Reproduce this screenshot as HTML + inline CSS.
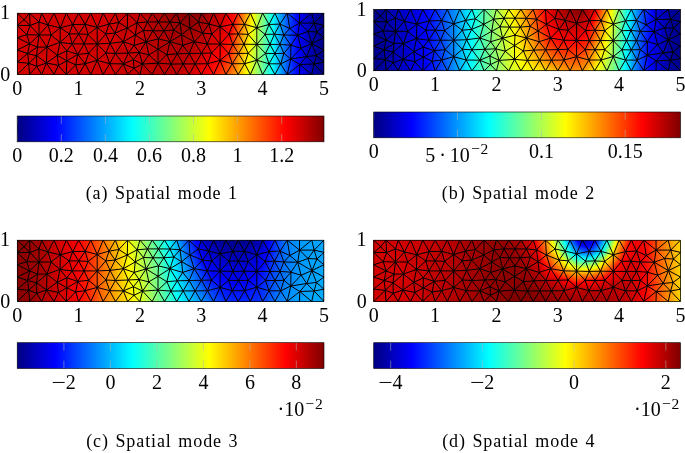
<!DOCTYPE html>
<html><head><meta charset="utf-8"><title>Spatial modes</title>
<style>html,body{margin:0;padding:0;background:#fff}svg{display:block}text{font-family:"Liberation Serif",serif;fill:#000}</style>
</head><body>
<svg width="685" height="453" viewBox="0 0 685 453">
<defs><linearGradient id="jet" x1="0" x2="1" y1="0" y2="0"><stop offset="0" stop-color="#000080"/><stop offset="0.125" stop-color="#0000ff"/><stop offset="0.375" stop-color="#00ffff"/><stop offset="0.625" stop-color="#ffff00"/><stop offset="0.875" stop-color="#ff0000"/><stop offset="1.0" stop-color="#800000"/></linearGradient></defs>
<g><clipPath id="c91"><rect x="17.2" y="13.14" width="306.8" height="61.36"/></clipPath><g clip-path="url(#c91)">
<rect x="17.2" y="13.1" width="306.8" height="61.4" fill="#000084"/>
<path d="M323.2 74.5L323.1 73.5L323.1 62.4L323 61.3L323 50.7L323.2 49.5L323.2 38.1L323 36.9L323 26.4L323.1 25.2L323.1 14.1L323.2 13.1L17.2 13.1L17.2 74.5Z" fill="#00008c"/>
<path d="M320.8 74.5L320.5 70.8L320.5 62.9L320.2 58.8L320.2 52.8L320.8 48.3L320.8 39.3L320.1 34.6L320.1 29L320.5 24.6L320.5 16.7L320.8 13.1L17.2 13.1L17.2 74.5Z" fill="#000094"/>
<path d="M318.5 74.5L318 68.1L318 63.3L317.4 56.3L317.4 54.9L318.4 47L318.4 40.4L317.2 32.3L317.2 31.7L317.9 24L317.9 19.3L318.5 13.1L17.2 13.1L17.2 74.5Z" fill="#00009c"/>
<path d="M316.1 74.5L315.4 65.4L315.4 63.8L315.1 60.4L315.3 55.7L315.2 52.2L316.1 45.8L316.1 41.6L315.2 35.9L315.4 32L315.1 26.1L315.4 23.4L315.4 21.9L316.1 13.1L17.2 13.1L17.2 74.5Z" fill="#0000a4"/>
<path d="M313.8 74.5L313.3 67.8L313.4 64L313.3 63.2L313.6 55.8L313.3 47.4L313.7 44.6L313.7 42.7L313.3 40.3L313.6 31.9L313.3 24.3L313.4 23.1L313.3 19.2L313.8 13.1L17.2 13.1L17.2 74.5Z" fill="#0000ac"/>
<path d="M311.5 74.5L311.5 74.3L311.9 64.1L311.7 61.6L312 56L311.5 44.5L311.6 43.8L311.6 43.4L311.5 42.5L311.9 31.8L311.7 26.5L312 23.1L311.5 13.3L311.5 13.1L17.2 13.1L17.2 74.5Z" fill="#0000b4"/>
<path d="M310.1 74.5L310.1 73.2L310.5 64.1L310.1 60L310.3 56.2L310 48.4L310.1 44.4L310.2 42.6L310 37.6L310.2 31.7L310.1 28.8L310.5 23.1L310.1 14.5L310.1 13.1L17.2 13.1L17.2 74.5Z" fill="#0000bc"/>
<path d="M308.7 74.5L308.7 72L309 64.2L308.5 58.4L308.6 56.3L308.5 52.2L308.7 45L308.8 41.8L308.4 32.8L308.4 31.6L308.4 31L309 23.1L308.7 15.6L308.7 13.1L17.2 13.1L17.2 74.5Z" fill="#0000c3"/>
<path d="M307.3 74.5L307.3 70.8L307.5 64.2L306.9 56.8L306.9 56.5L306.9 56L307.3 45.6L307.4 40.9L307 31.9L307 30.5L307.6 23.1L307.3 16.8L307.3 13.1L17.2 13.1L17.2 74.5Z" fill="#0000cb"/>
<path d="M305.9 74.5L305.9 69.6L306.1 64.3L305.5 57.8L305.7 56.7L305.5 54.8L305.8 46.2L306 40.1L305.7 32.4L305.6 29.1L306.1 23.1L305.9 18L305.9 13.1L17.2 13.1L17.2 74.5Z" fill="#0000d3"/>
<path d="M304.5 74.5L304.5 68.4L304.6 64.3L304.2 59.4L304.5 56.9L304.2 52.8L304.4 46.8L304.6 39.3L304.3 32.8L304.3 27.8L304.6 23.1L304.5 19.1L304.5 13.1L17.2 13.1L17.2 74.5Z" fill="#0000db"/>
<path d="M303.1 74.5L303 67.2L303.1 64.4L302.9 60.9L303.4 57L302.8 50.8L302.9 47.4L303.2 38.4L303 33.3L302.9 26.4L303.2 23.1L303 20.3L303.1 13.1L17.2 13.1L17.2 74.5Z" fill="#0000e3"/>
<path d="M301.6 74.5L301.6 66L301.7 64.4L301.5 62.5L302.2 57.2L301.5 48.8L301.5 48L301.8 37.6L301.6 33.8L301.5 25L301.7 23.1L301.6 21.4L301.6 13.1L17.2 13.1L17.2 74.5Z" fill="#0000eb"/>
<path d="M300.2 74.5L300.2 64.9L300.2 64.5L300.2 64L301.1 57.4L300.3 49L300.3 48L300.2 44.7L300.4 36.8L300.3 34.3L300.2 23.6L300.2 23.1L300.2 22.6L300.2 13.1L17.2 13.1L17.2 74.5Z" fill="#0000f3"/>
<path d="M299 74.5L299.1 65L299 64.1L299.9 57.6L299.2 50.1L299.2 47.6L298.9 39.7L299 35.9L298.9 34.7L298.9 27.9L299 23.4L299.1 22.6L299 13.1L17.2 13.1L17.2 74.5Z" fill="#0000fb"/>
<path d="M298.1 74.5L298.1 65.8L298 63.4L298.7 57.8L298.2 51.2L298.1 47.3L297.6 35.3L297.7 35.2L297.6 35.1L298 24L298.1 21.8L298 13.1L17.2 13.1L17.2 74.5Z" fill="#0004ff"/>
<path d="M297.1 74.5L297.2 66.6L296.9 62.8L297.6 58L297.1 52.4L297.1 47L296.6 36.8L296.8 35.2L296.7 34.3L297 24.6L297.1 21.1L297.1 13.1L17.2 13.1L17.2 74.5Z" fill="#000cff"/>
<path d="M296.1 74.5L296.2 67.3L295.9 62.1L296.4 58.1L296 53.5L296 46.7L295.6 38.2L295.9 35.1L295.7 33.5L296 25.1L296.1 20.3L296.1 13.1L17.2 13.1L17.2 74.5Z" fill="#0014ff"/>
<path d="M295.2 74.5L295.2 68.1L294.8 61.5L295.3 58.3L294.9 54.7L294.9 46.4L294.6 39.7L295 35.1L294.7 32.6L294.9 25.7L295.2 19.5L295.1 13.1L17.2 13.1L17.2 74.5Z" fill="#001cff"/>
<path d="M294.2 74.5L294.2 68.9L293.8 60.9L294.1 58.5L293.9 55.8L293.8 46L293.6 41.1L294.1 35.1L293.7 31.8L293.9 26.2L294.2 18.7L294.2 13.1L17.2 13.1L17.2 74.5Z" fill="#0024ff"/>
<path d="M293.2 74.5L293.3 69.7L292.7 60.2L292.9 58.7L292.8 56.9L292.8 45.7L292.6 42.6L293.2 35.1L292.7 31L292.9 26.8L293.2 18L293.2 13.1L17.2 13.1L17.2 74.5Z" fill="#002cff"/>
<path d="M292.3 74.5L292.3 70.4L291.7 59.6L291.8 58.9L291.7 58.1L291.7 45.4L291.6 44.1L292.3 35.1L291.8 30.2L291.9 27.4L292.3 17.2L292.2 13.1L17.2 13.1L17.2 74.5Z" fill="#0034ff"/>
<path d="M291.3 74.5L291.3 71.2L290.7 59.6L290.7 59.1L290.7 58.9L290.7 45.4L290.7 45.2L290.7 44.9L291.4 35.1L290.8 29.4L290.8 27.9L291.3 16.4L291.3 13.1L17.2 13.1L17.2 74.5Z" fill="#003cff"/>
<path d="M290.4 74.5L290.4 72L289.9 63.1L289.9 59.5L289.9 58.3L289.9 46.3L289.9 45.1L289.9 43.7L290.6 35.1L289.8 28.6L289.8 28.5L290.3 15.6L290.3 13.1L17.2 13.1L17.2 74.5Z" fill="#0044ff"/>
<path d="M289.4 74.5L289.4 72.7L289.1 66.5L289.1 59.8L289.1 57.6L289.1 47.2L289.1 45.1L289.1 42.6L289.7 35.1L289 29.4L289 28.2L289 23.9L289.3 14.9L289.3 13.1L17.2 13.1L17.2 74.5Z" fill="#004cff"/>
<path d="M288.4 74.5L288.4 73.5L288.2 70L288.4 60.2L288.3 56.9L288.3 48.2L288.4 45L288.3 41.4L288.8 35L288.2 30.2L288.3 27.9L288.2 19.1L288.4 14.1L288.4 13.1L17.2 13.1L17.2 74.5Z" fill="#0054ff"/>
<path d="M287.5 74.5L287.5 74.3L287.4 73.5L287.6 60.5L287.5 56.3L287.5 49.1L287.6 44.9L287.5 40.3L287.9 35L287.4 31.1L287.5 27.5L287.4 14.2L287.4 13.3L287.4 13.1L17.2 13.1L17.2 74.5Z" fill="#005cff"/>
<path d="M286.7 74.5L286.6 73.6L286.8 60.9L286.7 55.6L286.7 50L286.8 44.9L286.7 39.1L287 35L286.6 31.9L286.8 27.2L286.6 14L286.6 13.1L17.2 13.1L17.2 74.5Z" fill="#0064ff"/>
<path d="M286 74.5L285.9 72.4L286 61.3L285.9 54.9L285.9 50.9L286.1 44.8L285.9 38L286.1 35L285.9 32.8L286 26.8L285.9 15.1L286 13.1L17.2 13.1L17.2 74.5Z" fill="#006cff"/>
<path d="M285.3 74.5L285.1 71.1L285.2 61.6L285.1 54.3L285.1 51.9L285.3 44.8L285.1 36.8L285.2 35L285.1 33.6L285.3 26.5L285.1 16.3L285.3 13.1L17.2 13.1L17.2 74.5Z" fill="#0074ff"/>
<path d="M284.5 74.5L284.4 69.9L284.5 62L284.3 53.6L284.3 52.8L284.5 44.7L284.3 35.7L284.3 35L284.3 34.5L284.5 26.1L284.4 17.4L284.6 13.1L17.2 13.1L17.2 74.5Z" fill="#007cff"/>
<path d="M283.8 74.5L283.6 68.6L283.7 62.4L283.5 54.4L283.5 53.3L283.5 52.5L283.8 44.7L283.5 35.7L283.5 35L283.5 34.2L283.8 25.8L283.7 18.5L283.9 13.1L17.2 13.1L17.2 74.5Z" fill="#0083ff"/>
<path d="M283.1 74.5L282.9 67.4L282.9 62.7L282.8 56.8L282.9 53.3L282.8 50.9L283 44.6L282.8 37.5L282.9 34.9L282.8 32.1L283 25.4L282.9 19.6L283.2 13.1L17.2 13.1L17.2 74.5Z" fill="#008bff"/>
<path d="M282.4 74.5L282.1 66.1L282.1 63.1L282.1 59.2L282.2 53.3L282.1 49.2L282.2 44.6L282.1 39.2L282.2 34.9L282.1 30.1L282.2 25.1L282.2 20.7L282.5 13.1L17.2 13.1L17.2 74.5Z" fill="#0093ff"/>
<path d="M281.7 74.5L281.3 64.9L281.4 63.4L281.3 61.6L281.5 53.4L281.4 47.6L281.5 44.5L281.4 41L281.5 34.8L281.4 28.1L281.5 24.7L281.5 21.9L281.8 13.1L17.2 13.1L17.2 74.5Z" fill="#009bff"/>
<path d="M281 74.5L280.6 63.9L280.6 63.8L280.6 63.6L280.8 53.4L280.7 45.9L280.7 44.5L280.7 42.8L280.9 34.8L280.7 26L280.7 24.4L280.7 23L281.1 13.1L17.2 13.1L17.2 74.5Z" fill="#00a3ff"/>
<path d="M280.3 74.5L279.9 65.2L279.9 63.8L279.9 62.5L280.1 53.4L280 44.5L280 44.3L280.2 34.7L280 24.1L280 24L280.5 13.1L17.2 13.1L17.2 74.5Z" fill="#00abff"/>
<path d="M279.5 74.5L279.3 66.4L279.2 63.8L279.3 61.3L279.5 53.4L279.3 45.7L279.3 44.4L279.3 43.2L279.5 34.6L279.3 25.3L279.3 24.1L279.4 22.7L279.8 13.1L17.2 13.1L17.2 74.5Z" fill="#00b3ff"/>
<path d="M278.8 74.5L278.6 67.7L278.5 63.8L278.6 60.1L278.8 53.4L278.6 46.9L278.6 44.4L278.7 42L278.9 34.6L278.7 26.5L278.7 24.1L278.7 21.3L279.1 13.1L17.2 13.1L17.2 74.5Z" fill="#00bbff"/>
<path d="M278.1 74.5L277.9 68.9L277.9 63.8L278 59L278.1 53.5L278 48.1L278 44.4L278 40.8L278.2 34.5L278 27.6L278.1 24.1L278.1 20L278.4 13.1L17.2 13.1L17.2 74.5Z" fill="#00c3ff"/>
<path d="M277.4 74.5L277.2 70.2L277.2 63.8L277.3 57.8L277.4 53.5L277.3 49.2L277.3 44.4L277.4 39.7L277.5 34.5L277.4 28.8L277.4 24.2L277.5 18.6L277.7 13.1L17.2 13.1L17.2 74.5Z" fill="#00cbff"/>
<path d="M276.7 74.5L276.6 71.4L276.5 63.8L276.7 56.7L276.7 53.5L276.7 50.4L276.6 44.4L276.7 38.5L276.8 34.4L276.8 30L276.8 24.2L276.8 17.3L277 13.1L17.2 13.1L17.2 74.5Z" fill="#00d3ff"/>
<path d="M276 74.5L275.9 72.6L275.8 63.8L276 55.5L276.1 53.5L276 51.6L276 44.4L276.1 37.3L276.2 34.4L276.1 31.2L276.1 24.2L276.2 15.9L276.3 13.1L17.2 13.1L17.2 74.5Z" fill="#00dbff"/>
<path d="M275.3 74.5L275.2 73.9L275.1 63.8L275.4 54.4L275.4 53.6L275.4 52.8L275.3 44.4L275.5 36.1L275.5 34.3L275.5 32.3L275.5 24.2L275.6 14.6L275.6 13.1L17.2 13.1L17.2 74.5Z" fill="#00e3ff"/>
<path d="M274.5 74.5L274.6 73.8L274.4 63.8L274.7 54L274.7 53.6L274.7 53.2L274.7 44.4L274.8 35L274.8 34.3L274.8 33.5L274.9 24.3L274.9 13.2L275 13.1L17.2 13.1L17.2 74.5Z" fill="#00ebff"/>
<path d="M273.8 74.5L273.9 72.6L273.8 63.8L274 55.2L274 53.6L274 51.9L274 44.4L274.2 34.9L274.2 34.3L274.2 33.8L274.2 24.3L274.3 14.3L274.3 13.1L17.2 13.1L17.2 74.5Z" fill="#00f3ff"/>
<path d="M273 74.5L273.2 71.3L273.1 63.8L273.2 56.4L273.3 53.5L273.4 50.7L273.3 44.4L273.5 36.4L273.5 34.3L273.5 32.7L273.6 24.3L273.7 15.5L273.7 13.1L17.2 13.1L17.2 74.5Z" fill="#00fbff"/>
<path d="M272.3 74.5L272.5 70.1L272.4 63.8L272.5 57.6L272.6 53.5L272.7 49.4L272.7 44.4L272.8 38L272.8 34.3L272.9 31.6L273 24.3L273 16.8L273.1 13.1L17.2 13.1L17.2 74.5Z" fill="#04fffb"/>
<path d="M271.5 74.5L271.8 68.8L271.7 63.8L271.8 58.9L271.9 53.5L272 48.2L272 44.4L272.1 39.6L272.2 34.3L272.3 30.4L272.3 24.4L272.4 18L272.5 13.1L17.2 13.1L17.2 74.5Z" fill="#0cfff3"/>
<path d="M270.8 74.5L271.1 67.5L271 63.8L271.1 60.1L271.2 53.5L271.4 47L271.4 44.4L271.4 41.2L271.5 34.3L271.6 29.3L271.7 24.4L271.7 19.2L271.9 13.1L17.2 13.1L17.2 74.5Z" fill="#14ffeb"/>
<path d="M270 74.5L270.4 66.3L270.3 63.8L270.4 61.3L270.5 53.5L270.7 45.7L270.7 44.4L270.7 42.8L270.9 34.3L271 28.2L271 24.4L271.1 20.5L271.2 13.1L17.2 13.1L17.2 74.5Z" fill="#1cffe3"/>
<path d="M269.3 74.5L269.7 65L269.6 63.8L269.7 62.5L269.8 53.5L270 44.5L270.2 34.3L270.4 27L270.4 24.4L270.4 21.7L270.6 13.1L17.2 13.1L17.2 74.5Z" fill="#24ffdb"/>
<path d="M268.6 74.5L269 63.8L269 63.8L269.1 53.5L269.3 45.8L269.3 44.4L269.4 43.2L269.5 34.3L269.8 25.9L269.8 24.5L269.8 22.9L270 13.1L17.2 13.1L17.2 74.5Z" fill="#2cffd3"/>
<path d="M267.8 74.5L268.2 65.1L268.2 63.5L268.3 61.8L268.4 53.4L268.6 47.3L268.6 44.4L268.8 41.9L268.9 34.4L269.1 24.8L269.1 24.2L269.4 13.1L17.2 13.1L17.2 74.5Z" fill="#34ffcb"/>
<path d="M267.1 74.5L267.4 66.5L267.5 63.3L267.6 59.7L267.7 53.4L267.8 48.8L267.9 44.4L268.1 40.6L268.2 34.4L268.4 25.8L268.5 24.6L268.5 23.7L268.8 13.1L17.2 13.1L17.2 74.5Z" fill="#3cffc3"/>
<path d="M266.3 74.5L266.6 67.8L266.7 63.1L267 57.7L267 53.4L267.1 50.3L267.2 44.4L267.5 39.3L267.6 34.4L267.7 27.7L267.8 24.8L267.9 22.6L268.2 13.1L17.2 13.1L17.2 74.5Z" fill="#44ffbb"/>
<path d="M265.6 74.5L265.8 69.2L266 62.9L266.3 55.7L266.3 53.4L266.4 51.7L266.5 44.4L266.8 38L266.9 34.4L267 29.5L267.1 25L267.3 21.6L267.5 13.1L17.2 13.1L17.2 74.5Z" fill="#4cffb3"/>
<path d="M264.8 74.5L265 70.5L265.2 62.7L265.6 53.7L265.6 53.4L265.6 53.2L265.8 44.4L266.2 36.7L266.2 34.4L266.3 31.3L266.4 25.2L266.7 20.5L266.9 13.1L17.2 13.1L17.2 74.5Z" fill="#54ffab"/>
<path d="M264.1 74.5L264.2 71.9L264.5 62.4L264.8 53.9L264.9 52.8L265 44.4L265.6 35.4L265.6 34.4L265.6 33.1L265.7 25.4L266.2 19.5L266.3 13.1L17.2 13.1L17.2 74.5Z" fill="#5cffa3"/>
<path d="M263.3 74.5L263.4 73.2L263.7 62.2L264.1 54.5L264.2 52L264.3 44.4L264.9 34.7L264.9 34.3L265.1 25.6L265.6 18.4L265.7 13.1L17.2 13.1L17.2 74.5Z" fill="#64ff9b"/>
<path d="M262.6 74.5L262.6 74.4L263 62L263.3 55.2L263.5 51.3L263.6 44.4L264.1 35.6L264.3 33.8L264.4 25.7L265 17.3L265.1 13.1L17.2 13.1L17.2 74.5Z" fill="#6cff93"/>
<path d="M261.7 74.5L261.9 72.6L262.2 61.8L262.5 55.8L262.8 50.6L262.9 44.4L263.4 36.5L263.6 33.2L263.7 25.9L264.4 16.3L264.5 13.1L17.2 13.1L17.2 74.5Z" fill="#74ff8b"/>
<path d="M260.9 74.5L261.2 70.9L261.4 61.6L261.7 56.4L262.1 49.9L262.2 44.4L262.6 37.4L262.9 32.7L263 26.1L263.8 15.2L263.9 13.1L17.2 13.1L17.2 74.5Z" fill="#7cff83"/>
<path d="M260.1 74.5L260.5 69.2L260.7 61.3L260.9 57L261.4 49.1L261.5 44.4L261.8 38.4L262.3 32.2L262.4 26.3L263.2 14.2L263.2 13.1L17.2 13.1L17.2 74.5Z" fill="#83ff7c"/>
<path d="M259.2 74.5L259.8 67.4L259.9 61.1L260.1 57.6L260.7 48.4L260.8 44.4L261.1 39.3L261.6 31.6L261.7 26.5L262.6 13.2L262.6 13.1L17.2 13.1L17.2 74.5Z" fill="#8bff74"/>
<path d="M258.4 74.5L259.1 65.7L259.2 60.9L259.3 58.2L260 47.7L260 44.4L260.3 40.2L260.9 31.1L261 26.7L261.8 15.2L262 13.1L17.2 13.1L17.2 74.5Z" fill="#93ff6c"/>
<path d="M257.6 74.5L258.3 64L258.4 60.7L258.5 58.9L259.3 46.9L259.3 44.4L259.5 41.1L260.3 30.6L260.3 26.8L261 17.3L261.3 13.1L17.2 13.1L17.2 74.5Z" fill="#9bff64"/>
<path d="M256.7 74.5L257.6 62.2L257.7 60.5L257.7 59.5L258.6 46.2L258.6 44.4L258.8 42L259.6 30L259.6 27L260.2 19.3L260.7 13.1L17.2 13.1L17.2 74.5Z" fill="#a3ff5c"/>
<path d="M255.9 74.5L256.9 60.5L256.9 60.2L256.9 60.1L257.9 45.5L257.9 44.4L258 43L258.9 29.5L259 27.2L259.4 21.4L260.1 13.1L17.2 13.1L17.2 74.5Z" fill="#abff54"/>
<path d="M255.1 74.5L256 62L256.1 60.4L256.2 59.7L256.8 50.6L257.2 44.8L257.2 44.4L257.2 43.9L258.3 29L258.3 27.4L258.6 23.4L259.4 13.1L17.2 13.1L17.2 74.5Z" fill="#b3ff4c"/>
<path d="M254.2 74.5L255 64.3L255.3 60.6L255.5 59.1L256.4 44.8L256.5 44.4L256.5 44L256.8 39.7L257.6 28.4L257.6 27.6L257.8 25.4L258.8 13.1L17.2 13.1L17.2 74.5Z" fill="#bbff44"/>
<path d="M253.4 74.5L254 66.5L254.5 60.9L254.7 58.5L255.6 45.6L255.8 44.4L255.9 43.3L256.8 29.5L256.9 27.9L256.9 27.8L256.9 27.5L258.1 13.1L17.2 13.1L17.2 74.5Z" fill="#c3ff3c"/>
<path d="M252.6 74.5L253 68.7L253.7 61.1L254 57.9L254.7 46.5L255 44.3L255.2 42.5L256.2 28.3L256.3 27.7L256.4 26.8L257.5 13.1L17.2 13.1L17.2 74.5Z" fill="#cbff34"/>
<path d="M251.7 74.5L252 70.9L252.8 61.4L253.2 57.3L253.9 47.4L254.3 44.3L254.6 41.8L255.5 28.8L255.7 27.5L255.8 25.6L256.9 13.1L17.2 13.1L17.2 74.5Z" fill="#d3ff2c"/>
<path d="M250.9 74.5L251 73.1L252 61.6L252.5 56.7L253.1 48.2L253.6 44.3L253.9 41L254.7 29.4L255 27.3L255.3 24.3L256.2 13.1L17.2 13.1L17.2 74.5Z" fill="#dbff24"/>
<path d="M250.1 74.5L250.1 74L251.2 61.8L251.7 56.1L252.2 49.1L252.8 44.3L253.3 40.3L254 30L254.4 27.1L254.8 23.1L255.6 13.1L17.2 13.1L17.2 74.5Z" fill="#e3ff1c"/>
<path d="M249.3 74.5L249.4 72.7L250.4 62.1L251 55.5L251.4 50L252.1 44.3L252.6 39.5L253.2 30.6L253.8 26.9L254.2 21.9L254.9 13.1L17.2 13.1L17.2 74.5Z" fill="#ebff14"/>
<path d="M248.5 74.5L248.7 71.4L249.6 62.3L250.3 54.9L250.5 50.8L251.4 44.3L252 38.8L252.5 31.1L253.1 26.8L253.7 20.7L254.3 13.1L17.2 13.1L17.2 74.5Z" fill="#f3ff0c"/>
<path d="M247.7 74.5L248.1 70.1L248.7 62.5L249.5 54.4L249.7 51.7L250.7 44.3L251.3 38L251.7 31.7L252.5 26.6L253.1 19.4L253.7 13.1L17.2 13.1L17.2 74.5Z" fill="#fbff04"/>
<path d="M246.9 74.5L247.4 68.8L247.9 62.8L248.8 53.8L248.8 52.6L249.9 44.3L250.7 37.3L251 32.3L251.9 26.4L252.6 18.2L253 13.1L17.2 13.1L17.2 74.5Z" fill="#fffb00"/>
<path d="M246.2 74.5L246.7 67.5L247.1 63L248 53.9L248 53.3L248.1 53L249.2 44.3L250 36.5L250.3 32.8L251.2 26.2L252.1 17L252.4 13.1L17.2 13.1L17.2 74.5Z" fill="#fff300"/>
<path d="M245.4 74.5L246 66.2L246.3 63.3L246.8 57.3L247.3 53.3L247.5 51.8L248.5 44.3L249.4 35.8L249.5 33.4L250.6 26L251.5 15.8L251.7 13.1L17.2 13.1L17.2 74.5Z" fill="#ffeb00"/>
<path d="M244.6 74.5L245.3 64.9L245.5 63.5L245.7 60.7L246.6 53.3L246.9 50.6L247.8 44.2L248.7 35.1L248.8 34L250 25.9L251 14.6L251.1 13.1L17.2 13.1L17.2 74.5Z" fill="#ffe300"/>
<path d="M243.8 74.5L244.6 63.9L244.7 63.6L245.9 53.3L246.4 49.4L247 44.2L248 34.8L248.1 34.2L249.4 25.7L250.5 13.3L250.5 13.1L17.2 13.1L17.2 74.5Z" fill="#ffdb00"/>
<path d="M243 74.5L243.7 65.3L243.9 63.7L244.1 62.6L245.1 53.3L245.8 48.1L246.3 44.2L247 37L247.4 34.4L247.6 32.9L248.7 25.5L249.7 14.4L249.9 13.1L17.2 13.1L17.2 74.5Z" fill="#ffd300"/>
<path d="M242.2 74.5L242.8 66.8L243.2 63.7L243.4 61.6L244.4 53.3L245.2 46.9L245.6 44.2L246.1 39.3L246.8 34.4L247.1 31.7L248.1 25.3L248.9 15.9L249.3 13.1L17.2 13.1L17.2 74.5Z" fill="#ffcb00"/>
<path d="M241.5 74.5L241.9 68.2L242.5 63.7L242.8 60.6L243.7 53.4L244.7 45.7L244.9 44.2L245.1 41.5L246.1 34.3L246.7 30.4L247.5 25.2L248.2 17.3L248.8 13.1L17.2 13.1L17.2 74.5Z" fill="#ffc300"/>
<path d="M240.7 74.5L241 69.7L241.7 63.7L242.2 59.6L243 53.4L244.1 44.4L244.1 44.2L244.2 43.7L245.5 34.3L246.2 29.1L246.8 25L247.4 18.8L248.2 13.1L17.2 13.1L17.2 74.5Z" fill="#ffbb00"/>
<path d="M239.9 74.5L240.1 71.2L241 63.7L241.6 58.6L242.2 53.4L243.3 45.4L243.5 44.2L243.6 43.5L244.8 34.3L245.8 27.8L246.2 24.8L246.6 20.3L247.7 13.1L17.2 13.1L17.2 74.5Z" fill="#ffb300"/>
<path d="M239.1 74.5L239.2 72.6L240.3 63.7L241 57.6L241.5 53.4L242.3 47L242.9 44.2L243.1 42.5L244.2 34.2L245.3 26.5L245.6 24.6L245.8 21.7L247.1 13.1L17.2 13.1L17.2 74.5Z" fill="#ffab00"/>
<path d="M238.3 74.5L238.4 74.1L239.6 63.7L240.4 56.6L240.8 53.4L241.4 48.5L242.2 44.2L242.5 41.6L243.6 34.2L244.8 25.3L244.9 24.4L245.1 23.2L246.6 13.1L17.2 13.1L17.2 74.5Z" fill="#ffa300"/>
<path d="M237.3 74.5L237.7 73.7L238.8 63.7L239.8 55.6L240.1 53.4L240.5 50.1L241.6 44.2L242 40.7L242.9 34.2L244.3 24.6L244.3 24.3L244.4 24.1L246 13.1L17.2 13.1L17.2 74.5Z" fill="#ff9b00"/>
<path d="M236.1 74.5L237.1 72.6L238.1 63.7L239.2 54.6L239.4 53.4L239.6 51.7L240.9 44.2L241.5 39.7L242.3 34.1L243.4 25.9L243.7 24.3L243.9 23.3L245.4 13.1L17.2 13.1L17.2 74.5Z" fill="#ff9300"/>
<path d="M235 74.5L236.5 71.5L237.4 63.7L238.6 53.6L238.7 53.2L240.3 44.2L241 38.8L241.6 34.1L242.6 27.2L243.1 24.3L243.5 22.6L244.9 13.1L17.2 13.1L17.2 74.5Z" fill="#ff8b00"/>
<path d="M233.8 74.5L235.9 70.4L236.7 63.7L237.7 54.7L237.9 53.4L238.1 52.8L239.7 44.3L240.5 37.9L241 34.1L241.8 28.5L242.5 24.3L243 21.8L244.3 13.1L17.2 13.1L17.2 74.5Z" fill="#ff8300"/>
<path d="M232.7 74.5L235.3 69.3L235.9 63.7L236.8 56.2L237.3 53.4L237.6 52L239 44.3L239.9 36.9L240.3 34L240.9 29.8L241.8 24.3L242.6 21L243.8 13.1L17.2 13.1L17.2 74.5Z" fill="#ff7c00"/>
<path d="M231.5 74.5L234.7 68.2L235.2 63.7L235.9 57.7L236.6 53.4L237.1 51.2L238.4 44.3L239.4 36L239.7 34L240.1 31.1L241.2 24.3L242.2 20.2L243.2 13.1L17.2 13.1L17.2 74.5Z" fill="#ff7400"/>
<path d="M230.4 74.5L234.1 67.1L234.5 63.7L235 59.2L235.9 53.4L236.6 50.5L237.8 44.3L238.9 35.1L239.1 34L239.3 32.4L240.6 24.3L241.7 19.5L242.7 13.1L17.2 13.1L17.2 74.5Z" fill="#ff6c00"/>
<path d="M229.2 74.5L233.5 66L233.8 63.7L234.1 60.7L235.2 53.4L236.2 49.7L237.1 44.3L238.4 34.1L238.5 33.7L240 24.3L241.3 18.7L242.1 13.1L17.2 13.1L17.2 74.5Z" fill="#ff6400"/>
<path d="M228.1 74.5L232.9 64.9L233 63.7L233.2 62.1L234.5 53.4L235.7 48.9L236.5 44.3L237.6 35.2L237.8 34L237.9 33.3L239.4 24.3L240.8 17.9L241.5 13.1L17.2 13.1L17.2 74.5Z" fill="#ff5c00"/>
<path d="M226.9 74.5L232.3 63.8L232.3 63.6L233.9 53.4L235.2 48.1L235.9 44.3L236.8 36.8L237.1 34L237.4 32.4L238.7 24.3L240.4 17.2L241 13.1L17.2 13.1L17.2 74.5Z" fill="#ff5400"/>
<path d="M225.8 74.5L225.8 74.4L231 63.4L231.8 62.4L233.2 53.4L234.7 47.3L235.2 44.3L236 38.3L236.4 34L236.9 31.6L238.1 24.3L240 16.4L240.4 13.1L17.2 13.1L17.2 74.5Z" fill="#ff4c00"/>
<path d="M224.1 74.5L225.1 72.7L229.7 63L231.3 61L232.5 53.3L234.2 46.6L234.6 44.3L235.2 39.9L235.8 34L236.5 30.7L237.5 24.3L239.5 15.6L239.9 13.1L17.2 13.1L17.2 74.5Z" fill="#ff4400"/>
<path d="M222.5 74.5L224.4 71L228.3 62.6L230.9 59.7L231.8 53.3L233.7 45.8L234 44.4L234.3 41.5L235.1 34L236 29.9L236.9 24.3L239.1 14.8L239.3 13.1L17.2 13.1L17.2 74.5Z" fill="#ff3c00"/>
<path d="M220.8 74.5L223.7 69.3L227 62.3L230.4 58.3L231.1 53.3L233.2 45L233.3 44.4L233.5 43.1L234.4 34.1L235.5 29L236.3 24.3L238.6 14.1L238.8 13.1L17.2 13.1L17.2 74.5Z" fill="#ff3400"/>
<path d="M219.2 74.5L223 67.6L225.6 61.9L229.9 56.9L230.5 53.3L232.6 44.9L232.6 44.4L232.7 44.1L233.8 34.1L235 28.2L235.6 24.3L238.2 13.3L238.2 13.1L17.2 13.1L17.2 74.5Z" fill="#ff2c00"/>
<path d="M217.6 74.5L222.3 65.8L224.3 61.5L229.4 55.6L229.8 53.3L231.1 48L231 44.3L232.2 42.7L233.1 34.1L234.5 27.3L235 24.3L237.1 15.2L237.2 13.1L17.2 13.1L17.2 74.5Z" fill="#ff2400"/>
<path d="M215.9 74.5L221.6 64.1L223 61.2L229 54.2L229.1 53.3L229.6 51.2L229.5 44.3L231.7 41.3L232.4 34.1L234 26.5L234.4 24.3L235.9 17.8L236 13.1L17.2 13.1L17.2 74.5Z" fill="#ff1c00"/>
<path d="M214.3 74.5L220.9 62.4L221.6 60.8L226.8 54.8L228.2 52.7L228 44.3L231.2 40L231.8 34.2L233.6 25.6L233.8 24.3L234.7 20.3L234.8 13.1L17.2 13.1L17.2 74.5Z" fill="#ff1400"/>
<path d="M212 74.5L212.8 73.1L218.5 63.7L220.2 60.7L220.3 60.5L221.1 59.6L226.6 51.1L226.5 44.2L230.6 38.6L231.1 34.2L233.1 24.8L233.2 24.3L233.5 22.9L233.6 13.1L17.2 13.1L17.2 74.5Z" fill="#ff0c00"/>
<path d="M209.3 74.5L211.4 70.7L217.3 61.1L218.5 59L220.1 57.1L225.1 49.5L225 44.2L230.1 37.2L230.4 34.2L232.1 26.1L232 24.5L232.3 23.5L232.5 13.1L17.2 13.1L17.2 74.5Z" fill="#ff0400"/>
<path d="M206.5 74.5L210.1 68.3L213.9 62L216.6 57.4L220.1 53.2L223.6 47.8L223.5 44.1L229.6 35.8L229.7 34.2L230.7 30L230.1 24.8L231.2 21.7L231.3 13.1L17.2 13.1L17.2 74.5Z" fill="#fb0000"/>
<path d="M203.8 74.5L208.7 65.9L210.5 62.9L214.6 55.7L220.1 49.2L222 46.2L222 44.1L229.1 34.4L229.1 34.2L229.2 33.9L228.3 25.2L230 19.8L230.1 13.1L17.2 13.1L17.2 74.5Z" fill="#f30000"/>
<path d="M201 74.5L201.1 74.3L207.2 63.7L207.3 63.5L208 62.4L212.7 54.1L220.1 45.3L220.5 44.6L220.5 44.1L222.3 41.6L227.1 32.7L226.4 25.6L228.9 18L229 13.1L17.2 13.1L17.2 74.5Z" fill="#eb0000"/>
<path d="M197.9 74.5L199.5 71.5L203.9 63.8L205.8 60.8L210.4 53L211 52L217.6 44L218.6 42.3L220.1 40.2L225.1 31L224.5 25.9L227.7 16.2L227.8 13.1L17.2 13.1L17.2 74.5Z" fill="#e30000"/>
<path d="M194.7 74.5L197.9 68.6L200.6 63.8L204.3 58.1L207.2 53.1L209.7 49.3L214 44L216.6 39.8L220.1 34.6L223 29.3L222.7 26.3L226.6 14.4L226.6 13.1L17.2 13.1L17.2 74.5Z" fill="#db0000"/>
<path d="M191.6 74.5L196.3 65.8L197.4 63.9L202.7 55.4L204 53.2L208.4 46.5L210.5 43.9L214.6 37.3L220.1 29.1L220.9 27.5L220.8 26.7L223.3 19.2L225 13.1L17.2 13.1L17.2 74.5Z" fill="#d30000"/>
<path d="M187.7 74.5L188.5 73.5L193.3 63.9L194.5 62.7L200.6 53.3L201.1 52.6L207 43.8L207.1 43.7L207.8 42.5L212.5 34.8L214.9 31.2L218.4 26.4L219.2 24.9L222.6 13.1L115.5 13.1L115.6 13.7L115.7 23L116.3 29.6L116.3 32.6L116.7 34.9L116.5 42.6L117 51L117 53.4L117 55.6L116.5 63.8L116.6 72.8L116.4 74.5Z" fill="#cb0000"/>
<path d="M180.8 74.5L185.6 68.1L187.7 63.9L192.5 59.2L196.2 53.3L199.2 49.6L203.4 43.3L205.8 40.7L209.9 33.8L211.2 31.9L215.7 25.7L217.6 21.7L220.1 13.1L131.4 13.1L133.4 19L134.4 24.3L136 29.9L136.9 34.1L137.2 36.3L138 44.3L139.8 51.5L140 52.7L140.3 56.4L140.2 62.9L140 65.3L139.2 73.8L139.1 74.5Z" fill="#c30000"/>
<path d="M169.8 74.5L174.3 70L179.9 63.9L182.3 62.3L184.7 61.2L190.4 55.6L191.9 53.4L197.3 46.6L199.9 42.7L204.5 37.8L207 33.5L210.2 28.8L212.9 25.1L216.1 18.5L217.7 13.1L142.2 13.1L143.7 17.5L144.6 22.1L145.8 25.5L146.7 30.6L148.2 38.5L148.8 41.3L149.6 44.1L150.9 53.7L152.1 57.9L152.7 63.4L153.8 71.3L156.6 74.5Z" fill="#bc0000"/>
<path d="M149.5 13.1L150.6 16.2L151.8 21.9L153.7 29.7L154.1 30.8L154.7 33.4L156.1 39.5L158.1 46.4L159.3 48.5L162.7 52.2L165.4 56.1L167.7 56.6L176.2 55.5L177.7 54.5L179.5 53.7L187.4 51.2L191.1 49L195.4 43.6L196.4 42.1L203.2 34.8L204.2 33.3L209.2 25.6L210.1 24.4L214.6 15.3L215.2 13.1Z" fill="#b40000"/>
<path d="M155.8 13.1L158 21.3L158.2 21.9L158.2 22.2L161.7 30.8L162.3 33.2L170 41.7L170 41.8L170 41.8L170.1 41.8L182.7 45.5L182.8 45.4L183.2 45.2L191.7 40.3L193.6 40L200.7 32.4L201.9 31.6L207.1 23.7L207.9 22.9L212.7 13.1Z" fill="#ac0000"/>
<path d="M161.5 13.1L162.3 16.2L165 22L166.9 26.4L170.1 30.3L172.7 33.5L177.9 37L182 38.2L184.8 36.5L192.2 35.4L196.5 30.7L200.6 27.9L203.8 23.1L206.3 20.5L209.9 13.1Z" fill="#a40000"/>
<path d="M166.6 13.1L170.7 21L171.9 22.2L175.8 27.7L181.1 31.1L185.5 31.6L190.7 30.7L192.4 29L199.3 24.2L200.5 22.4L204.7 18.1L207.1 13.1Z" fill="#9c0000"/>
<path d="M171.2 13.1L173.4 17.5L178.7 22.7L179.3 23.6L180.2 24.1L183 24.4L189.7 25.8L197.1 20.7L199.2 19.6L203 15.7L204.3 13.1Z" fill="#940000"/>
<path d="M175.7 13.1L176.1 13.9L177.4 15.2L183.5 19.1L189.4 20.3L193.6 17.4L201.1 13.6L201.4 13.3L201.5 13.1Z" fill="#8c0000"/>
<path d="M185.6 13.1L187.8 14.5L189.1 14.8L190 14.1L192 13.1Z" fill="#840000"/>
<path d="M17.2 74.5L29.5 74.5M17.2 74.5L17.2 62.2M17.2 74.5L28.8 63.3M29.5 74.5L41.7 74.5M29.5 74.5L28.8 63.3M29.5 74.5L36.7 66.3M41.7 74.5L54 74.5M41.7 74.5L46.5 63M41.7 74.5L36.7 66.3M54 74.5L66.3 74.5M54 74.5L46.5 63M54 74.5L58.4 65.4M66.3 74.5L78.6 74.5M66.3 74.5L58.4 65.4M66.3 74.5L66.8 60.9M66.3 74.5L75.7 64.9M78.6 74.5L90.8 74.5M78.6 74.5L75.7 64.9M78.6 74.5L85.2 63.7M90.8 74.5L103.1 74.5M90.8 74.5L85.2 63.7M90.8 74.5L97.2 60.4M103.1 74.5L115.4 74.5M103.1 74.5L97.2 60.4M103.1 74.5L109.7 63.7M115.4 74.5L127.6 74.5M115.4 74.5L109.7 63.7M115.4 74.5L123.3 63.9M127.6 74.5L139.9 74.5M127.6 74.5L123.3 63.9M127.6 74.5L134 68.3M139.9 74.5L152.2 74.5M139.9 74.5L134 68.3M139.9 74.5L142.6 64.1M152.2 74.5L164.5 74.5M152.2 74.5L142.6 64.1M152.2 74.5L158 63.1M164.5 74.5L176.7 74.5M164.5 74.5L158 63.1M164.5 74.5L171 64.1M176.7 74.5L189 74.5M176.7 74.5L171 64.1M176.7 74.5L183.2 63.9M189 74.5L201.3 74.5M189 74.5L183.2 63.9M189 74.5L195.1 63.9M201.3 74.5L213.6 74.5M201.3 74.5L195.1 63.9M201.3 74.5L207.5 63.7M213.6 74.5L225.8 74.5M213.6 74.5L207.5 63.7M213.6 74.5L220.1 60.4M225.8 74.5L238.1 74.5M225.8 74.5L220.1 60.4M225.8 74.5L232.3 63.7M238.1 74.5L250.4 74.5M238.1 74.5L232.3 63.7M238.1 74.5L244.7 63.7M250.4 74.5L262.6 74.5M250.4 74.5L244.7 63.7M250.4 74.5L256.8 60.2M262.6 74.5L274.9 74.5M262.6 74.5L256.8 60.2M262.6 74.5L269 63.8M274.9 74.5L287.2 74.5M274.9 74.5L269 63.8M274.9 74.5L280.7 63.8M287.2 74.5L299.5 74.5M287.2 74.5L290.8 59M287.2 74.5L280.7 63.8M287.2 74.5L299.8 64.5M299.5 74.5L311.7 74.5M299.5 74.5L299.8 64.5M311.7 74.5L324 74.5M311.7 74.5L299.8 64.5M311.7 74.5L314.1 64M324 74.5L324 62.2M324 74.5L314.1 64M17.2 13.1L29.5 13.1M17.2 13.1L17.2 25.4M17.2 13.1L24.1 19.8M29.5 13.1L41.7 13.1M29.5 13.1L24.1 19.8M29.5 13.1L30.1 25.5M29.5 13.1L39 22M41.7 13.1L54 13.1M41.7 13.1L39 22M41.7 13.1L47.9 25M54 13.1L66.3 13.1M54 13.1L47.9 25M54 13.1L60.3 27.8M66.3 13.1L78.6 13.1M66.3 13.1L60.3 27.8M66.3 13.1L72.7 24.6M78.6 13.1L90.8 13.1M78.6 13.1L72.7 24.6M78.6 13.1L85.1 24.3M90.8 13.1L103.1 13.1M90.8 13.1L85.1 24.3M90.8 13.1L97.2 27.5M103.1 13.1L115.4 13.1M103.1 13.1L97.2 27.5M103.1 13.1L109.1 24.1M115.4 13.1L127.6 13.1M115.4 13.1L109.1 24.1M115.4 13.1L118.8 22.5M127.6 13.1L139.9 13.1M127.6 13.1L118.8 22.5M127.6 13.1L127.3 28M127.6 13.1L137.2 22.8M139.9 13.1L152.2 13.1M139.9 13.1L137.2 22.8M139.9 13.1L147.5 21.9M152.2 13.1L164.5 13.1M152.2 13.1L147.5 21.9M152.2 13.1L158.5 21.9M164.5 13.1L176.7 13.1M164.5 13.1L158.5 21.9M164.5 13.1L169.9 22M176.7 13.1L189 13.1M176.7 13.1L169.9 22M176.7 13.1L180 22.8M189 13.1L201.3 13.1M189 13.1L180 22.8M189 13.1L189.9 28M189 13.1L198.5 22M201.3 13.1L213.6 13.1M201.3 13.1L198.5 22M201.3 13.1L208.8 24.1M213.6 13.1L225.8 13.1M213.6 13.1L208.8 24.1M213.6 13.1L220.1 26.8M225.8 13.1L238.1 13.1M225.8 13.1L220.1 26.8M225.8 13.1L232.8 24.3M238.1 13.1L250.4 13.1M238.1 13.1L232.8 24.3M238.1 13.1L244.5 24.3M250.4 13.1L262.6 13.1M250.4 13.1L244.5 24.3M250.4 13.1L256.8 27.8M262.6 13.1L274.9 13.1M262.6 13.1L256.8 27.8M262.6 13.1L269 24.5M274.9 13.1L287.2 13.1M274.9 13.1L269 24.5M274.9 13.1L280 24.1M287.2 13.1L299.5 13.1M287.2 13.1L280 24.1M287.2 13.1L299.6 23.1M287.2 13.1L289.8 28.5M299.5 13.1L311.7 13.1M299.5 13.1L299.6 23.1M311.7 13.1L324 13.1M311.7 13.1L299.6 23.1M311.7 13.1L314.2 23.1M324 13.1L324 25.4M324 13.1L314.2 23.1M17.2 62.2L17.2 50M17.2 62.2L27.6 53.5M17.2 62.2L28.8 63.3M17.2 50L17.2 37.7M17.2 50L29.6 43.9M17.2 50L27.6 53.5M17.2 37.7L17.2 25.4M17.2 37.7L26.8 34.7M17.2 37.7L29.6 43.9M17.2 25.4L24.1 19.8M17.2 25.4L30.1 25.5M17.2 25.4L26.8 34.7M324 62.2L324 50M324 62.2L316.5 55.5M324 62.2L314.1 64M324 50L324 37.7M324 50L311.9 43.6M324 50L316.5 55.5M324 37.7L324 25.4M324 37.7L316.9 32M324 37.7L311.9 43.6M324 25.4L314.2 23.1M324 25.4L316.9 32M24.1 19.8L30.1 25.5M30.1 25.5L39 22M30.1 25.5L26.8 34.7M30.1 25.5L39 35M39 22L47.9 25M39 22L39 35M47.9 25L60.3 27.8M47.9 25L39 35M47.9 25L51.1 35M60.3 27.8L72.7 24.6M60.3 27.8L51.1 35M60.3 27.8L69.3 33.9M60.3 27.8L60 42.4M72.7 24.6L69.3 33.9M72.7 24.6L78.7 33.9M72.7 24.6L85.1 24.3M26.8 34.7L39 35M26.8 34.7L29.6 43.9M39 35L51.1 35M39 35L29.6 43.9M39 35L37.5 47.1M39 35L47 47.1M51.1 35L47 47.1M51.1 35L60 42.4M69.3 33.9L78.7 33.9M69.3 33.9L60 42.4M69.3 33.9L72.2 43.9M78.7 33.9L72.2 43.9M78.7 33.9L85.1 24.3M78.7 33.9L88.1 34.4M78.7 33.9L84.1 43.9M29.6 43.9L37.5 47.1M29.6 43.9L27.6 53.5M37.5 47.1L47 47.1M37.5 47.1L27.6 53.5M37.5 47.1L36.6 55.8M47 47.1L60 42.4M47 47.1L36.6 55.8M47 47.1L57.3 55.3M47 47.1L46.5 63M60 42.4L72.2 43.9M60 42.4L66.8 50.8M60 42.4L57.3 55.3M72.2 43.9L66.8 50.8M72.2 43.9L77.7 54.4M72.2 43.9L84.1 43.9M27.6 53.5L36.6 55.8M27.6 53.5L28.8 63.3M66.8 50.8L57.3 55.3M66.8 50.8L77.7 54.4M66.8 50.8L66.8 60.9M36.6 55.8L28.8 63.3M36.6 55.8L46.5 63M36.6 55.8L36.7 66.3M57.3 55.3L46.5 63M57.3 55.3L58.4 65.4M57.3 55.3L66.8 60.9M77.7 54.4L66.8 60.9M77.7 54.4L75.7 64.9M77.7 54.4L84.1 43.9M77.7 54.4L88.6 53.3M77.7 54.4L85.2 63.7M28.8 63.3L36.7 66.3M46.5 63L58.4 65.4M46.5 63L36.7 66.3M58.4 65.4L66.8 60.9M66.8 60.9L75.7 64.9M75.7 64.9L85.2 63.7M85.1 24.3L97.2 27.5M85.1 24.3L88.1 34.4M97.2 27.5L109.1 24.1M97.2 27.5L88.1 34.4M97.2 27.5L105.7 33.9M97.2 27.5L97.2 43.9M109.1 24.1L118.8 22.5M109.1 24.1L105.7 33.9M109.1 24.1L115.1 33.1M118.8 22.5L127.3 28M118.8 22.5L115.1 33.1M127.3 28L137.2 22.8M127.3 28L115.1 33.1M127.3 28L135.2 35M127.3 28L123.3 41.7M137.2 22.8L135.2 35M137.2 22.8L147.5 21.9M137.2 22.8L143.5 30.5M88.1 34.4L84.1 43.9M88.1 34.4L97.2 43.9M105.7 33.9L115.1 33.1M105.7 33.9L97.2 43.9M105.7 33.9L110.1 43.4M115.1 33.1L110.1 43.4M115.1 33.1L123.3 41.7M135.2 35L123.3 41.7M135.2 35L134.2 45.4M135.2 35L143.5 30.5M135.2 35L146.1 41.9M84.1 43.9L97.2 43.9M84.1 43.9L88.6 53.3M97.2 43.9L110.1 43.4M97.2 43.9L88.6 53.3M97.2 43.9L105.9 53M97.2 43.9L97.2 60.4M110.1 43.4L123.3 41.7M110.1 43.4L105.9 53M110.1 43.4L115.4 53.5M123.3 41.7L134.2 45.4M123.3 41.7L115.4 53.5M123.3 41.7L128.3 53M134.2 45.4L128.3 53M134.2 45.4L139.2 52.5M134.2 45.4L146.1 41.9M88.6 53.3L85.2 63.7M88.6 53.3L97.2 60.4M105.9 53L115.4 53.5M105.9 53L97.2 60.4M105.9 53L109.7 63.7M115.4 53.5L128.3 53M115.4 53.5L109.7 63.7M115.4 53.5L123.3 63.9M128.3 53L139.2 52.5M128.3 53L123.3 63.9M128.3 53L133.4 59.7M139.2 52.5L133.4 59.7M139.2 52.5L146.1 41.9M139.2 52.5L148.8 54.9M139.2 52.5L142.6 64.1M85.2 63.7L97.2 60.4M97.2 60.4L109.7 63.7M109.7 63.7L123.3 63.9M123.3 63.9L134 68.3M123.3 63.9L133.4 59.7M134 68.3L133.4 59.7M134 68.3L142.6 64.1M133.4 59.7L142.6 64.1M147.5 21.9L158.5 21.9M147.5 21.9L143.5 30.5M147.5 21.9L153 30.8M158.5 21.9L169.9 22M158.5 21.9L153 30.8M158.5 21.9L163.9 30.8M169.9 22L180 22.8M169.9 22L163.9 30.8M169.9 22L173.8 30M180 22.8L189.9 28M180 22.8L173.8 30M180 22.8L181.6 34.7M189.9 28L198.5 22M189.9 28L181.6 34.7M189.9 28L194.2 41.7M189.9 28L202.5 33.1M198.5 22L208.8 24.1M198.5 22L202.5 33.1M143.5 30.5L153 30.8M143.5 30.5L146.1 41.9M153 30.8L163.9 30.8M153 30.8L146.1 41.9M153 30.8L158.5 38.9M163.9 30.8L173.8 30M163.9 30.8L158.5 38.9M163.9 30.8L170 41.7M173.8 30L181.6 34.7M173.8 30L170 41.7M181.6 34.7L170 41.7M181.6 34.7L182.7 45.4M181.6 34.7L194.2 41.7M146.1 41.9L158.5 38.9M146.1 41.9L158 49.3M146.1 41.9L148.8 54.9M158.5 38.9L170 41.7M158.5 38.9L158 49.3M170 41.7L182.7 45.4M170 41.7L158 49.3M170 41.7L166.9 54.7M170 41.7L177.3 53.8M182.7 45.4L194.2 41.7M182.7 45.4L177.3 53.8M182.7 45.4L189.2 53.5M194.2 41.7L189.2 53.5M194.2 41.7L202.5 33.1M194.2 41.7L207.2 43.9M194.2 41.7L201.5 53.3M158 49.3L148.8 54.9M158 49.3L166.9 54.7M158 49.3L158 63.1M148.8 54.9L142.6 64.1M148.8 54.9L158 63.1M166.9 54.7L177.3 53.8M166.9 54.7L158 63.1M166.9 54.7L171 64.1M177.3 53.8L189.2 53.5M177.3 53.8L171 64.1M177.3 53.8L183.2 63.9M189.2 53.5L183.2 63.9M189.2 53.5L195.1 63.9M189.2 53.5L201.5 53.3M142.6 64.1L158 63.1M158 63.1L171 64.1M171 64.1L183.2 63.9M183.2 63.9L195.1 63.9M195.1 63.9L201.5 53.3M195.1 63.9L207.5 63.7M208.8 24.1L220.1 26.8M208.8 24.1L202.5 33.1M208.8 24.1L211.8 33.9M220.1 26.8L232.8 24.3M220.1 26.8L211.8 33.9M220.1 26.8L229 34.2M220.1 26.8L220.1 44.1M232.8 24.3L244.5 24.3M232.8 24.3L229 34.2M232.8 24.3L238.3 33.9M244.5 24.3L256.8 27.8M244.5 24.3L238.3 33.9M244.5 24.3L248.2 34.4M256.8 27.8L248.2 34.4M256.8 27.8L256.8 44.4M256.8 27.8L269 24.5M256.8 27.8L265.1 34.4M202.5 33.1L211.8 33.9M202.5 33.1L207.2 43.9M211.8 33.9L207.2 43.9M211.8 33.9L220.1 44.1M229 34.2L238.3 33.9M229 34.2L220.1 44.1M229 34.2L232.8 44.4M238.3 33.9L248.2 34.4M238.3 33.9L232.8 44.4M238.3 33.9L244 44.2M248.2 34.4L244 44.2M248.2 34.4L256.8 44.4M207.2 43.9L220.1 44.1M207.2 43.9L201.5 53.3M207.2 43.9L211.5 53M220.1 44.1L232.8 44.4M220.1 44.1L211.5 53M220.1 44.1L228.6 53.3M220.1 44.1L220.1 60.4M232.8 44.4L244 44.2M232.8 44.4L228.6 53.3M232.8 44.4L238.5 53.5M244 44.2L256.8 44.4M244 44.2L238.5 53.5M244 44.2L248.2 53.3M256.8 44.4L248.2 53.3M256.8 44.4L256.8 60.2M256.8 44.4L265.1 34.4M256.8 44.4L270 44.4M256.8 44.4L265.5 53.4M201.5 53.3L211.5 53M201.5 53.3L207.5 63.7M211.5 53L207.5 63.7M211.5 53L220.1 60.4M228.6 53.3L238.5 53.5M228.6 53.3L220.1 60.4M228.6 53.3L232.3 63.7M238.5 53.5L248.2 53.3M238.5 53.5L232.3 63.7M238.5 53.5L244.7 63.7M248.2 53.3L244.7 63.7M248.2 53.3L256.8 60.2M207.5 63.7L220.1 60.4M220.1 60.4L232.3 63.7M232.3 63.7L244.7 63.7M244.7 63.7L256.8 60.2M256.8 60.2L265.5 53.4M256.8 60.2L269 63.8M269 24.5L280 24.1M269 24.5L265.1 34.4M269 24.5L274.4 34.2M280 24.1L289.8 28.5M280 24.1L274.4 34.2M280 24.1L283.8 35M299.6 23.1L314.2 23.1M299.6 23.1L289.8 28.5M299.6 23.1L297.7 35.2M299.6 23.1L308 31.5M314.2 23.1L308 31.5M314.2 23.1L316.9 32M289.8 28.5L283.8 35M289.8 28.5L297.7 35.2M265.1 34.4L274.4 34.2M265.1 34.4L270 44.4M274.4 34.2L283.8 35M274.4 34.2L270 44.4M274.4 34.2L280 44.4M283.8 35L297.7 35.2M283.8 35L280 44.4M283.8 35L290.9 45.2M297.7 35.2L308 31.5M297.7 35.2L290.9 45.2M297.7 35.2L311.9 43.6M297.7 35.2L301.1 48.2M308 31.5L316.9 32M308 31.5L311.9 43.6M316.9 32L311.9 43.6M270 44.4L280 44.4M270 44.4L265.5 53.4M270 44.4L274.9 53.6M280 44.4L290.9 45.2M280 44.4L274.9 53.6M280 44.4L283.9 53.3M290.9 45.2L301.1 48.2M290.9 45.2L283.9 53.3M290.9 45.2L290.8 59M311.9 43.6L301.1 48.2M311.9 43.6L306.7 56.5M311.9 43.6L316.5 55.5M301.1 48.2L290.8 59M301.1 48.2L306.7 56.5M265.5 53.4L274.9 53.6M265.5 53.4L269 63.8M274.9 53.6L283.9 53.3M274.9 53.6L269 63.8M274.9 53.6L280.7 63.8M283.9 53.3L290.8 59M283.9 53.3L280.7 63.8M290.8 59L306.7 56.5M290.8 59L280.7 63.8M290.8 59L299.8 64.5M306.7 56.5L316.5 55.5M306.7 56.5L299.8 64.5M306.7 56.5L314.1 64M316.5 55.5L314.1 64M269 63.8L280.7 63.8M299.8 64.5L314.1 64" fill="none" stroke="#000" stroke-width="1.0" stroke-linecap="round"/></g>
<rect x="17.2" y="13.14" width="306.8" height="61.36" fill="none" stroke="#000" stroke-width="0.5"/></g>
<g><clipPath id="c444"><rect x="373.7" y="9.44" width="306.8" height="61.36"/></clipPath><g clip-path="url(#c444)">
<rect x="373.7" y="9.4" width="306.8" height="61.4" fill="#000084"/>
<path d="M373.7 9.4L373.7 70.8L680.5 70.8L680.5 9.4Z" fill="#00008c"/>
<path d="M377.1 9.4L377.1 12.7L377.1 18.9L377.1 21.7L377.1 25L377.1 32.9L377.1 35.7L377.1 44.6L377.1 47.4L377.1 55.7L377.1 58.9L377.1 67.5L377.1 70.8L677.1 70.8L676.6 66.7L676.6 59.2L675.9 54.5L675.9 49.7L677.1 44.5L677.1 35.6L675.8 30.3L675.8 26.1L676.7 20.8L676.7 13.3L677.4 9.4Z" fill="#000094"/>
<path d="M380.6 9.4L380.6 21.8L380.6 28.4L380.6 31.8L380.6 37.5L380.6 42.9L380.6 48.6L380.6 52.7L380.6 59.2L380.6 64.1L380.6 70.8L673.7 70.8L672.7 62.5L672.7 59.9L672 55.4L672.2 51.9L672.1 49.5L673.7 42.7L673.7 37.4L672.2 31.2L672.3 28.3L672.1 24.1L672.9 19.9L672.9 17.2L674.2 9.4Z" fill="#00009c"/>
<path d="M384.1 9.4L384.2 11.7L384.2 19.5L384.1 21.8L384.2 28.7L384.2 31L384.2 33.7L384.1 39.2L384.1 41.1L384.2 49.7L384.2 50L384.2 59.5L384.2 60.7L384.1 70.8L670.3 70.8L669.5 65L669.8 60.3L669.7 59.3L670.1 52.1L669.6 43.2L670.2 40.9L670.2 39.1L669.7 37L670.2 28.2L669.9 20.6L670 19.4L669.9 16L670.9 9.4Z" fill="#0000a4"/>
<path d="M387.7 9.4L387.7 11L387.7 21.4L387.7 23L387.6 31.1L387.7 38.7L387.7 40.8L387.7 47.5L387.7 50.7L387.7 57.4L387.7 60.5L387.7 68.9L387.7 70.8L667.5 70.8L667.5 70.2L668 60.4L667.7 57.3L667.9 52.3L667.5 42.2L667.6 40.3L667.6 39.5L667.5 37.2L668.1 28L667.9 23.3L668.4 19.4L668 9.6L668 9.4Z" fill="#0000ac"/>
<path d="M391.2 9.4L391.1 14.3L391.1 20L391.1 26.7L391.1 31.2L391.1 35.4L391.2 42.2L391.1 45.2L391.2 54L391.2 61.9L391.2 64.9L391.2 70.8L665.8 70.8L665.8 68.8L666.2 60.5L665.7 55.3L665.8 52.6L665.6 46.9L665.9 41L666.1 38.5L665.7 31.7L666 27.9L665.9 26L666.7 19.4L666.4 11L666.4 9.4Z" fill="#0000b4"/>
<path d="M394.7 9.4L394.6 17.6L394.6 18.7L394.6 30.4L394.6 31.3L394.6 32.1L394.6 38.2L394.7 43.4L394.7 50.7L394.7 53.3L394.7 62.1L394.6 65L394.7 70.8L664.1 70.8L664.1 67.4L664.4 60.5L663.7 53.3L663.7 52.8L663.7 51.7L664.2 41.7L664.5 37.6L664 28L664 27.4L665 19.4L664.8 12.3L664.9 9.4Z" fill="#0000bc"/>
<path d="M398.1 9.4L398.1 9.7L398.3 19.3L398.3 28.2L398.3 31.3L398.3 35.5L398.3 43.4L398.3 47.7L398.3 55.9L398.3 60.9L398.1 70.6L398.1 70.8L662.4 70.8L662.4 65.9L662.7 60.6L662 54.2L662.1 53L662 51.1L662.5 42.4L662.9 36.6L662.5 28.5L662.6 25.9L663.4 19.4L663.2 13.6L663.3 9.4Z" fill="#0000c3"/>
<path d="M402 9.4L401.9 16.5L402 20.5L402 24.1L402.1 31.3L401.9 41.1L401.9 43.4L402 44.6L401.9 58.5L401.9 59.7L401.9 62.1L402 70.8L660.7 70.8L660.7 64.5L660.9 60.6L660.4 56L660.7 53.2L660.5 48.8L660.8 43.1L661.3 35.7L661 29.1L661.1 24.4L661.7 19.4L661.5 14.9L661.8 9.4Z" fill="#0000cb"/>
<path d="M405.8 9.4L405.7 18.8L405.7 21.6L405.7 25.4L405.8 31.3L405.8 36.7L405.7 42.6L405.7 45.2L405.7 57.4L405.7 59.9L405.8 63.5L405.8 70.8L659 70.8L659 63.1L659.1 60.7L658.8 57.9L659.2 53.5L658.9 46.5L659.1 43.8L659.7 34.7L659.5 29.6L659.6 22.9L660.1 19.4L659.9 16.3L660.3 9.4Z" fill="#0000d3"/>
<path d="M409.7 9.4L409.6 11.2L409.5 22.5L409.6 29.8L409.6 32.9L409.5 41.2L409.6 48.3L409.6 54.6L409.5 60.6L409.7 69.5L409.7 70.8L657.3 70.8L657.3 61.7L657.3 60.8L657.2 59.7L657.8 53.7L657.4 44.6L657.4 44.4L657.4 43.9L658.1 33.8L657.9 30.2L658.1 21.4L658.4 19.4L658.3 17.6L658.7 9.4Z" fill="#0000db"/>
<path d="M413.1 9.4L413.4 16L413.2 23.3L413.3 26.9L413.3 36L413.3 39.9L413.5 51.3L413.5 51.8L413.4 61.4L413.4 64.7L413.2 70.8L655.6 70.8L655.8 61.2L655.7 60.5L656.3 53.9L656 46.1L656.1 44L656.1 38.8L656.5 32.8L656.4 30.7L656.7 19.9L656.7 19.4L656.7 18.9L657.2 9.4Z" fill="#0000e3"/>
<path d="M416.5 9.4L417 23.7L417 24.1L417 24.2L416.9 38.3L416.9 38.8L417 39.3L416.7 50.2L416.7 53.3L416.8 60.6L416.8 63.9L416.5 70.8L654.4 70.8L654.5 62.2L654.4 59.6L654.9 54.1L654.6 47.6L654.7 43.6L654.8 33.7L654.9 31.9L654.9 31.2L655 26.5L655.4 19.8L655.5 18.9L655.7 9.4Z" fill="#0000eb"/>
<path d="M419.9 9.4L420.1 16.1L419.7 23.4L419.9 26.2L419.9 35.6L419.7 39.1L420.1 43.1L420 48.7L420 55.2L420 58.9L420 67.6L419.9 70.8L653.1 70.8L653.2 63.2L653 58.8L653.4 54.4L653.2 49.1L653.4 43.3L653.5 32.6L653.7 31.5L653.6 30.9L654.1 20.5L654.4 18L654.7 9.4Z" fill="#0000f3"/>
<path d="M651.9 70.8L651.9 64.2L651.7 58L652 54.6L651.8 50.6L652.1 42.9L652.1 34.5L652.7 31.4L652.4 30L652.9 21.2L653.4 17.2L653.6 9.4L423.1 9.4L423.1 10L422.4 22.6L422.9 28.3L422.9 32.9L422.5 39.4L423.2 47L423.2 47.2L423.2 57.1L423.2 57.2L423.2 59.7L423.1 70.5L423.1 70.8Z" fill="#0000fb"/>
<path d="M650.6 70.8L650.7 65.2L650.3 57.2L650.5 54.8L650.4 52.1L650.7 42.5L650.8 36.5L651.6 31.4L651.3 29L651.6 21.9L652.4 16.4L652.6 9.4L425.2 9.4L425.6 14.4L425.2 21.9L425.8 30.1L425.8 30.2L425.9 30.4L425.3 39.8L425.7 44.1L425.4 47.8L425.4 55.9L425.5 58.2L425.4 68.1L425.3 70.8Z" fill="#0004ff"/>
<path d="M649.4 70.8L649.4 66.2L648.9 56.3L649.1 55.1L649 53.5L649.4 42.1L649.4 38.5L650.6 31.4L650.1 28.1L650.4 22.6L651.3 15.6L651.5 9.4L427.3 9.4L428 18.8L427.9 21.2L428.1 23.9L427.9 30.2L428.2 38.3L428.1 40.1L428.2 40.9L427.6 48.5L427.6 54.6L427.8 59.2L427.7 65.8L427.4 70.8Z" fill="#000cff"/>
<path d="M648.1 70.8L648.1 67.3L647.6 55.5L647.6 55.3L647.6 55L648.1 41.7L648.1 40.4L649.6 31.4L649 27.1L649.2 23.2L650.3 14.7L650.5 9.4L429.4 9.4L430.2 19L430.1 20.8L430.2 22.4L429.9 30.2L430.2 37.9L430.1 40.2L430.2 43.1L429.8 49.3L429.8 53.3L430.1 60.2L430.1 63.4L429.6 70.8Z" fill="#0014ff"/>
<path d="M646.9 70.8L646.9 68.3L646.4 59L646.6 55.7L646.6 54.8L646.9 42L647 41.4L647 40.9L648.6 31.4L647.8 26.1L647.9 23.9L649.3 13.9L649.4 9.4L431.5 9.4L432 15.5L431.9 20.8L432.1 25.4L431.9 30.2L432.1 35L431.9 40.2L432.2 46.9L432 50L432 52L432.3 60.6L432.3 61.2L432.3 61.5L431.8 70.8Z" fill="#001cff"/>
<path d="M645.6 70.8L645.6 69.3L645.3 63.7L645.7 56.1L645.7 54L646 43.1L646.2 41.4L646.2 39.7L647.6 31.4L646.7 25.2L646.7 24.6L648.2 13.1L648.3 9.4L433.6 9.4L433.8 11.9L433.6 20.8L434 28.3L433.9 30.2L434 32.1L433.6 40.2L434.2 50.7L434.2 50.9L434 61L434.1 67.7L434 70.8Z" fill="#0024ff"/>
<path d="M644.3 70.8L644.3 70.3L644.3 68.4L644.8 56.5L644.8 53.3L645.1 44.1L645.3 41.3L645.4 38.6L646.6 31.4L645.7 25.5L645.8 24.6L645.8 22.4L647.2 12.3L647.3 9.4L435.5 9.4L435.5 10.3L435.3 20.7L435.8 29.4L435.7 30.3L435.8 31.3L435.4 40.2L435.8 48.1L435.7 50.6L435.8 52.7L435.7 60.7L435.9 69.5L435.8 70.8Z" fill="#002cff"/>
<path d="M643.3 70.8L643.3 70.2L644 56.9L643.9 52.5L644.1 45.2L644.5 41.3L644.5 37.4L645.6 31.4L644.8 26.4L645 24.3L645.2 18.6L646.2 11.4L646.2 9.4L437.1 9.4L437.2 13.1L437 20.7L437.4 27L437.3 30.4L437.4 34.3L437.2 40.2L437.4 45.4L437.3 50.4L437.4 54.7L437.3 60.5L437.5 66.9L437.4 70.8Z" fill="#0034ff"/>
<path d="M642.6 70.8L642.5 68.9L643.1 57.3L643.1 51.8L643.2 46.3L643.7 41.2L643.7 36.2L644.5 31.3L644 27.3L644.3 23.9L644.6 14.8L645.2 10.6L645.2 9.4L438.7 9.4L438.9 16L438.8 20.7L439 24.5L438.9 30.4L439 37.4L438.9 40.2L439.1 42.7L438.9 50.2L439 56.7L439 60.3L439.1 64.3L438.9 70.8Z" fill="#003cff"/>
<path d="M641.8 70.8L641.7 67.5L642.2 57.7L642.2 51.1L642.3 47.4L642.9 41.2L642.9 35L643.5 31.3L643.1 28.3L643.5 23.6L643.9 11L644.1 9.8L644.1 9.4L440.3 9.4L440.5 18.8L440.5 20.6L440.6 22.1L440.5 30.5L440.7 40L440.7 40.2L440.7 40.4L440.5 50.1L440.7 58.7L440.6 60.1L440.7 61.7L440.4 70.8Z" fill="#0044ff"/>
<path d="M641 70.8L640.9 66.2L641.3 58.1L641.3 50.3L641.3 48.5L642 41.1L642.1 33.9L642.5 31.3L642.2 29.2L642.8 23.2L643.2 10.1L643.3 9.4L441.8 9.4L442.1 19.5L442.1 20.7L442.1 22.5L442 30.6L442.2 36.4L442.1 40.2L442.2 43.5L442 49.9L442.2 58.5L442.2 59.9L442.2 60.9L442 70.8Z" fill="#004cff"/>
<path d="M640.3 70.8L640.1 64.9L640.4 58.5L640.4 49.6L640.4 49.5L641.2 41.1L641.3 32.7L641.5 31.3L641.3 30.2L642 22.9L642.4 11.4L642.7 9.4L443.4 9.4L443.6 16.6L443.5 21.1L443.6 27.6L443.6 30.7L443.7 32.9L443.5 40.2L443.7 46.6L443.6 49.7L443.7 53.9L443.6 59.5L443.7 63.8L443.5 70.8Z" fill="#0054ff"/>
<path d="M639.5 70.8L639.3 63.6L639.6 59L639.5 52.3L639.7 49.6L639.7 48.1L640.4 41L640.5 31.5L640.5 31.3L640.5 31.1L641.3 22.6L641.6 12.6L642 9.4L445 9.4L445.1 13.7L445 21.5L445.1 30.3L445.1 31.3L445 40.2L445.1 49.5L445.1 49.6L445.1 59.1L445.2 66.6L445 70.8Z" fill="#005cff"/>
<path d="M638.8 70.8L638.5 62.3L638.7 59.4L638.7 55.2L639.1 49.6L639 46.5L639.6 40.9L639.6 33L639.8 31.2L639.8 29.8L640.5 22.2L640.8 13.8L641.4 9.4L446.6 9.4L446.6 10.8L446.4 21.9L446.5 29.2L446.5 32.8L446.4 40.2L446.6 47.9L446.6 50.8L446.5 58.7L446.6 69.4L446.6 70.8Z" fill="#0064ff"/>
<path d="M638 70.8L637.7 61L637.8 59.8L637.8 58.1L638.4 49.6L638.3 44.9L638.7 40.9L638.8 35.1L639.2 31.2L639.2 28.1L639.8 21.9L640 15L640.8 9.4L448 9.4L448 11L447.8 22.3L447.9 28.2L447.9 34.2L447.9 40.2L448 46.4L448 52L447.9 58.3L448 69.2L448 70.8Z" fill="#006cff"/>
<path d="M637.3 70.8L637 60.5L637 60.1L637 59.7L637.7 49.7L637.7 43.4L637.9 40.8L637.9 37.2L638.5 31.1L638.6 26.3L639 21.5L639.2 16.2L640.1 9.4L449.3 9.4L449.4 14.2L449.3 22.6L449.4 27.1L449.4 35.7L449.3 40.2L449.4 44.9L449.4 53.1L449.3 57.9L449.4 66.2L449.3 70.8Z" fill="#0074ff"/>
<path d="M636.5 70.8L636.2 61.8L636.4 60.1L636.4 58.7L637 49.7L637 41.8L637.1 40.8L637.1 39.3L637.9 31.1L638 24.6L638.3 21.2L638.4 17.4L639.5 9.4L450.7 9.4L450.8 17.3L450.7 23L450.8 26L450.8 37.1L450.7 40.2L450.8 43.4L450.8 54.3L450.7 57.5L450.8 63.1L450.5 70.8Z" fill="#007cff"/>
<path d="M635.7 70.8L635.5 63.2L635.8 60.1L635.8 57.6L636.4 49.7L636.3 41.1L636.3 40.7L636.3 40.4L637.3 31L637.4 22.8L637.6 20.8L637.6 18.7L638.8 9.4L452 9.4L452.2 20.4L452.2 23.4L452.2 25L452.2 38.6L452.2 40.2L452.2 41.8L452.2 55.4L452.2 57.1L452.2 60L451.8 70.8Z" fill="#0083ff"/>
<path d="M635 70.8L634.8 64.5L635.1 60.1L635.2 56.6L635.7 49.7L635.6 42.3L635.8 40.7L635.8 39.5L636.7 31L636.8 21.1L636.8 20.5L636.8 19.9L638.2 9.4L453.3 9.4L453.6 23.5L453.6 23.8L453.6 23.9L453.6 40.1L453.6 40.2L453.6 40.3L453.6 56.6L453.6 56.7L453.6 57L453.1 70.8Z" fill="#008bff"/>
<path d="M634.2 70.8L634.1 65.8L634.5 60.1L634.6 55.5L635 49.8L635 43.5L635.2 40.7L635.3 38.5L636 30.9L636.1 21.1L636.2 20.4L636.2 19.7L637.5 9.4L454.7 9.4L454.9 20.9L454.8 23.5L454.8 24.6L454.8 38.9L454.8 40.1L454.8 41.3L454.8 55.8L454.8 57L454.8 59.2L454.3 70.8Z" fill="#0093ff"/>
<path d="M633.5 70.8L633.4 67.2L633.9 60.1L634 54.5L634.4 49.8L634.3 44.7L634.6 40.7L634.7 37.5L635.4 30.9L635.5 22.2L635.6 20.4L635.7 18.6L636.9 9.4L456 9.4L456.2 17.8L456.1 23.1L456.1 25.6L456.1 37.4L456 40.1L456 42.6L456 54.8L455.9 57.3L455.9 62L455.6 70.8Z" fill="#009bff"/>
<path d="M632.7 70.8L632.6 68.5L633.3 60.1L633.4 53.4L633.7 49.8L633.7 45.8L634 40.7L634.2 36.5L634.8 30.9L634.8 23.4L635 20.4L635.2 17.6L636.3 9.4L457.3 9.4L457.4 14.7L457.3 22.8L457.3 26.5L457.3 36L457.2 40L457.2 43.8L457.2 53.7L457 57.6L457.1 64.8L456.9 70.8Z" fill="#00a3ff"/>
<path d="M631.9 70.8L631.9 69.9L632.7 60.1L632.8 52.4L633 49.8L633 47L633.4 40.7L633.7 35.6L634.2 30.8L634.2 24.5L634.4 20.4L634.7 16.5L635.6 9.4L458.7 9.4L458.7 11.6L458.5 22.4L458.5 27.4L458.5 34.6L458.3 40L458.4 45L458.4 52.7L458.2 57.9L458.3 67.6L458.1 70.8Z" fill="#00abff"/>
<path d="M631.2 70.8L631.3 70.5L632.1 60.1L632.2 51.3L632.3 49.8L632.3 48.2L632.8 40.7L633.1 34.6L633.5 30.8L633.6 25.7L633.9 20.5L634.2 15.4L635 9.4L460 9.4L460 10.1L459.7 22.1L459.7 28.3L459.7 33.2L459.5 40L459.5 46.3L459.5 51.7L459.3 58.2L459.4 70.4L459.4 70.8Z" fill="#00b3ff"/>
<path d="M630.6 70.8L630.7 69.5L631.4 60.1L631.6 50.3L631.7 49.9L631.7 49.4L632.3 40.7L632.6 33.6L632.9 30.7L632.9 26.9L633.3 20.5L633.7 14.4L634.3 9.4L461.2 9.4L461.1 12.2L460.9 21.7L461 29.3L461 31.7L460.7 39.9L460.7 47.5L460.7 50.7L460.5 58.5L460.6 69.2L460.6 70.8Z" fill="#00bbff"/>
<path d="M629.9 70.8L630.2 68.6L630.8 60.1L631 50.5L631 49.9L631.1 49.3L631.7 40.7L632.1 32.7L632.3 30.7L632.3 28L632.7 20.5L633.2 13.3L633.7 9.4L462.3 9.4L462.3 14.3L462.2 21.4L462.2 30.2L462.2 30.3L461.9 39.9L461.9 48.7L461.9 49.7L461.6 58.8L461.7 67.4L461.7 70.8Z" fill="#00c3ff"/>
<path d="M629.3 70.8L629.6 67.6L630.2 60.1L630.4 51.6L630.4 49.9L630.6 48.3L631.1 40.7L631.5 31.7L631.6 30.6L631.7 29.2L632.2 20.5L632.7 12.2L633.1 9.4L463.5 9.4L463.5 16.5L463.4 21L463.4 26.8L463.4 30.1L463.3 32.5L463.1 39.8L463.1 47.7L463.1 49.3L463 51L462.8 59.1L462.8 65.5L462.8 70.8Z" fill="#00cbff"/>
<path d="M628.6 70.8L629.1 66.6L629.6 60.1L629.7 52.7L629.8 49.8L630.1 47.4L630.5 40.7L631 30.7L631 30.6L631 30.4L631.6 20.6L632.2 11.1L632.4 9.4L464.7 9.4L464.6 18.6L464.6 20.7L464.6 23.3L464.5 30L464.4 34.9L464.2 39.8L464.3 45L464.2 49.4L464.1 54L463.9 59.4L463.9 63.7L464 70.8Z" fill="#00d3ff"/>
<path d="M628 70.8L628.5 65.6L629 60.1L629.1 53.8L629.2 49.8L629.6 46.4L629.9 40.7L630.4 31.8L630.4 30.6L630.5 29.8L631 20.6L631.7 10.1L631.8 9.4L465.9 9.4L465.8 20L465.8 20.3L465.8 20.7L465.7 29.9L465.5 37.3L465.4 39.7L465.4 42.4L465.4 49.4L465.1 57L465.1 59.7L465.1 61.8L465.1 70.8Z" fill="#00dbff"/>
<path d="M627.3 70.8L628 64.7L628.4 60.1L628.5 54.9L628.6 49.8L629 45.5L629.4 40.7L629.7 33.3L629.8 30.6L630 28.8L630.4 20.6L631.1 10L631.2 9.4L467.1 9.4L467 17.9L467 20.1L466.9 22.4L466.8 29.8L466.6 39.7L466.6 39.7L466.5 49.5L466.2 59.9L466.2 60.1L466.2 70.8Z" fill="#00e3ff"/>
<path d="M626.7 70.8L627.5 63.7L627.7 60.1L627.8 56L628 49.8L628.5 44.5L628.8 40.7L629.1 34.8L629.2 30.6L629.5 27.9L629.9 20.6L630.5 11.2L630.6 9.4L468.3 9.4L468.2 15.8L468.1 20L468.1 24.1L468 29.7L467.8 37.2L467.8 39.5L467.7 41.9L467.7 49.5L467.4 57.8L467.4 60L467.3 62.2L467.4 70.8Z" fill="#00ebff"/>
<path d="M626 70.8L626.9 62.7L627.1 60.1L627.2 57.1L627.4 49.8L628 43.5L628.2 40.7L628.4 36.3L628.6 30.6L628.9 27L629.3 20.6L629.8 12.5L630 9.4L469.5 9.4L469.5 13.7L469.3 19.8L469.2 25.8L469.2 29.6L469 34.7L469 39.4L468.9 44L468.8 49.6L468.6 55.6L468.6 60L468.5 64.4L468.5 70.8Z" fill="#00f3ff"/>
<path d="M625.4 70.8L626.4 61.7L626.5 60.1L626.5 58.2L626.8 49.8L627.5 42.6L627.6 40.7L627.8 37.8L628 30.6L628.4 26.1L628.7 20.7L629.2 13.7L629.5 9.4L470.7 9.4L470.7 11.6L470.5 19.6L470.3 27.6L470.3 29.6L470.3 32.1L470.1 39.2L470 46.2L470 49.7L469.9 53.4L469.9 60.1L469.6 66.5L469.6 70.8Z" fill="#00fbff"/>
<path d="M624.7 70.8L625.8 60.7L625.9 60.1L625.9 59.3L626.2 49.8L627 41.6L627 40.7L627.1 39.3L627.4 30.6L627.9 25.1L628.1 20.7L628.5 14.9L628.9 9.4L471.9 9.4L471.6 19.4L471.5 29.3L471.5 29.6L471.3 39.1L471.1 48.3L471.1 49.7L471.1 51.2L471.1 60.1L470.8 68.7L470.8 70.8Z" fill="#04fffb"/>
<path d="M624.1 70.8L625.2 60.5L625.3 60L625.3 59.6L625.6 49.8L626.5 40.8L626.5 40.7L626.8 30.6L627.4 24.2L627.6 20.7L627.9 16.2L628.3 9.4L473 9.4L473 12.4L472.8 19.2L472.7 26.3L472.6 29L472.6 30.6L472.5 38.9L472.3 49.1L472.3 49.7L472.3 50.3L472.3 60.1L471.9 70.7L471.9 70.8Z" fill="#0cfff3"/>
<path d="M623.4 70.8L624.4 61.8L624.6 59.8L624.7 57.9L624.9 49.7L625.7 42.4L625.8 40.7L625.9 39.5L626.2 30.6L626.9 23.3L627 20.7L627.2 17.4L627.8 9.4L474.1 9.4L474.1 15.4L474 19L473.9 22.8L473.8 28.5L473.8 31.8L473.7 38.8L473.5 47.3L473.5 49.7L473.5 51.9L473.5 60.1L473.2 69L473.2 70.8Z" fill="#14ffeb"/>
<path d="M622.8 70.8L623.6 63.2L623.9 59.6L624.2 56.1L624.3 49.7L624.9 43.9L625.2 40.7L625.3 38.4L625.6 30.7L626.3 22.4L626.4 20.8L626.6 18.7L627.2 9.4L475.2 9.4L475.1 18.4L475.1 18.9L475.1 19.3L474.9 28L475 33L474.9 38.6L474.7 45.5L474.8 49.6L474.7 53.5L474.7 60.1L474.5 67.3L474.5 70.8Z" fill="#1cffe3"/>
<path d="M622.1 70.8L622.8 64.6L623.2 59.4L623.6 54.4L623.7 49.7L624.2 45.4L624.5 40.7L624.8 37.2L625 30.7L625.8 21.4L625.9 20.8L625.9 19.9L626.6 9.4L476.3 9.4L476.2 17.8L476.3 19.4L476.1 27.5L476.1 34.2L476 38.5L475.9 43.7L476 49.6L476 55.1L476 60.1L475.8 65.6L475.9 70.8Z" fill="#24ffdb"/>
<path d="M621.5 70.8L622 65.9L622.5 59.2L623 52.7L623.1 49.7L623.4 47L623.9 40.7L624.2 36.1L624.4 30.7L625.2 21.4L625.3 20.8L625.3 20.5L626.1 9.4L477.4 9.4L477.4 16.7L477.4 20.2L477.2 27L477.3 35.4L477.2 38.3L477.2 41.9L477.2 49.5L477.2 56.8L477.2 60.1L477.1 63.9L477.2 70.8Z" fill="#2cffd3"/>
<path d="M620.8 70.8L621.2 67.3L621.8 59L622.5 51L622.5 49.7L622.6 48.5L623.2 40.7L623.7 35L623.8 30.7L624.5 23.4L624.7 21L624.8 19.6L625.5 9.4L478.5 9.4L478.5 15.5L478.5 20.9L478.4 26.6L478.4 36.6L478.4 38.2L478.4 40.1L478.5 49.5L478.4 58.4L478.4 60.2L478.3 62.1L478.5 70.8Z" fill="#34ffcb"/>
<path d="M620.1 70.8L620.4 68.7L621.1 58.8L621.9 49.8L621.9 49.6L622.6 40.7L623.1 33.8L623.2 30.7L623.7 25.4L624.1 21.2L624.3 18.7L624.9 9.4L479.6 9.4L479.6 14.3L479.6 21.6L479.5 26.1L479.6 37.8L479.6 38L479.6 38.3L479.7 49.5L479.6 60L479.6 60.2L479.6 60.4L479.8 70.8Z" fill="#3cffc3"/>
<path d="M619.5 70.8L619.6 70L620.4 58.6L621.1 50.4L621.3 48.9L622 40.7L622.5 32.7L622.6 30.7L622.9 27.4L623.5 21.3L623.8 17.8L624.3 9.4L480.7 9.4L480.7 13.1L480.8 22.4L480.7 25.6L480.7 34.7L480.8 37.4L480.8 38.3L480.8 40.3L480.9 49.4L480.9 57.8L480.9 59.7L481 60.7L481 63.1L481.1 70.8Z" fill="#44ffbb"/>
<path d="M618.7 70.8L618.9 70.1L619.7 58.4L620.3 51L620.7 48.3L621.3 40.7L622 31.5L622 30.7L622.1 29.3L622.9 21.5L623.3 16.9L623.8 9.4L481.8 9.4L481.8 12L481.9 23.1L481.9 25.1L481.9 30.8L482 36.7L482.1 38.8L482.1 43.2L482.2 49.4L482.1 55.1L482.3 59.2L482.4 61.3L482.4 66.5L482.5 70.8Z" fill="#4cffb3"/>
<path d="M617.8 70.8L618.3 68.7L619 58.2L619.6 51.6L620.1 47.7L620.7 40.7L621.4 31L621.4 30.6L622.3 21.6L622.8 16L623.2 9.4L482.9 9.4L482.9 10.8L483 23.8L483 24.6L483 26.9L483.3 36L483.4 39.2L483.4 46.1L483.4 49.3L483.4 52.3L483.6 58.6L483.8 61.8L483.8 69.8L483.8 70.8Z" fill="#54ffab"/>
<path d="M616.9 70.8L617.7 67.2L618.3 58L618.8 52.2L619.5 47.1L620 40.7L620.7 31.8L620.9 30.2L621.7 21.8L622.3 15L622.6 9.4L484 9.4L484 9.6L484 14.4L484.2 24.1L484.2 24.7L484.5 35.3L484.6 39.6L484.6 48.9L484.6 49.3L484.6 49.6L484.9 58.1L485.2 62.4L485.1 69.8L485.2 70.8Z" fill="#5cffa3"/>
<path d="M616 70.8L617.1 65.7L617.6 57.8L618 52.8L618.9 46.5L619.4 40.7L620 32.7L620.4 29.7L621.1 22L621.8 14.1L622.1 9.4L485.2 9.4L485.2 10.5L485.4 23.4L485.5 25.8L485.7 34.7L485.9 40L485.9 47.8L486 49.2L486 50.9L486.3 57.5L486.6 63L486.5 68.5L486.8 70.8Z" fill="#64ff9b"/>
<path d="M615.1 70.8L616.5 64.2L616.9 57.6L617.3 53.4L618.3 45.9L618.7 40.7L619.3 33.5L619.8 29.3L620.5 22.1L621.2 13.2L621.5 9.4L486.4 9.4L486.4 11.8L486.6 22.8L486.7 26.9L486.9 34L487.2 40.5L487.1 46.2L487.4 49.1L487.4 52.8L487.6 57L487.9 63.6L487.9 67.1L488.3 70.8Z" fill="#6cff93"/>
<path d="M614.2 70.8L615.9 62.7L616.2 57.4L616.5 54L617.7 45.2L618.1 40.7L618.6 34.4L619.3 28.9L619.9 22.3L620.7 12.3L620.9 9.4L487.6 9.4L487.7 13L487.8 22.2L488 28L488.1 33.3L488.4 40.9L488.4 44.6L488.8 49.1L488.9 54.7L488.9 56.4L489.3 64.1L489.3 65.7L489.9 70.8Z" fill="#74ff8b"/>
<path d="M613.2 70.8L615.2 61.3L615.5 57.2L615.8 54.6L617.1 44.6L617.4 40.7L617.8 35.2L618.8 28.5L619.4 22.5L620.2 11.4L620.4 9.4L488.8 9.4L488.9 14.3L489 21.5L489.3 29.2L489.4 32.6L489.7 41.3L489.7 43L490.2 49L490.3 55.5L490.3 56.2L490.8 64.5L490.8 64.9L491.4 70.8Z" fill="#7cff83"/>
<path d="M612.3 70.8L614.6 59.8L614.8 57L615 55.2L616.5 44L616.8 40.7L617.1 36.1L618.2 28L618.8 22.6L619.7 10.5L619.8 9.4L490 9.4L490.2 15.6L490.2 20.9L490.6 30.3L490.6 31.9L490.9 39.9L491 41.6L491 42.1L491.6 49L491.7 53.8L492 57L492.3 63.7L492.5 66.7L492.9 70.8Z" fill="#83ff7c"/>
<path d="M611.4 70.8L614 58.3L614.2 56.7L614.2 55.8L615.9 43.4L616.2 40.7L616.4 36.9L617.7 27.6L618.2 22.8L619.2 9.6L619.2 9.4L491.2 9.4L491.4 16.8L491.5 20.3L491.8 30.6L491.8 31.2L491.9 31.4L492.5 41.1L492.6 44.4L493 48.9L493.1 52L493.6 57.8L493.8 62.9L494.2 68.5L494.5 70.8Z" fill="#8bff74"/>
<path d="M610.5 70.8L613.4 56.8L613.5 56.5L613.5 56.4L615.3 42.8L615.5 40.7L615.7 37.8L617.2 27.2L617.6 22.9L618.5 11L618.7 9.4L492.4 9.4L492.6 18.1L492.7 19.6L492.8 24.3L493.2 30.5L493.4 32.4L494 40.7L494.3 46.7L494.4 48.8L494.5 50.3L495.2 58.5L495.4 62.2L496 70.3L496 70.8Z" fill="#93ff6c"/>
<path d="M609.6 70.8L612 59.5L612.6 56.7L612.8 56.1L613.3 52.6L614.7 42.2L614.9 40.7L615 38.6L616.6 26.8L617 23.1L617.8 12.8L618.2 9.4L493.6 9.4L493.9 18.4L493.9 19.1L494 19.5L494.6 29.7L495 33.4L495.5 40.3L495.9 48.5L495.9 48.8L496 49.7L496.8 59.3L496.9 61.4L497.3 67.2L497.7 70.8Z" fill="#9bff64"/>
<path d="M608.7 70.8L610.3 63.3L611.7 57L612.2 55.6L613.3 47.7L614.2 41.5L614.2 40.7L614.3 39.5L616.1 26.3L616.4 23.3L617.1 14.6L617.7 9.4L494.8 9.4L495 14.5L495.3 19L495.5 21.4L496 29L496.6 34.4L497 39.8L497.3 46.3L497.6 49.3L498.2 57.4L498.4 60.1L498.5 60.7L498.6 62.3L499.4 70.8Z" fill="#a3ff5c"/>
<path d="M607.8 70.8L608.6 67.1L610.7 57.2L611.5 55.1L613.3 42.7L613.6 40.9L613.6 40.7L613.6 40.3L615.6 25.9L615.8 23.4L616.4 16.5L617.2 9.4L496.1 9.4L496.1 10.6L496.7 18.8L497.1 23.3L497.4 28.2L498.2 35.4L498.5 39.4L498.7 44.2L499.3 49.7L500 59L500.1 60.3L500.2 61.7L501.1 70.8Z" fill="#abff54"/>
<path d="M606.9 70.8L606.9 70.8L609.8 57.5L610.9 54.6L612.8 41.2L612.9 40.7L613 40.3L613.3 38.1L615 25.5L615.2 23.6L615.6 18.3L616.7 9.4L497.4 9.4L497.5 10.7L498.1 18.7L498.7 25.2L498.8 27.5L499.8 36.5L500 39L500.1 42L501 50.1L501.5 56.9L501.9 60.2L502.2 63.7L502.9 70.8Z" fill="#b3ff4c"/>
<path d="M605.8 70.8L606.3 69.6L608.9 57.8L610.2 54L612 42L612.2 40.7L612.5 39.8L613.3 33.7L614.5 25L614.6 23.8L614.9 20.1L616.2 9.4L498.7 9.4L499.1 12.5L499.5 18.6L500.2 26.5L500.2 26.8L500.4 28.6L501.4 37.5L501.4 38.5L501.5 39.8L502.6 50.5L503 54.7L503.6 60.1L504.1 65.8L504.6 70.8Z" fill="#bbff44"/>
<path d="M604.7 70.8L605.6 68.5L608 58.1L609.6 53.5L611.1 42.9L611.6 40.6L612 39.2L613.3 29.3L613.9 24.6L614 23.9L614.2 21.9L615.7 9.4L500 9.4L500.6 14.3L501 18.4L501.4 23.9L501.7 26.9L502.9 37.7L502.9 38.1L503 38.5L503.4 42.2L504.3 51L504.4 52.5L505.4 60L506 67.9L506.3 70.8Z" fill="#c3ff3c"/>
<path d="M603.6 70.8L605 67.3L607 58.3L609 53L610.3 43.8L610.9 40.6L611.5 38.6L613.3 24.9L613.4 24.2L613.4 24.1L613.4 23.8L615.2 9.4L501.3 9.4L502.2 16L502.4 18.3L502.6 21.2L503.2 26.9L504.2 35.7L504.4 37.8L504.7 39.6L505.9 50.8L506.1 52L507.1 59.9L507.9 70L508 70.8Z" fill="#cbff34"/>
<path d="M602.5 70.8L604.4 66.1L606.1 58.6L608.3 52.5L609.5 44.6L610.2 40.6L611 38L612.8 24.5L612.9 24L613 23.4L614.7 9.4L502.7 9.4L503.7 17.8L503.8 18.2L503.8 18.6L504.7 27L505.4 33.6L505.8 37.4L506.4 40.6L507.4 49.9L508.1 53.7L508.8 59.7L509.6 69L510.2 70.8Z" fill="#d3ff2c"/>
<path d="M601.5 70.8L603.8 65L605.2 58.9L607.7 52L608.6 45.5L609.6 40.6L610.5 37.4L612.1 25L612.4 23.8L612.6 22.5L614.2 9.4L504 9.4L504.9 16.5L505.1 18.2L505.5 20.6L506.2 27L506.7 31.6L507.3 37.1L508.2 41.7L508.9 49L510.1 55.5L510.6 59.6L511.1 66L512.6 70.8Z" fill="#dbff24"/>
<path d="M600.4 70.8L603.2 63.8L604.3 59.1L607 51.5L607.8 46.4L608.9 40.6L610 36.9L611.5 25.5L611.9 23.7L612.2 21.6L613.7 9.4L505.3 9.4L506 14.5L506.4 18.2L507.3 23.6L507.7 27.1L508 29.5L508.8 36.7L509.9 42.8L510.5 48.1L512.1 57.2L512.3 59.5L512.6 63L515 70.8Z" fill="#e3ff1c"/>
<path d="M599.3 70.8L602.6 62.7L603.3 59.4L606.4 51L606.9 47.2L608.2 40.6L609.5 36.3L610.8 26L611.3 23.5L611.8 20.7L613.2 9.4L506.7 9.4L507.1 12.5L507.7 18.2L509.2 26.6L509.2 27.1L509.3 27.5L510.2 36.4L511.6 43.9L512 47.2L514 59L514.1 59.4L514.1 60L517.5 70.8Z" fill="#ebff14"/>
<path d="M598.2 70.8L602 61.5L602.4 59.7L605.8 50.5L606.1 48.1L607.6 40.6L609 35.7L610.2 26.5L610.8 23.4L611.4 19.8L612.7 9.4L508 9.4L508.1 10.5L509.1 18.2L510.3 25.7L510.5 27.1L511 29.3L511.7 36L513.3 44.9L513.5 46.3L514.5 52L515.5 58.4L516 59.5L518.6 66.7L519.9 70.8Z" fill="#f3ff0c"/>
<path d="M597.1 70.8L601.4 60.3L601.5 59.9L605.1 49.9L605.3 48.9L606.9 40.6L608.5 35.1L609.6 27L610.3 23.3L611 19L612.2 9.4L509.3 9.4L509.5 10.5L510.4 18.2L511.4 24L511.8 27.1L512.7 31.9L513.1 35.7L514.6 43.4L514.8 45.4L515 46L516.8 57.2L518 59.7L521.6 69.7L523.7 70.8Z" fill="#fbff04"/>
<path d="M596.1 70.8L599 63.7L600.7 60L600.9 59.4L604.4 49.6L604.5 49.3L606.2 40.6L608 34.5L608.9 27.5L609.8 23.1L610.7 18.1L611.7 9.4L510.4 9.4L511 12.7L511.7 18.2L512.4 22.3L513 27.1L514.5 34.6L514.6 35.3L514.9 36.8L516 44.7L516.7 47L518.1 56L519.9 59.8L522.9 67.8L528.5 70.8Z" fill="#fffb00"/>
<path d="M595 70.8L595.8 68.9L599.9 60L600.3 58.5L603.6 49.6L604.1 48.3L605.5 40.6L607.5 34L608.3 28L609.3 23L610.3 17.2L611.2 9.4L511.6 9.4L512.6 14.9L513 18.2L513.4 20.6L514.3 27.1L515.7 34.1L515.9 35.4L517.1 44L518.4 48L519.4 54.7L521.9 59.9L524.1 65.9L533.2 70.7L533.3 70.8L533.3 70.8Z" fill="#fff300"/>
<path d="M593.9 70.8L594.3 70.3L599.1 60L599.8 57.7L602.7 49.6L603.6 47.2L604.9 40.6L607 33.4L607.6 28.5L608.7 22.8L609.9 16.3L610.7 9.4L512.8 9.4L514.2 17.1L514.3 18.2L514.5 18.9L515.5 27.1L516.6 32.7L517.2 35.7L518.2 43.3L520 49L520.7 53.5L523.9 60.1L525.3 63.9L531.2 67.1L534 69.6L536.7 70.8Z" fill="#ffeb00"/>
<path d="M592.9 70.8L593.9 69.6L598.4 60L599.3 56.8L601.9 49.6L603.1 46.2L604.2 40.5L606.5 32.8L607 29L608.2 22.7L609.5 15.4L610.2 9.4L514 9.4L515.5 17.4L515.6 18.2L515.8 19.6L516.8 27.1L517.6 31.3L518.4 36.1L519.3 42.6L521.7 50L522 52.3L525.9 60.2L526.5 62L529.2 63.4L534.7 68.4L540 70.8Z" fill="#ffe300"/>
<path d="M591.9 70.8L593.5 68.8L597.6 60L598.8 55.9L601 49.6L602.6 45.2L603.5 40.5L606 32.2L606.3 29.5L607.7 22.5L609.1 14.5L609.7 9.4L515.2 9.4L516.4 16.1L516.7 18.2L517.4 22.2L518 27.1L518.6 29.8L519.7 36.4L520.4 41.9L523.4 51L523.4 51.2L527.7 60.2L527.8 60.4L535.5 67.1L543.3 70.8Z" fill="#ffdb00"/>
<path d="M590.8 70.8L593.1 68L596.8 60L598.2 55.1L600.2 49.7L602.2 44.1L602.9 40.5L605.4 31.6L605.7 30L607.2 22.4L608.7 13.6L609.2 9.4L516.4 9.4L517.3 14.7L517.8 18.2L519 24.8L519.3 27.1L519.5 28.4L520.9 36.7L521.6 41.2L523.9 48.7L524.8 50.9L528.5 58.8L529.9 60.3L536.2 65.9L545.1 70.1L545.7 70.5L546.3 70.8Z" fill="#ffd300"/>
<path d="M589.8 70.8L592.7 67.3L596.1 60L597.7 54.2L599.4 49.7L601.7 43.1L602.2 40.5L604.9 31.1L605 30.5L606.7 22.2L608.3 12.8L608.7 9.4L517.5 9.4L518.3 13.4L518.9 18.2L520.5 27L520.5 27.1L520.6 27.4L522.2 37L522.7 40.5L524.5 46.3L526.2 50.8L529.3 57.4L532 60.3L537 64.7L544 68L546.2 69.6L548.7 70.8Z" fill="#ffcb00"/>
<path d="M588.8 70.8L592.3 66.5L595.3 60L597.2 53.3L598.5 49.7L601.2 42.1L601.5 40.5L603.7 32.9L604.4 30.7L604.5 30.3L606.1 22.1L607.9 11.9L608.2 9.4L518.7 9.4L519.2 12L520 18.2L521.4 25.7L521.6 27L522.3 30.5L523.5 37.3L523.8 39.8L525.1 43.9L527.6 50.6L530.1 56.1L534 60.3L537.7 63.5L542.9 66L546.7 68.7L551 70.8Z" fill="#ffc300"/>
<path d="M587.7 70.8L591.9 65.7L594.5 60L596.7 52.5L597.7 49.7L600.7 41.1L600.9 40.5L601.6 37.8L603.8 30.7L604.2 29.3L605.6 21.9L607.5 11L607.7 9.4L519.9 9.4L520.1 10.6L521.1 18.3L522.2 24.4L522.6 26.9L524 33.5L524.7 37.6L524.9 39.1L525.7 41.5L529 50.5L531 54.7L536.1 60.2L538.4 62.3L541.7 63.9L547.2 67.9L553.4 70.8Z" fill="#ffbb00"/>
<path d="M586.7 70.8L591.5 65L593.8 60L596.1 51.6L596.8 49.7L599.5 42.1L600.2 40.5L600.3 40.2L603.1 30.7L603.8 28.4L605.1 21.8L607.2 10.1L607.2 9.4L521.1 9.4L521.1 9.7L522.2 18.3L523.1 23.1L523.7 26.8L525.7 36.6L526 37.9L526 38.4L526.3 39.1L530.4 50.4L531.8 53.3L538.1 60.2L539.2 61.1L540.6 61.8L547.7 67L555.8 70.8Z" fill="#ffb300"/>
<path d="M585.6 70.8L591 64.2L593 60L595.6 50.7L596 49.7L597.4 45.7L599.6 40.5L599.9 39.4L602.5 30.6L603.4 27.4L604.6 21.6L606.7 9.8L606.7 9.4L522.2 9.4L522.5 12L523.3 18.3L524 21.8L524.7 26.8L526.9 36.9L527.1 37.7L527.3 38.2L528.6 41.4L531.8 50.2L532.6 52L538.9 58.8L539.9 60L540.1 60.2L548.2 66.1L557.7 70.6L557.9 70.6L558.2 70.8Z" fill="#ffab00"/>
<path d="M584.6 70.8L590.6 63.5L592.2 60L595.1 49.9L595.1 49.8L595.3 49.3L599 40.5L599.5 38.7L601.9 30.6L603.1 26.4L604.1 21.5L605.8 11.4L606.3 9.4L523.3 9.4L523.9 14.3L524.4 18.3L524.9 20.6L525.8 26.7L527.5 34.9L528 37.1L528.6 38.6L532.3 47.6L533.2 50.1L533.5 50.6L535.2 52.5L540.4 59L541.8 60.2L548.7 65.2L556.8 69L558.5 69.6L561.5 70.8Z" fill="#ffa300"/>
<path d="M583.6 70.8L590.2 62.7L591.5 60L593.8 51.8L594.4 49.7L594.7 49.2L598.4 40.5L599.1 37.9L601.2 30.6L602.7 25.4L603.6 21.3L605 12.9L605.8 9.4L524.4 9.4L525.3 16.7L525.6 18.3L525.7 19.3L526.8 26.6L528.2 32.9L529 36.6L530 39L534.2 49.4L534.6 50L541 58L543.6 60.2L549.2 64.3L555.9 67.5L559.1 68.5L564.7 70.8Z" fill="#ff9b00"/>
<path d="M582.5 70.8L589.8 61.9L590.7 60L592.4 54.1L593.7 49.7L594.3 48.7L597.8 40.5L598.6 37.2L600.6 30.5L602.4 24.5L603 21.2L604.2 14.5L605.3 9.4L525.5 9.4L526.6 18L526.7 18.4L526.8 19.2L527.9 26.5L528.8 30.9L530 36L531.3 39.4L535 48.3L535.9 50L541.6 57L545.3 60.2L549.8 63.5L555 65.9L559.7 67.5L568 70.8Z" fill="#ff9300"/>
<path d="M526.6 9.4L527.6 16.8L527.7 18.4L528.3 22.4L529 26.4L529.5 28.9L530.9 35.4L532.6 39.8L535.7 47.1L537.2 50L542.1 56L547 60.2L550.3 62.6L554.1 64.4L560.3 66.4L569.7 70.2L570.3 70.3L581.9 69.7L584.5 67.1L589.4 61.2L589.9 60L590.9 56.4L593 49.7L594 48.1L597.2 40.5L598.2 36.4L600 30.5L602 23.5L602.5 21L603.4 16L604.8 9.4Z" fill="#ff8b00"/>
<path d="M527.7 9.4L528.5 15.6L528.8 18.5L529.9 25.5L530 26.3L530.1 26.8L531.9 34.8L534 40.2L536.4 46L538.6 49.9L542.7 55L548.7 60.2L550.8 61.7L553.2 62.8L560.9 65.4L568.8 68.5L571 68.8L581.3 68.3L587.3 62.5L589 60.4L589.2 60L589.5 58.8L592.3 49.7L593.6 47.5L596.5 40.6L597.8 35.7L599.4 30.5L601.7 22.5L602 20.9L602.6 17.6L604.4 9.4Z" fill="#ff8300"/>
<path d="M528.8 9.4L529.4 14.4L529.8 18.6L530.9 25.6L531.2 26.9L532.9 34.2L535.3 40.5L537.1 44.9L539.9 49.9L543.2 54.1L550.4 60.2L551.3 60.8L552.3 61.3L561.5 64.3L567.8 66.8L571.6 67.3L580.7 66.9L588 59.8L588.6 59.5L591.6 49.7L593.3 46.9L595.9 40.6L597.4 34.9L598.7 30.4L601.3 21.6L601.5 20.7L601.8 19.1L603.9 9.4Z" fill="#ff7c00"/>
<path d="M529.9 9.4L530.4 13.2L530.9 18.7L531.8 24.6L532.5 27.6L533.8 33.6L536.7 40.9L537.9 43.8L541.2 49.9L543.8 53.1L551.2 59.3L551.8 59.8L552.7 60.2L562.1 63.2L566.9 65.2L572.3 65.9L580.1 65.5L586.4 59.4L588.2 58.4L590.9 49.7L592.9 46.4L595.3 40.6L597 34.2L598.1 30.4L600.9 20.7L601 20.6L603.4 9.4Z" fill="#ff7400"/>
<path d="M531 9.4L531.3 11.9L531.9 18.8L532.7 23.5L533.8 28.4L534.8 33L538 41.3L538.6 42.7L542.6 49.8L544.4 52.1L549.5 56.5L552.5 58.7L556.4 60.1L562.7 62.2L565.9 63.5L573 64.4L579.6 64.1L584.9 58.9L587.8 57.3L590.2 49.7L592.5 45.8L594.7 40.6L596.6 33.4L597.5 30.4L599.8 22.5L600.4 20.6L600.6 20L602.9 9.4Z" fill="#ff6c00"/>
<path d="M532.1 9.4L532.2 10.7L533 18.9L533.6 22.5L535 29.2L535.7 32.5L539.2 41.3L539.3 41.6L539.6 42.1L543.9 49.8L544.9 51.1L547.9 53.6L553.2 57.5L560 60.1L563.3 61.1L565 61.8L573.7 62.9L579 62.7L583.3 58.5L587.5 56.2L589.5 49.6L592.2 45.2L594.1 40.6L596.1 32.7L596.8 30.3L598.6 24.3L599.8 20.6L600.3 19.4L602.4 9.4Z" fill="#ff6400"/>
<path d="M533.2 9.4L533.2 9.5L534 18.9L534.4 21.5L536.3 29.9L536.7 31.9L538.7 37.1L540.4 41.3L544.1 47.7L545.2 49.8L545.5 50.1L546.3 50.8L553.9 56.4L563.7 60L563.9 60.1L564 60.1L574.3 61.5L578.4 61.3L581.7 58.1L587.1 55.1L588.7 49.6L591.8 44.6L593.5 40.6L595.7 31.9L596.2 30.3L597.4 26.1L599.3 20.6L599.9 18.8L602 9.4Z" fill="#ff5c00"/>
<path d="M534.2 9.4L534.6 13.4L535.1 19L535.3 20.5L537.5 30.7L537.7 31.3L538.3 32.8L541.4 41L546 49L547.1 49.7L554.6 55.2L563 58.3L564.5 58.6L567.6 59L575 60L577.9 59.9L580.1 57.7L586.7 54L588 49.6L591.4 44L592.9 40.6L595.3 31.2L595.6 30.3L596.3 27.9L598.7 20.6L599.6 18.2L601.5 9.4Z" fill="#ff5400"/>
<path d="M535.3 9.4L536 17.6L536.1 19.1L536.2 19.5L537.1 23.7L538.6 30.6L538.9 31.5L542.5 40.6L546.6 47.7L549.3 49.7L555.3 54.1L562 56.6L565 57.1L571.6 58L575.7 58.5L577.3 58.5L578.6 57.2L586.3 52.9L587.3 49.6L591.1 43.5L592.3 40.6L594.9 30.5L595 30.2L595.1 29.7L598.2 20.6L599.2 17.6L601 9.4Z" fill="#ff4c00"/>
<path d="M536.4 9.4L537.1 18.5L537.2 19.5L539.5 29.9L540.4 32.3L543.5 40.3L547.1 46.5L551.6 49.7L556 52.9L561 54.8L565.6 55.7L575.5 57L576.4 57.1L576.7 57.1L577 56.8L585.9 51.8L586.6 49.6L590.7 42.9L591.7 40.6L593.9 31.9L594.3 30.3L594.5 29.8L597.6 20.6L598.9 17L600.5 9.4Z" fill="#ff4400"/>
<path d="M537.4 9.4L538.1 17.4L538.4 20.1L540.3 29.2L541.9 33.2L544.6 40L547.6 45.3L553.8 49.6L556.7 51.8L560 53L566.1 54.2L575 55.3L576.6 55.4L580 53.8L585.6 50.8L585.9 49.6L590.3 42.3L591 40.6L592.7 34.2L593.6 30.3L594.2 29.2L597.1 20.6L598.5 16.3L600.1 9.4Z" fill="#ff3c00"/>
<path d="M538.5 9.4L539.1 16.3L539.5 20.7L541.2 28.5L543.4 34L545.6 39.6L548.1 44L556 49.6L557.4 50.6L559 51.2L566.7 52.7L572.9 53.5L576.6 53.6L584.8 49.9L585.2 49.7L585.2 49.6L590 41.7L590.4 40.7L591.5 36.5L592.9 30.3L593.8 28.6L596.5 20.6L598.2 15.7L599.6 9.4Z" fill="#ff3400"/>
<path d="M539.6 9.4L540.1 15.3L540.7 21.3L542.1 27.8L544.9 34.8L546.7 39.3L548.7 42.8L557.9 49.3L558.1 49.4L558.6 49.6L567.2 51.2L570.7 51.7L576.6 51.8L584.1 48.4L587.4 44.9L589.6 41.1L589.8 40.7L590.3 38.8L592.2 30.3L593.5 28L596 20.6L597.9 15.1L599.1 9.4Z" fill="#ff2c00"/>
<path d="M540.7 9.4L541.1 14.2L541.8 21.9L542.9 27.1L546.4 35.7L547.7 39L549.2 41.5L556 46.4L559 47.9L565.8 49.3L567.8 49.7L568.6 49.8L576.6 50.1L582.9 47.2L588.9 40.7L589.2 40.5L591.5 30.3L593.1 27.3L595.4 20.6L597.5 14.5L598.6 9.4Z" fill="#ff2400"/>
<path d="M541.7 9.4L542 13.2L543 22.5L543.8 26.4L547.9 36.5L548.7 38.6L549.7 40.3L554.1 43.4L560 46.3L567.3 47.9L569.1 48.1L576.6 48.3L581.7 45.9L586.6 40.6L588.8 39.3L590.8 30.4L592.8 26.7L594.8 20.6L597.2 13.9L598.1 9.4Z" fill="#ff1c00"/>
<path d="M542.8 9.4L543 12.1L544.2 23.1L544.7 25.7L549.4 37.3L549.8 38.3L550.2 39.1L552.2 40.5L560.9 44.7L566.4 45.9L570.8 46.3L576.6 46.5L580.6 44.7L584.4 40.6L588.4 38.2L590.2 30.4L592.4 26.1L594.3 20.6L596.8 13.3L597.7 9.4Z" fill="#ff1400"/>
<path d="M543.9 9.4L544 11.1L545.3 23.7L545.6 24.9L550 35.9L550.9 37.8L551.7 38.2L561.9 43.2L565.5 43.9L572.5 44.6L576.6 44.7L579.4 43.4L582.1 40.5L588 37.1L589.5 30.4L592.1 25.5L593.7 20.6L596.5 12.7L597.2 9.4Z" fill="#ff0c00"/>
<path d="M544.9 9.4L545 10L546.3 22.4L546.5 24.2L546.6 24.4L552.3 36.4L558 39.2L562.8 41.6L564.5 42L574.1 42.9L576.6 42.9L578.2 42.2L579.8 40.4L587.5 35.9L588.8 30.4L591.7 24.9L593.2 20.6L596.1 12.1L596.7 9.4Z" fill="#ff0400"/>
<path d="M546.2 9.4L546.2 10.1L547.8 23.3L549.1 25.4L553.6 35L563.6 39.9L563.8 40L565.8 40.2L575.8 41.1L576.6 41.2L577.1 40.9L577.6 40.4L587.1 34.8L588.1 30.5L591.4 24.3L592.6 20.6L595.8 11.5L596.2 9.4Z" fill="#fb0000"/>
<path d="M547.6 9.4L547.8 11.6L549 22.4L551.6 26.4L555 33.6L562.4 37.3L564.6 38.1L575.6 39.2L576.6 39.3L578 38.7L586.7 33.7L587.4 30.5L591 23.6L592.1 20.6L595.4 10.9L595.7 9.4Z" fill="#f30000"/>
<path d="M549 9.4L549.4 13.1L550.3 21.5L554.1 27.4L556.4 32.2L561.3 34.6L565.5 36.3L573.9 37.1L576.6 37.3L580.8 35.7L586.3 32.5L586.7 30.5L590.7 23L591.5 20.6L595.1 10.3L595.3 9.4Z" fill="#eb0000"/>
<path d="M550.4 9.4L550.9 14.5L551.6 20.7L556.6 28.5L557.7 30.8L560.1 32L566.4 34.4L572.1 34.9L576.6 35.4L583.5 32.8L585.8 31.4L586 30.5L590.3 22.4L590.9 20.6L594.7 9.7L594.8 9.4Z" fill="#e30000"/>
<path d="M551.8 9.4L552.5 16L552.9 19.8L558.9 29.1L559.1 29.3L559.4 29.5L567.2 32.5L570.4 32.8L576.6 33.4L585.1 30.2L586 29.4L590 21.8L590.4 20.6L593.4 12L594 9.4Z" fill="#db0000"/>
<path d="M553.3 9.4L554 17.5L554.2 18.9L556.4 22.3L560.4 27.4L566.7 30.1L568.1 30.6L568.6 30.7L576.6 31.5L583.5 28.9L587.7 24.8L589.6 21.2L589.8 20.6L591.3 16.5L592.9 9.4Z" fill="#d30000"/>
<path d="M554.7 9.4L555.4 16.9L556.3 18.6L561.7 25.5L567.6 28L569.9 28.9L576.6 29.5L581.9 27.5L589.1 20.7L589.3 20.5L591.9 9.4Z" fill="#cb0000"/>
<path d="M556.1 9.4L556.5 13.5L559.6 19.2L563 23.6L566.7 25.2L571.9 27.1L576.6 27.6L580.3 26.2L585.3 21.4L588.5 19.3L590.8 9.4Z" fill="#c30000"/>
<path d="M557.5 9.4L557.6 10.1L562.9 19.9L564.3 21.7L565.9 22.4L573.9 25.4L576.6 25.6L578.6 24.8L581.5 22.2L587.7 18.1L589.7 9.4Z" fill="#bc0000"/>
<path d="M559.5 9.4L565.5 19.8L570.8 21.7L576 23.6L576.6 23.7L577 23.5L577.7 22.9L587 16.8L588.7 9.4Z" fill="#b40000"/>
<path d="M561.7 9.4L566.4 17.7L575.6 21L577.3 21.4L586.2 15.6L587.6 9.4Z" fill="#ac0000"/>
<path d="M563.8 9.4L567.4 15.6L574.2 18.1L578.3 19L585.4 14.4L586.6 9.4Z" fill="#a40000"/>
<path d="M565.9 9.4L568.3 13.5L572.8 15.1L579.3 16.7L584.6 13.2L585.5 9.4Z" fill="#9c0000"/>
<path d="M568.1 9.4L569.2 11.4L571.4 12.2L580.3 14.3L583.9 11.9L584.5 9.4Z" fill="#940000"/>
<path d="M570.9 9.4L581.3 11.9L583.1 10.7L583.4 9.4Z" fill="#8c0000"/>
<path d="M582.1 9.4L582.3 9.5L582.3 9.5L582.3 9.4Z" fill="#840000"/>
<path d="M373.7 70.8L386 70.8M373.7 70.8L373.7 58.5M373.7 70.8L385.3 59.6M386 70.8L398.2 70.8M386 70.8L385.3 59.6M386 70.8L393.2 62.6M398.2 70.8L410.5 70.8M398.2 70.8L403 59.3M398.2 70.8L393.2 62.6M410.5 70.8L422.8 70.8M410.5 70.8L403 59.3M410.5 70.8L414.9 61.7M422.8 70.8L435.1 70.8M422.8 70.8L414.9 61.7M422.8 70.8L423.3 57.2M422.8 70.8L432.2 61.2M435.1 70.8L447.3 70.8M435.1 70.8L432.2 61.2M435.1 70.8L441.7 60M447.3 70.8L459.6 70.8M447.3 70.8L441.7 60M447.3 70.8L453.7 56.7M459.6 70.8L471.9 70.8M459.6 70.8L453.7 56.7M459.6 70.8L466.2 60M471.9 70.8L484.1 70.8M471.9 70.8L466.2 60M471.9 70.8L479.8 60.2M484.1 70.8L496.4 70.8M484.1 70.8L479.8 60.2M484.1 70.8L490.5 64.6M496.4 70.8L508.7 70.8M496.4 70.8L490.5 64.6M496.4 70.8L499.1 60.4M508.7 70.8L521 70.8M508.7 70.8L499.1 60.4M508.7 70.8L514.5 59.4M521 70.8L533.2 70.8M521 70.8L514.5 59.4M521 70.8L527.5 60.4M533.2 70.8L545.5 70.8M533.2 70.8L527.5 60.4M533.2 70.8L539.7 60.2M545.5 70.8L557.8 70.8M545.5 70.8L539.7 60.2M545.5 70.8L551.6 60.2M557.8 70.8L570.1 70.8M557.8 70.8L551.6 60.2M557.8 70.8L564 60M570.1 70.8L582.3 70.8M570.1 70.8L564 60M570.1 70.8L576.6 56.7M582.3 70.8L594.6 70.8M582.3 70.8L576.6 56.7M582.3 70.8L588.8 60M594.6 70.8L606.9 70.8M594.6 70.8L588.8 60M594.6 70.8L601.2 60M606.9 70.8L619.1 70.8M606.9 70.8L601.2 60M606.9 70.8L613.3 56.5M619.1 70.8L631.4 70.8M619.1 70.8L613.3 56.5M619.1 70.8L625.5 60.1M631.4 70.8L643.7 70.8M631.4 70.8L625.5 60.1M631.4 70.8L637.2 60.1M643.7 70.8L656 70.8M643.7 70.8L647.3 55.3M643.7 70.8L637.2 60.1M643.7 70.8L656.3 60.8M656 70.8L668.2 70.8M656 70.8L656.3 60.8M668.2 70.8L680.5 70.8M668.2 70.8L656.3 60.8M668.2 70.8L670.6 60.3M680.5 70.8L680.5 58.5M680.5 70.8L670.6 60.3M373.7 9.4L386 9.4M373.7 9.4L373.7 21.7M373.7 9.4L380.6 16.1M386 9.4L398.2 9.4M386 9.4L380.6 16.1M386 9.4L386.6 21.8M386 9.4L395.5 18.3M398.2 9.4L410.5 9.4M398.2 9.4L395.5 18.3M398.2 9.4L404.4 21.3M410.5 9.4L422.8 9.4M410.5 9.4L404.4 21.3M410.5 9.4L416.8 24.1M422.8 9.4L435.1 9.4M422.8 9.4L416.8 24.1M422.8 9.4L429.2 20.9M435.1 9.4L447.3 9.4M435.1 9.4L429.2 20.9M435.1 9.4L441.6 20.6M447.3 9.4L459.6 9.4M447.3 9.4L441.6 20.6M447.3 9.4L453.7 23.8M459.6 9.4L471.9 9.4M459.6 9.4L453.7 23.8M459.6 9.4L465.6 20.4M471.9 9.4L484.1 9.4M471.9 9.4L465.6 20.4M471.9 9.4L475.3 18.8M484.1 9.4L496.4 9.4M484.1 9.4L475.3 18.8M484.1 9.4L483.8 24.3M484.1 9.4L493.7 19.1M496.4 9.4L508.7 9.4M496.4 9.4L493.7 19.1M496.4 9.4L504 18.2M508.7 9.4L521 9.4M508.7 9.4L504 18.2M508.7 9.4L515 18.2M521 9.4L533.2 9.4M521 9.4L515 18.2M521 9.4L526.4 18.3M533.2 9.4L545.5 9.4M533.2 9.4L526.4 18.3M533.2 9.4L536.5 19.1M545.5 9.4L557.8 9.4M545.5 9.4L536.5 19.1M545.5 9.4L546.4 24.3M545.5 9.4L555 18.3M557.8 9.4L570.1 9.4M557.8 9.4L555 18.3M557.8 9.4L565.3 20.4M570.1 9.4L582.3 9.4M570.1 9.4L565.3 20.4M570.1 9.4L576.6 23.1M582.3 9.4L594.6 9.4M582.3 9.4L576.6 23.1M582.3 9.4L589.3 20.6M594.6 9.4L606.9 9.4M594.6 9.4L589.3 20.6M594.6 9.4L601 20.6M606.9 9.4L619.1 9.4M606.9 9.4L601 20.6M606.9 9.4L613.3 24.1M619.1 9.4L631.4 9.4M619.1 9.4L613.3 24.1M619.1 9.4L625.5 20.8M631.4 9.4L643.7 9.4M631.4 9.4L625.5 20.8M631.4 9.4L636.5 20.4M643.7 9.4L656 9.4M643.7 9.4L636.5 20.4M643.7 9.4L656.1 19.4M643.7 9.4L646.3 24.8M656 9.4L668.2 9.4M656 9.4L656.1 19.4M668.2 9.4L680.5 9.4M668.2 9.4L656.1 19.4M668.2 9.4L670.7 19.4M680.5 9.4L680.5 21.7M680.5 9.4L670.7 19.4M373.7 58.5L373.7 46.3M373.7 58.5L384.1 49.8M373.7 58.5L385.3 59.6M373.7 46.3L373.7 34M373.7 46.3L386.1 40.2M373.7 46.3L384.1 49.8M373.7 34L373.7 21.7M373.7 34L383.3 31M373.7 34L386.1 40.2M373.7 21.7L380.6 16.1M373.7 21.7L386.6 21.8M373.7 21.7L383.3 31M680.5 58.5L680.5 46.3M680.5 58.5L673 51.8M680.5 58.5L670.6 60.3M680.5 46.3L680.5 34M680.5 46.3L668.4 39.9M680.5 46.3L673 51.8M680.5 34L680.5 21.7M680.5 34L673.4 28.3M680.5 34L668.4 39.9M680.5 21.7L670.7 19.4M680.5 21.7L673.4 28.3M380.6 16.1L386.6 21.8M386.6 21.8L395.5 18.3M386.6 21.8L383.3 31M386.6 21.8L395.5 31.3M395.5 18.3L404.4 21.3M395.5 18.3L395.5 31.3M404.4 21.3L416.8 24.1M404.4 21.3L395.5 31.3M404.4 21.3L407.6 31.3M416.8 24.1L429.2 20.9M416.8 24.1L407.6 31.3M416.8 24.1L425.8 30.2M416.8 24.1L416.5 38.7M429.2 20.9L425.8 30.2M429.2 20.9L435.2 30.2M429.2 20.9L441.6 20.6M383.3 31L395.5 31.3M383.3 31L386.1 40.2M395.5 31.3L407.6 31.3M395.5 31.3L386.1 40.2M395.5 31.3L394 43.4M395.5 31.3L403.5 43.4M407.6 31.3L403.5 43.4M407.6 31.3L416.5 38.7M425.8 30.2L435.2 30.2M425.8 30.2L416.5 38.7M425.8 30.2L428.7 40.2M435.2 30.2L428.7 40.2M435.2 30.2L441.6 20.6M435.2 30.2L444.6 30.7M435.2 30.2L440.6 40.2M386.1 40.2L394 43.4M386.1 40.2L384.1 49.8M394 43.4L403.5 43.4M394 43.4L384.1 49.8M394 43.4L393.1 52.1M403.5 43.4L416.5 38.7M403.5 43.4L393.1 52.1M403.5 43.4L413.8 51.6M403.5 43.4L403 59.3M416.5 38.7L428.7 40.2M416.5 38.7L423.3 47.1M416.5 38.7L413.8 51.6M428.7 40.2L423.3 47.1M428.7 40.2L434.2 50.7M428.7 40.2L440.6 40.2M384.1 49.8L393.1 52.1M384.1 49.8L385.3 59.6M423.3 47.1L413.8 51.6M423.3 47.1L434.2 50.7M423.3 47.1L423.3 57.2M393.1 52.1L385.3 59.6M393.1 52.1L403 59.3M393.1 52.1L393.2 62.6M413.8 51.6L403 59.3M413.8 51.6L414.9 61.7M413.8 51.6L423.3 57.2M434.2 50.7L423.3 57.2M434.2 50.7L432.2 61.2M434.2 50.7L440.6 40.2M434.2 50.7L445.1 49.6M434.2 50.7L441.7 60M385.3 59.6L393.2 62.6M403 59.3L414.9 61.7M403 59.3L393.2 62.6M414.9 61.7L423.3 57.2M423.3 57.2L432.2 61.2M432.2 61.2L441.7 60M441.6 20.6L453.7 23.8M441.6 20.6L444.6 30.7M453.7 23.8L465.6 20.4M453.7 23.8L444.6 30.7M453.7 23.8L462.2 30.2M453.7 23.8L453.7 40.2M465.6 20.4L475.3 18.8M465.6 20.4L462.2 30.2M465.6 20.4L471.6 29.4M475.3 18.8L483.8 24.3M475.3 18.8L471.6 29.4M483.8 24.3L493.7 19.1M483.8 24.3L471.6 29.4M483.8 24.3L491.7 31.3M483.8 24.3L479.8 38M493.7 19.1L491.7 31.3M493.7 19.1L504 18.2M493.7 19.1L500 26.8M444.6 30.7L440.6 40.2M444.6 30.7L453.7 40.2M462.2 30.2L471.6 29.4M462.2 30.2L453.7 40.2M462.2 30.2L466.6 39.7M471.6 29.4L466.6 39.7M471.6 29.4L479.8 38M491.7 31.3L479.8 38M491.7 31.3L490.7 41.7M491.7 31.3L500 26.8M491.7 31.3L502.6 38.2M440.6 40.2L453.7 40.2M440.6 40.2L445.1 49.6M453.7 40.2L466.6 39.7M453.7 40.2L445.1 49.6M453.7 40.2L462.4 49.3M453.7 40.2L453.7 56.7M466.6 39.7L479.8 38M466.6 39.7L462.4 49.3M466.6 39.7L471.9 49.8M479.8 38L490.7 41.7M479.8 38L471.9 49.8M479.8 38L484.8 49.3M490.7 41.7L484.8 49.3M490.7 41.7L495.7 48.8M490.7 41.7L502.6 38.2M445.1 49.6L441.7 60M445.1 49.6L453.7 56.7M462.4 49.3L471.9 49.8M462.4 49.3L453.7 56.7M462.4 49.3L466.2 60M471.9 49.8L484.8 49.3M471.9 49.8L466.2 60M471.9 49.8L479.8 60.2M484.8 49.3L495.7 48.8M484.8 49.3L479.8 60.2M484.8 49.3L489.9 56M495.7 48.8L489.9 56M495.7 48.8L502.6 38.2M495.7 48.8L505.3 51.2M495.7 48.8L499.1 60.4M441.7 60L453.7 56.7M453.7 56.7L466.2 60M466.2 60L479.8 60.2M479.8 60.2L490.5 64.6M479.8 60.2L489.9 56M490.5 64.6L489.9 56M490.5 64.6L499.1 60.4M489.9 56L499.1 60.4M504 18.2L515 18.2M504 18.2L500 26.8M504 18.2L509.5 27.1M515 18.2L526.4 18.3M515 18.2L509.5 27.1M515 18.2L520.4 27.1M526.4 18.3L536.5 19.1M526.4 18.3L520.4 27.1M526.4 18.3L530.3 26.3M536.5 19.1L546.4 24.3M536.5 19.1L530.3 26.3M536.5 19.1L538.1 31M546.4 24.3L555 18.3M546.4 24.3L538.1 31M546.4 24.3L550.7 38M546.4 24.3L559 29.4M555 18.3L565.3 20.4M555 18.3L559 29.4M500 26.8L509.5 27.1M500 26.8L502.6 38.2M509.5 27.1L520.4 27.1M509.5 27.1L502.6 38.2M509.5 27.1L515 35.2M520.4 27.1L530.3 26.3M520.4 27.1L515 35.2M520.4 27.1L526.5 38M530.3 26.3L538.1 31M530.3 26.3L526.5 38M538.1 31L526.5 38M538.1 31L539.2 41.7M538.1 31L550.7 38M502.6 38.2L515 35.2M502.6 38.2L514.5 45.6M502.6 38.2L505.3 51.2M515 35.2L526.5 38M515 35.2L514.5 45.6M526.5 38L539.2 41.7M526.5 38L514.5 45.6M526.5 38L523.4 51M526.5 38L533.8 50.1M539.2 41.7L550.7 38M539.2 41.7L533.8 50.1M539.2 41.7L545.7 49.8M550.7 38L545.7 49.8M550.7 38L559 29.4M550.7 38L563.7 40.2M550.7 38L558 49.6M514.5 45.6L505.3 51.2M514.5 45.6L523.4 51M514.5 45.6L514.5 59.4M505.3 51.2L499.1 60.4M505.3 51.2L514.5 59.4M523.4 51L533.8 50.1M523.4 51L514.5 59.4M523.4 51L527.5 60.4M533.8 50.1L545.7 49.8M533.8 50.1L527.5 60.4M533.8 50.1L539.7 60.2M545.7 49.8L539.7 60.2M545.7 49.8L551.6 60.2M545.7 49.8L558 49.6M499.1 60.4L514.5 59.4M514.5 59.4L527.5 60.4M527.5 60.4L539.7 60.2M539.7 60.2L551.6 60.2M551.6 60.2L558 49.6M551.6 60.2L564 60M565.3 20.4L576.6 23.1M565.3 20.4L559 29.4M565.3 20.4L568.3 30.2M576.6 23.1L589.3 20.6M576.6 23.1L568.3 30.2M576.6 23.1L585.5 30.5M576.6 23.1L576.6 40.4M589.3 20.6L601 20.6M589.3 20.6L585.5 30.5M589.3 20.6L594.8 30.2M601 20.6L613.3 24.1M601 20.6L594.8 30.2M601 20.6L604.7 30.7M613.3 24.1L604.7 30.7M613.3 24.1L613.3 40.7M613.3 24.1L625.5 20.8M613.3 24.1L621.6 30.7M559 29.4L568.3 30.2M559 29.4L563.7 40.2M568.3 30.2L563.7 40.2M568.3 30.2L576.6 40.4M585.5 30.5L594.8 30.2M585.5 30.5L576.6 40.4M585.5 30.5L589.3 40.7M594.8 30.2L604.7 30.7M594.8 30.2L589.3 40.7M594.8 30.2L600.5 40.5M604.7 30.7L600.5 40.5M604.7 30.7L613.3 40.7M563.7 40.2L576.6 40.4M563.7 40.2L558 49.6M563.7 40.2L568 49.3M576.6 40.4L589.3 40.7M576.6 40.4L568 49.3M576.6 40.4L585.1 49.6M576.6 40.4L576.6 56.7M589.3 40.7L600.5 40.5M589.3 40.7L585.1 49.6M589.3 40.7L595 49.8M600.5 40.5L613.3 40.7M600.5 40.5L595 49.8M600.5 40.5L604.7 49.6M613.3 40.7L604.7 49.6M613.3 40.7L613.3 56.5M613.3 40.7L621.6 30.7M613.3 40.7L626.5 40.7M613.3 40.7L622 49.7M558 49.6L568 49.3M558 49.6L564 60M568 49.3L564 60M568 49.3L576.6 56.7M585.1 49.6L595 49.8M585.1 49.6L576.6 56.7M585.1 49.6L588.8 60M595 49.8L604.7 49.6M595 49.8L588.8 60M595 49.8L601.2 60M604.7 49.6L601.2 60M604.7 49.6L613.3 56.5M564 60L576.6 56.7M576.6 56.7L588.8 60M588.8 60L601.2 60M601.2 60L613.3 56.5M613.3 56.5L622 49.7M613.3 56.5L625.5 60.1M625.5 20.8L636.5 20.4M625.5 20.8L621.6 30.7M625.5 20.8L630.9 30.5M636.5 20.4L646.3 24.8M636.5 20.4L630.9 30.5M636.5 20.4L640.3 31.3M656.1 19.4L670.7 19.4M656.1 19.4L646.3 24.8M656.1 19.4L654.2 31.5M656.1 19.4L664.5 27.8M670.7 19.4L664.5 27.8M670.7 19.4L673.4 28.3M646.3 24.8L640.3 31.3M646.3 24.8L654.2 31.5M621.6 30.7L630.9 30.5M621.6 30.7L626.5 40.7M630.9 30.5L640.3 31.3M630.9 30.5L626.5 40.7M630.9 30.5L636.5 40.7M640.3 31.3L654.2 31.5M640.3 31.3L636.5 40.7M640.3 31.3L647.4 41.5M654.2 31.5L664.5 27.8M654.2 31.5L647.4 41.5M654.2 31.5L668.4 39.9M654.2 31.5L657.6 44.5M664.5 27.8L673.4 28.3M664.5 27.8L668.4 39.9M673.4 28.3L668.4 39.9M626.5 40.7L636.5 40.7M626.5 40.7L622 49.7M626.5 40.7L631.4 49.9M636.5 40.7L647.4 41.5M636.5 40.7L631.4 49.9M636.5 40.7L640.4 49.6M647.4 41.5L657.6 44.5M647.4 41.5L640.4 49.6M647.4 41.5L647.3 55.3M668.4 39.9L657.6 44.5M668.4 39.9L663.2 52.8M668.4 39.9L673 51.8M657.6 44.5L647.3 55.3M657.6 44.5L663.2 52.8M622 49.7L631.4 49.9M622 49.7L625.5 60.1M631.4 49.9L640.4 49.6M631.4 49.9L625.5 60.1M631.4 49.9L637.2 60.1M640.4 49.6L647.3 55.3M640.4 49.6L637.2 60.1M647.3 55.3L663.2 52.8M647.3 55.3L637.2 60.1M647.3 55.3L656.3 60.8M663.2 52.8L673 51.8M663.2 52.8L656.3 60.8M663.2 52.8L670.6 60.3M673 51.8L670.6 60.3M625.5 60.1L637.2 60.1M656.3 60.8L670.6 60.3" fill="none" stroke="#000" stroke-width="1.0" stroke-linecap="round"/></g>
<rect x="373.7" y="9.44" width="306.8" height="61.36" fill="none" stroke="#000" stroke-width="0.5"/></g>
<g><clipPath id="c318"><rect x="17.2" y="240.14" width="306.8" height="61.36"/></clipPath><g clip-path="url(#c318)">
<rect x="17.2" y="240.1" width="306.8" height="61.4" fill="#000084"/>
<path d="M240 240.1L238.4 240.7L237.8 240.8L233.9 240.1L17.2 240.1L17.2 301.5L324 301.5L324 240.1Z" fill="#00008c"/>
<path d="M246.7 240.1L239.7 242.9L236.6 243.3L226.7 241.6L225.4 241.2L224.1 240.1L17.2 240.1L17.2 301.5L324 301.5L324 240.1Z" fill="#000094"/>
<path d="M251.7 240.1L250.8 241.1L249.6 241.6L240.9 245L235.4 245.8L228.6 244.6L224.5 243.4L220.2 240.1L17.2 240.1L17.2 301.5L324 301.5L324 240.1Z" fill="#00009c"/>
<path d="M254.6 240.1L251.7 243.1L247.8 245L242.1 247.2L234.2 248.3L230.5 247.6L223.5 245.6L216.4 240.1L17.2 240.1L17.2 301.5L324 301.5L324 240.1Z" fill="#0000a4"/>
<path d="M257.6 240.1L252.6 245.1L246.1 248.3L243.3 249.3L233.1 250.8L232.4 250.7L222.6 247.8L214.1 241.3L213.3 240.7L213.1 240.1L17.2 240.1L17.2 301.5L324 301.5L324 240.1Z" fill="#0000ac"/>
<path d="M260.5 240.1L253.4 247.1L244.7 251.4L244.5 251.5L244.3 251.6L234 253.4L232 253.3L228.8 252.1L221.7 250L216.3 245.9L212.3 243L211.2 240.1L17.2 240.1L17.2 301.5L324 301.5L324 240.1Z" fill="#0000b4"/>
<path d="M262.9 240.1L262.8 240.4L262.1 241.5L254.3 249.2L247.9 252.3L245.4 253.9L242.2 254.8L235.5 256L231.1 255.9L223.7 253.1L220.7 252.2L218.5 250.5L211.3 245.2L209.4 240.1L17.2 240.1L17.2 301.5L324 301.5L324 240.1Z" fill="#0000bc"/>
<path d="M263.6 240.1L263.4 241.5L260.2 246.3L255.2 251.2L251.1 253.2L246.3 256.2L240.1 258.1L237 258.6L230.1 258.4L221.8 255.3L220.1 254.6L219.5 254.3L218.4 253.4L210.3 247.5L207.5 240.1L17.2 240.1L17.2 301.5L324 301.5L324 240.1Z" fill="#0000c3"/>
<path d="M264.4 240.1L264 242.5L258.3 251.1L256.1 253.2L254.3 254.1L247.1 258.6L239.2 261L238.5 261.3L238.1 261.3L233.5 261.1L229.1 261L228.3 260.6L220.1 257.6L217.4 256.1L212.3 251.9L209.3 249.7L205.6 240.1L17.2 240.1L17.2 301.5L324 301.5L324 240.1Z" fill="#0000cb"/>
<path d="M265.2 240.1L264.5 243.5L257.2 254.7L257.1 255L256.8 255.5L252.2 258.4L248 261L246.7 261.4L239.9 263.9L236.5 264.3L230 264L227.2 263.2L220.1 260.5L215.3 257.9L209.4 253L208.4 251.6L208.2 250.9L207 248.5L203.8 240.1L17.2 240.1L17.2 301.5L324 301.5L324 240.1Z" fill="#0000d3"/>
<path d="M266 240.1L265.1 244.6L258.7 254.3L258.3 256L256.8 258.7L249.6 263.1L246.9 264.5L241.4 266.5L235 267.3L231.2 267.1L225.2 265.4L220.1 263.4L213.2 259.7L210.8 257.8L207.5 252.8L206.7 250.6L202.7 242.2L201.9 240.1L17.2 240.1L17.2 301.5L324 301.5L324 240.1Z" fill="#0000db"/>
<path d="M266.8 240.1L265.7 245.6L260.2 253.9L259.5 257L256.8 261.9L251.5 265.2L245.3 268.2L242.8 269.1L233.4 270.3L232.4 270.2L223.3 267.6L220.1 266.4L213.2 262.7L211.5 261.5L211.2 260.9L206.7 254.1L205.2 250.4L200.9 241.3L200.6 240.1L17.2 240.1L17.2 301.5L324 301.5L324 240.1Z" fill="#0000e3"/>
<path d="M267.6 240.1L266.3 246.7L261.8 253.4L260.7 257.9L256.8 265.1L253.3 267.3L245.2 271.2L244.3 271.8L243.5 272L234.1 273.4L232 273.2L226.3 271.2L221.3 269.8L220.1 269.3L217.5 267.9L210.7 263.2L209.4 260.7L205.8 255.4L203.7 250.1L200.4 243L199.6 240.1L17.2 240.1L17.2 301.5L324 301.5L324 240.1Z" fill="#0000eb"/>
<path d="M268.4 240.1L266.9 247.7L263.3 253L262 258.9L256.8 268.3L255.1 269.4L251.2 271.3L245.6 274.6L241.2 275.8L236.1 276.6L230.6 276.1L221.9 273L220.1 272.3L219.4 271.7L218.7 271L209.9 265L207.5 260.6L204.9 256.6L202.2 249.8L199.8 244.7L198.5 240.1L17.2 240.1L17.2 301.5L324 301.5L324 240.1Z" fill="#0000f3"/>
<path d="M269.1 240.1L267.4 248.8L264.9 252.6L263.2 259.9L257.1 271L256.9 271.4L256.9 271.5L256.8 271.6L256.3 271.9L246.9 277.5L239 279.7L238.1 279.8L229.3 278.9L226.5 278L220.1 275.4L217.8 273.4L215.3 271L209.1 266.7L205.7 260.4L204.1 257.9L200.7 249.5L199.3 246.4L197.5 240.1L17.2 240.1L17.2 301.5L324 301.5L324 240.1Z" fill="#0000fb"/>
<path d="M269.9 240.1L268 249.8L266.4 252.2L264.4 260.9L262.2 264.9L258.6 271.4L258.2 272.9L256.8 275.5L248.3 280.4L248.1 280.5L240.2 283.2L236.9 283.2L229.4 282.3L227.3 281.4L220.1 278.5L216.2 275.1L212 271L208.3 268.4L203.9 260.3L203.2 259.2L199.2 249.2L198.7 248.1L196.5 240.1L17.2 240.1L17.2 301.5L324 301.5L324 240.1Z" fill="#0004ff"/>
<path d="M270.7 240.1L268.6 250.8L268 251.8L266.7 257.4L265.6 261.4L265.4 262.1L260.3 271.4L259.6 274.3L256.8 279.4L251.1 282.7L246.6 285.1L242.2 286.6L234.8 286.6L230.7 286.1L224.8 283.5L220.1 281.6L214.5 276.8L208.6 270.9L207.5 270.1L204.1 263.9L202.3 260.3L202.2 260L198.1 249.3L197.8 248.4L195.4 240.1L17.2 240.1L17.2 301.5L324 301.5L324 240.1Z" fill="#000cff"/>
<path d="M271.5 240.1L269.4 250.6L269.4 251.5L269.3 252.1L266.9 261.4L266.2 263.8L262 271.4L261 275.7L256.8 283.3L254 284.9L245.1 289.7L244.3 289.9L232.7 290L232 289.9L222.3 285.6L220.1 284.7L212.9 278.5L208.9 274.5L206.8 271.6L206.4 270.8L201.5 261.1L201 259.5L197.2 249.9L196.4 247.1L194.4 240.1L17.2 240.1L17.2 301.5L324 301.5L324 240.1Z" fill="#0014ff"/>
<path d="M272.3 240.1L270.7 248.2L270.6 251.4L270.1 253.6L268.1 261.4L267 265.4L263.7 271.4L262.3 277.1L256.8 287.2L256.7 287.2L246.3 293.7L242.5 294.3L234.2 294.3L230.9 293L220.3 288L220 287.6L219.8 287.4L211.4 280.1L211.3 280L206 272.8L205.1 270.5L200.7 262L199.7 259L196.4 250.5L195 245.7L193.3 240.1L17.2 240.1L17.2 301.5L324 301.5L324 240.1Z" fill="#001cff"/>
<path d="M273.1 240.1L272 245.8L271.7 251.4L271 255.1L269.4 261.3L267.8 267L265.4 271.4L263.7 278.5L260.5 284.3L258.8 287.8L258.2 290.7L253.6 294.2L248.3 297.5L239.7 299L236.7 299L229.1 296L222.2 292.7L219.2 289.3L218 287.9L210.8 281.7L209.7 280L205.3 274L203.8 270.3L199.9 262.8L198.5 258.5L195.6 251L193.5 244.4L192.3 240.1L17.2 240.1L17.2 301.5L324 301.5L324 240.1Z" fill="#0024ff"/>
<path d="M233.9 301.5L227.4 298.9L224.1 297.4L218.4 291.1L216.2 288.4L210.3 283.2L208.2 280.1L204.6 275.2L202.5 270.1L199.2 263.6L197.2 258L194.7 251.6L192.1 243.1L191.3 240.1L17.2 240.1L17.2 301.5ZM273.9 240.1L273.2 243.4L272.9 251.3L271.8 256.6L270.6 261.3L268.6 268.7L267.1 271.4L265 279.9L264.2 281.5L260.8 288.4L259.7 294.3L250.4 301.3L250.3 301.4L249.7 301.5L324 301.5L324 240.1Z" fill="#002cff"/>
<path d="M225.5 301.5L217.6 292.8L214.4 288.9L209.7 284.8L206.6 280.1L203.9 276.3L201.1 269.9L198.4 264.4L195.9 257.5L193.9 252.2L190.7 241.7L190.2 240.1L17.2 240.1L17.2 301.5ZM274.6 240.1L274.5 241L274 251.3L272.7 258.1L271.8 261.3L269.4 270.3L268.8 271.4L267.6 276.2L266.6 280.4L266.1 282.1L262.8 289L261.1 297.8L256.3 301.5L324 301.5L324 240.1Z" fill="#0034ff"/>
<path d="M223.1 301.5L216.8 294.6L212.6 289.3L209.1 286.3L205.1 280.2L203.2 277.5L199.8 269.7L197.6 265.2L194.7 257L193.1 252.8L189.3 240.4L189.2 240.1L17.2 240.1L17.2 301.5ZM275.8 240.1L275.6 241.6L275.2 251.2L273.5 259.6L273.1 261.3L271 269.2L270.5 271.4L270.3 272.1L268.2 280.4L267 284.9L264.8 289.5L262.6 301.4L262.4 301.5L324 301.5L324 240.1Z" fill="#003cff"/>
<path d="M220.7 301.5L215.9 296.3L210.8 289.8L208.5 287.9L203.5 280.2L202.4 278.7L198.5 269.5L196.8 266L193.4 256.4L192.2 253.4L189.2 243.4L188.5 240.7L188.3 240.1L17.2 240.1L17.2 301.5ZM277.1 240.1L276.7 243.9L276.3 251.2L274.4 261.1L274.3 261.2L274.2 261.8L272.4 271.4L271.5 274.2L269.9 280.5L268 287.7L266.8 290.1L265.6 296.5L264.2 301.5L324 301.5L324 240.1Z" fill="#0044ff"/>
<path d="M218.3 301.5L215.1 298L209 290.3L208 289.4L202 280.3L201.7 279.9L197.2 269.2L196 266.9L192.2 255.9L191.4 253.9L189.4 247.5L187.8 241.5L187.5 240.1L17.2 240.1L17.2 301.5ZM278.5 240.1L277.7 246.2L277.5 251.2L276.1 258.2L276 261.4L275.7 263.5L274.2 271.4L272.6 276.3L271.6 280.5L268.9 290.5L268.8 290.7L268.7 291.2L265.8 301.5L324 301.5L324 240.1Z" fill="#004cff"/>
<path d="M215.9 301.5L214.3 299.8L208.3 292.2L207.4 290.9L207.3 290.7L201 281.1L200.6 280.3L198.9 276.2L195.9 269L195.2 267.7L190.9 255.4L190.6 254.5L189.7 251.6L187.1 242.2L186.6 240.1L17.2 240.1L17.2 301.5ZM279.8 240.1L278.8 248.4L278.7 251.1L277.9 254.9L277.6 261.5L277 266L276 271.4L273.8 278.4L273.2 280.5L271.8 285.9L270.8 290.8L269.9 292.5L267.4 301.5L324 301.5L324 240.1Z" fill="#0054ff"/>
<path d="M213.5 301.5L206.7 292.1L205.8 290.7L200.3 282.3L199.4 280.3L195.2 270.4L194.6 268.8L194.4 268.5L191.4 260L189.7 255.1L189.7 254.9L186.4 243L185.7 240.1L17.2 240.1L17.2 301.5ZM281.1 240.1L279.8 250.7L279.8 251.1L279.7 251.6L279.3 261.6L278.3 268.4L277.8 271.4L274.9 280.6L274.9 280.6L272.8 290.8L271 294.5L269.1 301.5L324 301.5L324 240.1Z" fill="#005cff"/>
<path d="M212 301.5L206 293.3L204.4 290.7L199.6 283.4L198.2 280.3L193.7 269.8L193.5 269L193.3 268.2L189 255.7L188.6 254.4L185.7 243.7L184.9 240.1L17.2 240.1L17.2 301.5ZM282.5 240.1L281.4 249L281.6 251.8L281.3 254.6L281 261.8L279.7 270.8L279.6 271.4L279 273.2L277.2 280.5L276.4 283.2L274.9 290.8L272.1 296.4L270.7 301.5L324 301.5L324 240.1Z" fill="#0064ff"/>
<path d="M210.4 301.5L205.3 294.5L202.9 290.8L198.9 284.6L197 280.3L193.1 271.2L192.5 269.3L192.1 267.6L188.2 256.4L187.6 253.8L185 244.4L184 240.1L17.2 240.1L17.2 301.5ZM283.8 240.1L283 246.5L283.4 252.6L282.8 258.9L282.6 261.9L282 266.5L281.7 271.5L281.1 274L279.6 280.4L277.9 285.8L276.9 290.8L273.2 298.4L272.3 301.5L324 301.5L324 240.1Z" fill="#006cff"/>
<path d="M208.8 301.5L204.6 295.7L201.5 290.8L198.2 285.8L195.7 280.4L192.5 272.7L191.5 269.6L190.8 266.9L187.4 257L186.6 253.3L184.3 245.2L183.2 240.1L17.2 240.1L17.2 301.5ZM285.1 240.1L284.7 244L285.3 253.5L284.5 261.3L284.6 262L284.4 262.8L283.9 271.7L282.6 277.4L281.9 280.3L279.4 288.5L278.9 290.8L274.2 300.3L273.9 301.5L324 301.5L324 240.1Z" fill="#0074ff"/>
<path d="M207.3 301.5L203.9 296.9L200 290.8L197.5 286.9L194.5 280.4L191.9 274.1L190.5 269.9L189.6 266.2L186.6 257.6L185.5 252.7L183.6 245.9L182.3 240.1L17.2 240.1L17.2 301.5ZM286.5 240.1L286.3 241.5L287.2 254.3L286.7 258.9L287.4 262L286.4 265.8L286.1 271.8L284.4 279.7L284.3 280.6L281.1 290.5L280.9 291.2L276.3 301.5L324 301.5L324 240.1Z" fill="#007cff"/>
<path d="M205.7 301.5L203.2 298.1L198.6 290.8L196.8 288.1L193.3 280.4L191.2 275.6L189.5 270.2L188.3 265.5L185.8 258.3L184.5 252.2L183 246.7L181.5 240.1L17.2 240.1L17.2 301.5ZM288.8 240.1L288.9 241.5L288.6 248.5L289 255.2L288.9 256.5L290.3 262.1L288.5 268.7L288.3 272L287.4 276.2L286.6 282.6L284.7 288.9L282.9 294.5L279.8 301.5L324 301.5L324 240.1Z" fill="#0083ff"/>
<path d="M204.2 301.5L202.5 299.3L197.2 290.9L196.1 289.3L192 280.4L190.6 277.1L188.5 270.5L187.1 264.8L185.1 258.9L183.4 251.6L182.3 247.4L180.6 240.1L17.2 240.1L17.2 301.5ZM292.3 240.1L292.5 244.4L292.1 254.3L291.9 257.3L293.1 262.1L290.5 271.7L290.5 272.1L290.3 272.8L289 284.6L288.2 287.3L285 297.8L283.3 301.5L324 301.5L324 240.1Z" fill="#008bff"/>
<path d="M202.6 301.5L201.9 300.5L195.7 290.9L195.4 290.4L190.8 280.4L190 278.5L187.5 270.8L185.9 264.1L184.3 259.5L182.4 251.1L181.6 248.1L179.7 240.1L17.2 240.1L17.2 301.5ZM295.8 240.1L296.1 247.3L295.9 252.2L295.4 260.2L295.9 262.1L294.7 266.6L294.8 273.3L292.5 284.3L292.5 285.8L292.1 286.8L288.3 296.8L287 301.1L286.8 301.5L324 301.5L324 240.1Z" fill="#0093ff"/>
<path d="M201 301.5L194.7 291.7L194.3 290.9L191.3 284.1L189.6 280.4L189.4 280L186.5 271.2L184.6 263.4L183.5 260.2L181.3 250.5L180.9 248.9L178.9 240.1L17.2 240.1L17.2 301.5ZM299.3 240.1L299.6 247.1L299.8 249.9L299.8 250.1L299.8 250.2L300.3 261.3L300.3 263.7L299.4 268.9L299.6 274.7L299 277.3L299 284.7L297.1 289.9L295.1 295.2L293.5 301.5L324 301.5L324 240.1Z" fill="#009bff"/>
<path d="M199.3 301.5L193.8 293.1L192.9 290.9L188.7 281.4L188.4 280.5L187.9 278.9L185.5 271.5L183.4 262.7L182.7 260.8L180.3 250L180.2 249.6L178 240.1L17.2 240.1L17.2 301.5ZM309.9 240.1L310 241.6L310 250.1L307.8 258.3L307.8 258.6L307.8 268.2L307.1 272.6L305.5 281.8L305.5 283.7L304.8 285.7L304.2 291.3L303.5 294.6L301.1 301.5L324 301.5L324 240.1Z" fill="#00a3ff"/>
<path d="M197.5 301.5L193 294.6L191.5 290.9L187.9 282.8L187.3 280.5L186.1 276.6L184.5 271.8L182.1 262.1L181.9 261.5L181 257L179.5 250.4L179.3 249.8L178.1 244.3L177.2 240.1L17.2 240.1L17.2 301.5ZM324 265.1L319.8 274.7L315.7 280.7L315.5 282.6L313.6 290.5L313.5 291L311.3 301.1L311.1 301.5L324 301.5Z" fill="#00abff"/>
<path d="M195.8 301.5L192.2 296L190.1 290.9L187.1 284.2L186.2 280.5L184.2 274.2L183.6 272.1L182.1 266L181.1 262L181 261.4L178.7 251.3L178.4 249.7L176.4 240.6L176.3 240.1L17.2 240.1L17.2 301.5Z" fill="#00b3ff"/>
<path d="M194.1 301.5L191.4 297.4L188.7 290.9L186.3 285.5L185 280.6L182.6 272.6L182.5 272.3L180.2 262.6L179.9 260.7L178 252.2L177.4 249.6L175.7 241.5L175.3 240.1L17.2 240.1L17.2 301.5Z" fill="#00bbff"/>
<path d="M192.3 301.5L190.6 298.8L187.3 290.9L185.5 286.9L183.9 280.6L181.8 273.8L181.4 272L179.3 263.1L178.8 260.1L177.2 253L176.5 249.6L174.9 242.5L174.4 240.1L17.2 240.1L17.2 301.5Z" fill="#00c3ff"/>
<path d="M190.6 301.5L189.8 300.2L185.9 290.9L184.7 288.3L182.8 280.6L181.1 275L180.3 271.7L178.4 263.7L177.7 259.4L176.5 253.9L175.5 249.5L174.2 243.4L173.4 240.1L17.2 240.1L17.2 301.5Z" fill="#00cbff"/>
<path d="M188.9 301.5L188.5 300.6L184.5 290.9L183.9 289.7L181.7 280.6L180.3 276.2L179.2 271.4L177.5 264.2L176.7 258.8L175.8 254.7L174.6 249.4L173.5 244.4L172.4 240.1L17.2 240.1L17.2 301.5Z" fill="#00d3ff"/>
<path d="M187.3 301.5L183.1 291.1L183.1 290.9L183 290.4L180.5 280.7L179.5 277.3L178.1 271L176.6 264.7L175.6 258.1L175 255.6L173.6 249.3L172.7 245.3L171.5 240.1L17.2 240.1L17.2 301.5Z" fill="#00dbff"/>
<path d="M185.7 301.5L182.1 292.7L181.8 290.9L181 287.1L179.4 280.7L178.7 278.5L177 270.7L175.7 265.3L174.5 257.4L174.3 256.4L172.7 249.3L172 246.3L170.5 240.1L17.2 240.1L17.2 301.5Z" fill="#00e3ff"/>
<path d="M184.1 301.5L181.2 294.2L180.6 290.9L179 283.7L178.3 280.7L178 279.7L175.9 270.4L174.8 265.8L173.6 257.7L173.4 257L173.2 255.8L171.7 249.2L171.3 247.2L169.6 240.1L17.2 240.1L17.2 301.5Z" fill="#00ebff"/>
<path d="M182.5 301.5L180.2 295.8L179.3 290.9L177.2 281L177.1 280.8L177.1 280.4L174.8 270.1L173.9 266.4L172.9 259.8L172.4 257.1L171.5 252.3L170.8 249.1L170.5 248.2L168.6 240.1L17.2 240.1L17.2 301.5Z" fill="#00f3ff"/>
<path d="M180.9 301.5L179.3 297.4L178.1 291L176.2 282.5L176 280.9L175.5 277.7L173.7 269.8L173.1 266.9L172.3 261.8L171.3 257.2L169.8 249.1L169.8 248.9L167.7 240.1L17.2 240.1L17.2 301.5Z" fill="#00fbff"/>
<path d="M179.3 301.5L178.3 298.9L176.8 291L175.3 284L174.8 281L173.9 275.1L172.6 269.5L172.2 267.5L171.6 263.9L170.3 257.3L169 250.3L168.7 249L168.2 246.3L166.7 240.1L17.2 240.1L17.2 301.5Z" fill="#04fffb"/>
<path d="M177.8 301.5L177.4 300.5L175.6 291L174.4 285.5L173.7 281.1L172.2 272.4L171.5 269.2L171.3 268L170.9 265.9L169.3 257.4L168.2 251.6L167.6 249L166.6 243.6L165.7 240.1L17.2 240.1L17.2 301.5Z" fill="#0cfff3"/>
<path d="M176.2 301.5L176.1 300.3L174.3 291L173.5 287.1L172.5 281.2L170.6 269.7L170.4 268.8L170.4 268.5L170.3 268L168.2 257.5L167.3 252.8L166.5 249L165 241L164.8 240.1L17.2 240.1L17.2 301.5Z" fill="#14ffeb"/>
<path d="M174.9 301.5L174.1 296.7L173.1 291L172.5 288.6L171.4 281.3L169.6 270.6L169.4 269.2L169.3 268.5L169 266.9L167.2 257.5L166.5 254L165.4 249L163.9 241L163.7 240.1L17.2 240.1L17.2 301.5Z" fill="#1cffe3"/>
<path d="M173.5 301.5L172.2 293.2L171.8 291.1L171.6 290.1L170.2 281.4L168.9 273.4L168.3 269.8L168.1 268.3L167.4 264L166.1 257.6L165.7 255.2L164.3 248.9L163 242.2L162.5 240.1L17.2 240.1L17.2 301.5Z" fill="#24ffdb"/>
<path d="M172.1 301.5L170.6 291.7L170.5 291L170.3 289.5L169.1 281.5L168.2 276.3L167.2 270.5L166.9 268L165.7 261.1L165.1 257.7L164.8 256.4L163.2 248.9L162.2 243.5L161.4 240.1L17.2 240.1L17.2 301.5Z" fill="#2cffd3"/>
<path d="M170.8 301.5L169.5 293.5L169.3 290.9L168.5 285.5L167.9 281.6L167.5 279.1L166.1 271.2L165.6 267.7L164.1 258.2L164 257.7L162.1 248.9L161.3 244.7L160.2 240.1L17.2 240.1L17.2 301.5Z" fill="#34ffcb"/>
<path d="M169.4 301.5L168.4 295.2L168 290.8L166.8 281.8L166.8 281.7L165 271.9L164.4 267.4L163.1 259L162.8 257.8L162.4 255.3L161 248.9L160.4 246L159.1 240.1L17.2 240.1L17.2 301.5Z" fill="#3cffc3"/>
<path d="M168 301.5L167.3 297L166.7 290.7L165.6 282.9L165.4 280.9L164 272.6L163.2 267.1L162.2 260.4L161.6 257.8L160.7 252.6L159.9 248.9L159.6 247.2L157.9 240.1L17.2 240.1L17.2 301.5Z" fill="#44ffbb"/>
<path d="M166.6 301.5L166.2 298.7L165.4 290.6L164.5 284L164.1 280.1L162.9 273.2L162 266.8L161.2 261.8L160.4 257.8L159 249.8L158.8 248.9L158.7 248.4L156.8 240.1L17.2 240.1L17.2 301.5Z" fill="#4cffb3"/>
<path d="M165.3 301.5L165.1 300.5L164.1 290.5L163.4 285L162.7 279.2L161.8 273.9L160.8 266.5L160.3 263.2L159.2 257.8L157.8 249.9L157.6 248.9L157.3 247.2L155.6 240.1L17.2 240.1L17.2 301.5Z" fill="#54ffab"/>
<path d="M163.9 301.5L163.8 300.4L162.8 290.5L162.2 286.1L161.4 278.4L160.7 274.6L159.6 266.2L159.3 264.6L158 257.8L156.9 251.4L156.4 248.9L155.6 244.8L154.5 240.1L17.2 240.1L17.2 301.5Z" fill="#5cffa3"/>
<path d="M162.5 301.5L162.3 297.6L161.5 290.4L161.1 287.1L160.1 277.6L159.7 275.3L158.4 266.2L158.4 265.9L158.4 265.8L156.8 257.8L155.9 253L155.1 248.9L153.8 242.4L153.3 240.1L17.2 240.1L17.2 301.5Z" fill="#64ff9b"/>
<path d="M161.2 301.5L160.7 294.9L160.2 290.3L160 288.2L158.7 276.8L158.6 275.9L158.1 272.6L157.1 266.2L156.7 263.3L155.6 257.8L155 254.5L153.8 248.9L152.2 240.2L152.1 240.1L17.2 240.1L17.2 301.5Z" fill="#6cff93"/>
<path d="M159.8 301.5L159.2 292.2L158.9 290.2L158.8 289.3L158 281.2L157.4 276.7L157.3 275.9L155.8 266.6L155 260.7L154.4 257.8L154.1 256L152.6 248.9L151.2 241.9L150.9 240.1L17.2 240.1L17.2 301.5Z" fill="#74ff8b"/>
<path d="M158.4 301.5L157.7 290.6L157.6 290.1L157.6 289.8L156.2 277.4L155.8 275L154.5 266.9L153.3 258.2L153.2 257.8L153.1 257.6L151.3 248.9L150.3 243.6L149.7 240.1L17.2 240.1L17.2 301.5Z" fill="#7cff83"/>
<path d="M157.1 301.5L156.5 293L156.2 290.2L156.1 288.4L154.9 278.2L154.3 274.1L153.2 267.2L152.1 259.3L151.8 257.8L151.4 255.2L150.1 248.9L149.4 245.4L148.5 240.1L17.2 240.1L17.2 301.5Z" fill="#83ff7c"/>
<path d="M155.7 301.5L155.3 295.4L154.8 290.3L154.6 287L153.6 279L152.8 273.1L151.8 267.5L150.9 261.1L150.4 257.7L149.5 252.1L148.8 248.9L148.5 247.1L147.2 240.1L17.2 240.1L17.2 301.5Z" fill="#8bff74"/>
<path d="M154.3 301.5L154.1 297.8L153.4 290.4L153 285.7L152.3 279.8L151.3 272.2L150.5 267.8L149.8 262.9L149 257.7L147.6 249L147.6 248.8L146 240.1L17.2 240.1L17.2 301.5Z" fill="#93ff6c"/>
<path d="M152.9 301.5L152.9 300.2L152 290.5L151.5 284.3L151.1 280.6L149.7 271.2L149.2 268.1L148.7 264.6L147.7 257.6L146.6 251L146.3 249L146.1 247.2L144.8 240.1L17.2 240.1L17.2 301.5Z" fill="#9bff64"/>
<path d="M151.6 301.5L151.5 300.7L150.6 290.6L150 283L149.8 281.3L148.2 270.3L147.9 268.5L147.6 266.4L146.3 257.6L145.5 253.2L144.9 249.1L144.5 245.4L143.6 240.1L17.2 240.1L17.2 301.5Z" fill="#a3ff5c"/>
<path d="M150.2 301.5L149.9 299L149.2 290.6L148.5 282.4L148.4 281.8L147.8 277.3L146.7 269.3L146.6 268.8L146.5 268.2L144.9 257.5L144.5 255.4L143.6 249.2L143 243.6L142.3 240.1L17.2 240.1L17.2 301.5Z" fill="#abff54"/>
<path d="M148.8 301.5L148.3 297.3L147.8 290.7L147.2 284.2L146.9 281.4L145.3 270L145.2 269.2L145.1 268.3L143.5 257.5L143.5 257.4L142.2 249.4L141.4 241.9L141.1 240.1L17.2 240.1L17.2 301.5Z" fill="#b3ff4c"/>
<path d="M147.4 301.5L146.8 295.6L146.3 290.8L146 286.1L145.3 281L144.1 272L143.7 269.6L143.5 267.3L142.1 258.3L141.8 255.4L140.9 249.5L139.9 240.2L139.9 240.1L17.2 240.1L17.2 301.5Z" fill="#bbff44"/>
<path d="M146 301.5L145.2 293.9L144.9 290.9L144.7 287.9L143.7 280.6L142.8 273.9L142.2 270L141.8 266.2L140.7 259L140.2 253.4L139.6 249.6L138.9 243.7L138.6 240.1L17.2 240.1L17.2 301.5Z" fill="#c3ff3c"/>
<path d="M144.6 301.5L143.6 292.2L143.5 291L143.4 289.8L142.1 280.2L141.5 275.9L140.8 270.5L140.2 265.2L139.3 259.8L138.5 251.4L138.2 249.7L137.9 247.1L137.3 240.1L17.2 240.1L17.2 301.5Z" fill="#cbff34"/>
<path d="M143.2 301.5L142.2 292.3L142.1 291.3L142 290.8L141.6 287.9L140.5 279.8L140.3 277.8L139.3 270.9L138.5 264.1L138 260.5L137 250.9L136.9 250L136.9 249.5L136 240.1L17.2 240.1L17.2 301.5Z" fill="#d3ff2c"/>
<path d="M141.8 301.5L141.3 296.2L140.7 292L140.4 290L139 279.7L138.9 279.1L137.8 271.3L136.9 263L136.6 261.2L136.1 256.4L135.5 250.7L135.4 248.1L134.7 240.1L17.2 240.1L17.2 301.5Z" fill="#dbff24"/>
<path d="M140.4 301.5L140.3 300.1L139.2 292.7L138.7 289.2L137.6 281.4L137.4 279.6L137 276.3L136.3 271.7L135.2 262L135.2 262L134.2 251.4L134 246.6L133.4 240.1L17.2 240.1L17.2 301.5Z" fill="#e3ff1c"/>
<path d="M138.9 301.5L138.7 300.3L137.8 293.4L137 288.4L136.3 283.1L135.8 279.6L135 273.5L134.8 272.2L134.5 269.3L133.8 262.8L133.7 260.6L132.9 252.1L132.6 245.2L132.1 240.1L17.2 240.1L17.2 301.5Z" fill="#ebff14"/>
<path d="M137.3 301.5L136.9 298.4L136.3 294.1L135.3 287.6L134.9 284.7L134.3 279.7L133.4 273.4L133.3 272.1L132.4 263.6L132.1 259.3L131.5 252.8L131.2 243.7L130.8 240.1L17.2 240.1L17.2 301.5Z" fill="#f3ff0c"/>
<path d="M135.7 301.5L135.1 296.5L134.9 294.9L133.6 286.9L133.6 286.4L132.7 279.8L132.1 275.1L131.8 271.5L131 264.3L130.6 257.9L130.2 253.5L129.7 242.3L129.5 240.1L17.2 240.1L17.2 301.5Z" fill="#fbff04"/>
<path d="M134.1 301.5L133.4 295.8L133.3 295L132.1 287.2L131.8 284.6L131.1 279.8L130.7 276.8L130.2 271L129.6 265.1L129 256.6L128.8 254.2L128.3 240.8L128.2 240.1L17.2 240.1L17.2 301.5Z" fill="#fffb00"/>
<path d="M132.5 301.5L132 297.2L131.6 294.3L130.6 287.9L129.9 282.1L129.6 279.9L129.4 278.5L128.7 270.5L128.2 265.9L127.5 255.2L127.5 254.9L127.4 251.7L126.9 240.9L126.9 240.1L17.2 240.1L17.2 301.5Z" fill="#fff300"/>
<path d="M130.9 301.5L130.6 298.6L129.8 293.6L129 288.5L128.1 280.4L128 280L128 279.3L127.2 270L126.8 266.7L126.3 258.4L126.1 255.5L126.1 254.2L125.6 242.3L125.6 240.1L17.2 240.1L17.2 301.5Z" fill="#ffeb00"/>
<path d="M129.3 301.5L129.2 300L128.1 292.9L127.5 289.1L126.8 283.2L126.5 280L126.1 275.1L125.6 269.5L125.4 267.5L125.1 262.5L124.7 256.1L124.7 253.3L124.3 243.7L124.3 240.1L17.2 240.1L17.2 301.5Z" fill="#ffe300"/>
<path d="M127.7 301.5L127.7 301.4L126.3 292.1L126 289.8L125.5 286L124.9 280.1L124.2 270.8L124.1 268.9L124 268.3L123.9 266.6L123.4 256.6L123.3 252.4L123 245.1L122.9 240.1L17.2 240.1L17.2 301.5Z" fill="#ffdb00"/>
<path d="M126 301.5L125.2 295.6L124.6 291.4L124.4 290.4L124.2 288.8L123.4 280.1L122.6 269.7L122.6 268.8L122.6 267.9L122 257.2L121.9 251.5L121.7 246.5L121.6 240.1L17.2 240.1L17.2 301.5Z" fill="#ffd300"/>
<path d="M124.1 301.5L122.9 291.4L122.9 290.9L122.8 290.3L121.9 280.2L121.2 271.7L121.1 269L121.1 266.4L120.6 257.8L120.5 250.6L120.4 247.9L120.2 240.1L17.2 240.1L17.2 301.5Z" fill="#ffcb00"/>
<path d="M122.3 301.5L121.3 293.5L121.2 290.9L121.1 287.9L120.3 280.3L119.8 273.8L119.6 269.1L119.6 264.8L119.2 258.4L119.1 249.7L119.1 249.3L118.9 240.1L17.2 240.1L17.2 301.5Z" fill="#ffc300"/>
<path d="M120.5 301.5L119.8 295.6L119.5 290.8L119.3 285.6L118.8 280.3L118.4 275.9L118.2 269.3L118.1 263.3L117.8 259L117.7 252.6L117.7 249.7L117.7 246.4L117.6 240.1L17.2 240.1L17.2 301.5Z" fill="#ffbb00"/>
<path d="M118.7 301.5L118.3 297.6L117.9 290.8L117.5 283.3L117.2 280.4L117 278L116.7 269.5L116.6 261.7L116.5 259.6L116.4 256.3L116.3 249.9L116.3 242.6L116.2 240.1L17.2 240.1L17.2 301.5Z" fill="#ffb300"/>
<path d="M116.9 301.5L116.7 299.7L116.2 290.8L115.7 280.9L115.7 280.4L115.7 280L115.2 269.7L115.1 260.2L115.1 260.1L114.8 250.2L114.8 241.1L114.8 240.1L17.2 240.1L17.2 301.5Z" fill="#ffab00"/>
<path d="M115.1 301.5L115.1 301L114.5 290.8L114.1 282.7L114.1 280.4L114.1 278L113.7 269.9L113.7 263.1L113.6 260.3L113.6 257.9L113.4 250.4L113.4 243.5L113.4 240.1L17.2 240.1L17.2 301.5Z" fill="#ffa300"/>
<path d="M113.4 301.5L113.2 297.5L112.8 290.7L112.6 285.4L112.5 280.3L112.5 274.9L112.3 270.1L112.2 266L112.1 260.4L112.1 255.7L112 250.6L112 246L111.9 240.1L17.2 240.1L17.2 301.5Z" fill="#ff9b00"/>
<path d="M111.6 301.5L111.4 293.9L111.2 290.7L111.1 288.2L110.9 280.2L110.9 271.9L110.8 270.3L110.8 269L110.6 260.5L110.7 253.4L110.6 250.8L110.6 248.5L110.5 240.1L17.2 240.1L17.2 301.5Z" fill="#ff9300"/>
<path d="M109.9 301.5L109.5 291L109.5 290.7L109.5 290.2L109.3 280.1L109.3 272.3L109.3 270.4L109.3 268.6L109.1 260.7L109.2 251.2L109.2 250.9L109 240.1L17.2 240.1L17.2 301.5Z" fill="#ff8b00"/>
<path d="M108.1 301.5L107.9 293.7L107.9 290.2L107.8 285.5L107.8 280.1L107.7 275.8L107.8 270.5L107.7 265.3L107.6 260.8L107.7 255.3L107.7 251.5L107.7 248.5L107.5 240.1L17.2 240.1L17.2 301.5Z" fill="#ff8300"/>
<path d="M106.4 301.5L106.2 296.4L106.4 289.8L106.2 280.7L106.2 280L106.2 279.4L106.2 270.5L106.2 261.9L106.2 260.9L106.2 259.7L106.2 251.9L106.2 245.7L106.1 240.1L17.2 240.1L17.2 301.5Z" fill="#ff7c00"/>
<path d="M104.6 301.5L104.5 299.2L104.8 289.4L104.6 281.1L104.6 278.6L104.7 270.6L104.6 262.2L104.7 260.1L104.7 252.3L104.7 243L104.6 240.1L17.2 240.1L17.2 301.5Z" fill="#ff7400"/>
<path d="M102.9 301.5L102.9 301L103.2 289L103.1 282.4L103.1 277L103.2 270.7L103.1 264L103.2 259L103.2 252.8L103.2 240.2L103.2 240.1L17.2 240.1L17.2 301.5Z" fill="#ff6c00"/>
<path d="M101.4 301.5L101.4 297.4L101.6 288.6L101.5 283.7L101.6 275.5L101.6 270.7L101.6 265.8L101.7 257.9L101.7 253.2L101.7 243.7L101.6 240.1L17.2 240.1L17.2 301.5Z" fill="#ff6400"/>
<path d="M99.8 301.5L99.9 293.8L100.1 288.1L100 285L100.1 273.9L100.1 270.8L100.1 267.5L100.2 256.7L100.2 253.6L100.2 247.3L100.1 240.1L17.2 240.1L17.2 301.5Z" fill="#ff5c00"/>
<path d="M98.3 301.5L98.4 290.3L98.5 287.7L98.5 286.3L98.6 272.3L98.6 270.8L98.6 269.3L98.7 255.6L98.7 254.1L98.7 251L98.6 240.1L17.2 240.1L17.2 301.5Z" fill="#ff5400"/>
<path d="M96.8 301.5L96.9 288.1L96.9 287.5L96.9 287.1L97.1 271.1L97 270.9L97.1 270.7L97.2 254.5L97.2 254.5L97.2 254.4L97.1 240.1L17.2 240.1L17.2 301.5Z" fill="#ff4c00"/>
<path d="M95.2 301.5L95.3 291.5L95.3 287.9L95.4 285.9L95.5 272.8L95.4 270.9L95.5 269.1L95.6 255.8L95.5 254.1L95.6 250.9L95.6 240.1L17.2 240.1L17.2 301.5Z" fill="#ff4400"/>
<path d="M93.7 301.5L93.8 295L93.7 288.4L93.8 284.6L93.9 274.5L93.7 270.9L93.9 267.5L94 257L93.9 253.6L94.1 247.4L94 240.1L17.2 240.1L17.2 301.5Z" fill="#ff3c00"/>
<path d="M92.2 301.5L92.2 298.4L92.1 288.8L92.2 283.3L92.3 276.2L92.1 270.9L92.3 265.8L92.4 258.2L92.2 253.2L92.5 244L92.5 240.1L17.2 240.1L17.2 301.5Z" fill="#ff3400"/>
<path d="M90.6 301.5L90.6 301.1L90.4 289.3L90.7 282L90.7 277.9L90.4 270.9L90.8 264.2L90.8 259.4L90.6 252.8L91 240.5L91 240.1L17.2 240.1L17.2 301.5Z" fill="#ff2c00"/>
<path d="M88.7 301.5L89 297.9L88.8 289.7L89.1 280.7L89.2 279.6L88.8 270.9L89.2 262.6L89.2 260.6L88.9 252.3L89.2 243.2L89 240.1L17.2 240.1L17.2 301.5Z" fill="#ff2400"/>
<path d="M86.7 301.5L87.3 294.7L87.2 290.2L87.4 283.8L87.2 280.4L87.4 277.9L87.1 270.9L87.5 262.7L87.5 261.4L87.5 259.7L87.3 251.9L87.5 246.6L87 240.1L17.2 240.1L17.2 301.5Z" fill="#ff1c00"/>
<path d="M84.8 301.5L85.6 291.4L85.6 290.6L85.6 289.5L85.1 280.6L85.6 274.1L85.5 270.9L85.7 267.1L85.4 261.3L85.7 253.5L85.7 251.5L85.7 250.1L85 240.1L17.2 240.1L17.2 301.5Z" fill="#ff1400"/>
<path d="M82.9 301.5L83.5 293.5L83.4 290.9L83.5 288.5L83 280.9L83.7 271.5L83.7 270.9L83.7 270.2L83.3 261.2L83.6 253.5L83.4 251.3L83.6 248.8L83 240.1L17.2 240.1L17.2 301.5Z" fill="#ff0c00"/>
<path d="M80.9 301.5L81.3 297.1L81 291.2L81.2 285.7L80.9 281.1L81.3 275.4L80.9 270.9L81.4 266L81.2 261.1L81.4 256.9L80.7 251.4L81.3 244.9L81 240.1L17.2 240.1L17.2 301.5Z" fill="#ff0400"/>
<path d="M79 301.5L79.1 300.7L78.5 291.5L78.9 282.9L78.8 281.3L79 279.4L78.2 270.9L79.1 261.7L79.1 261L79.1 260.3L78.1 251.4L79.1 241L79 240.1L17.2 240.1L17.2 301.5Z" fill="#fb0000"/>
<path d="M75.8 301.5L76.2 293.5L76.1 291.8L76.2 289.2L76 282.4L76 280.9L76.1 278.4L75.4 270.9L76 265L75.9 260.9L76.1 256.8L75.5 251.5L76.1 245L75.8 240.1L17.2 240.1L17.2 301.5Z" fill="#f30000"/>
<path d="M72.3 301.5L72.6 295.1L72.6 290.5L72.4 284.6L72.4 279.7L72.8 272L72.7 270.9L72.8 270L72.5 260.9L72.9 251.7L72.8 251.6L72.9 251.3L72.3 240.1L17.2 240.1L17.2 301.5Z" fill="#eb0000"/>
<path d="M68.7 301.5L68.8 298.9L68.9 288.8L68.8 286.7L68.8 278.5L69 275L69 270.5L69 261.2L69 260.8L69 252.5L69 244.9L68.7 240.1L17.2 240.1L17.2 301.5Z" fill="#e30000"/>
<path d="M65.2 301.5L65.1 300.1L65.1 288.8L65.2 286.9L65.2 278.6L65.1 275.7L65.2 270L65.2 264.7L65.2 258.1L65.1 253.5L65.1 243.1L65.2 240.1L17.2 240.1L17.2 301.5Z" fill="#db0000"/>
<path d="M61.6 301.5L61.4 295.8L61.4 290.7L61.5 284.8L61.5 280.3L61.3 271L61.3 269.6L61.3 268.2L61.3 255.4L61.3 254.6L61.3 252.5L61.6 240.1L17.2 240.1L17.2 301.5Z" fill="#d30000"/>
<path d="M58 301.5L57.7 293.7L57.7 292.2L57.7 286.4L57.8 282.6L57.8 282.1L57.7 280.1L57.8 270.2L57.8 267.5L57.8 256.8L57.8 254.2L57.8 248.9L58 240.1L17.2 240.1L17.2 301.5Z" fill="#cb0000"/>
<path d="M54.4 301.5L54.4 300.7L54.4 291.6L54.4 284.4L54.4 280L54.4 271.4L54.4 264.7L54.4 259.4L54.4 253.5L54.4 241L54.4 240.1L17.2 240.1L17.2 301.5Z" fill="#c30000"/>
<path d="M50.9 301.5L51 296.9L51 290.9L51 286.8L51 277.3L51 272.6L51.1 262.2L51.1 262L51.1 261.8L51 252.7L51 246L50.9 240.1L17.2 240.1L17.2 301.5Z" fill="#bc0000"/>
<path d="M47.4 301.5L47.6 291.7L47.6 290.2L47.6 289.2L47.6 274.6L47.6 273.8L47.7 272L47.3 262L47.6 252.4L47.6 251.9L47.7 251.5L47.4 240.1L17.2 240.1L17.2 301.5Z" fill="#b40000"/>
<path d="M43.8 301.5L44 296.1L43.8 290.9L43.8 288L43.7 276.8L43.8 274.1L43.8 269.3L43.6 262L43.8 256.7L43.8 250.6L43.9 244.4L43.8 240.1L17.2 240.1L17.2 301.5Z" fill="#ac0000"/>
<path d="M39.9 301.5L39.9 298.6L39.7 292.3L39.7 285.1L39.7 280.2L39.8 274.1L39.9 263.4L39.8 262L39.9 261L39.9 249.3L40 245.8L39.9 240.1L17.2 240.1L17.2 301.5Z" fill="#a40000"/>
<path d="M35.3 301.5L35.5 294.7L35.5 292.9L35.5 283.9L35.5 282.5L35.4 275.4L35.4 273.2L35.4 265.4L35.3 261.9L35.4 258.2L35.4 250.5L35.4 245.7L35.3 240.1L17.2 240.1L17.2 301.5Z" fill="#9c0000"/>
<path d="M30.6 301.5L30.7 300.1L30.7 291L30.7 288.5L30.6 281.3L30.6 278.6L30.7 271.3L30.7 269.9L30.5 261.8L30.7 253.2L30.7 252.3L30.7 241.3L30.6 240.1L17.2 240.1L17.2 301.5Z" fill="#940000"/>
<path d="M25.1 301.5L25.2 293.8L25.2 290L25.3 282.4L25.3 279.7L25.1 273.1L25.1 268.6L25.4 262.1L25.4 260.3L25.1 252.5L25.5 248.1L25.5 245.1L25.1 240.1L17.2 240.1L17.2 301.5Z" fill="#8c0000"/>
<path d="M19.3 301.5L19.3 299.5L19.3 289.4L19.3 287.4L19.3 277.7L19.3 275.9L19.3 265.7L19.4 264L19.4 254.5L19.3 252.4L19.5 250.6L19.5 242.3L19.3 240.1L17.2 240.1L17.2 301.5Z" fill="#840000"/>
<path d="M17.2 301.5L29.5 301.5M17.2 301.5L17.2 289.2M17.2 301.5L28.8 290.3M29.5 301.5L41.7 301.5M29.5 301.5L28.8 290.3M29.5 301.5L36.7 293.3M41.7 301.5L54 301.5M41.7 301.5L46.5 290M41.7 301.5L36.7 293.3M54 301.5L66.3 301.5M54 301.5L46.5 290M54 301.5L58.4 292.4M66.3 301.5L78.6 301.5M66.3 301.5L58.4 292.4M66.3 301.5L66.8 287.9M66.3 301.5L75.7 291.9M78.6 301.5L90.8 301.5M78.6 301.5L75.7 291.9M78.6 301.5L85.2 290.7M90.8 301.5L103.1 301.5M90.8 301.5L85.2 290.7M90.8 301.5L97.2 287.4M103.1 301.5L115.4 301.5M103.1 301.5L97.2 287.4M103.1 301.5L109.7 290.7M115.4 301.5L127.6 301.5M115.4 301.5L109.7 290.7M115.4 301.5L123.3 290.9M127.6 301.5L139.9 301.5M127.6 301.5L123.3 290.9M127.6 301.5L134 295.3M139.9 301.5L152.2 301.5M139.9 301.5L134 295.3M139.9 301.5L142.6 291.1M152.2 301.5L164.5 301.5M152.2 301.5L142.6 291.1M152.2 301.5L158 290.1M164.5 301.5L176.7 301.5M164.5 301.5L158 290.1M164.5 301.5L171 291.1M176.7 301.5L189 301.5M176.7 301.5L171 291.1M176.7 301.5L183.2 290.9M189 301.5L201.3 301.5M189 301.5L183.2 290.9M189 301.5L195.1 290.9M201.3 301.5L213.6 301.5M201.3 301.5L195.1 290.9M201.3 301.5L207.5 290.7M213.6 301.5L225.8 301.5M213.6 301.5L207.5 290.7M213.6 301.5L220.1 287.4M225.8 301.5L238.1 301.5M225.8 301.5L220.1 287.4M225.8 301.5L232.3 290.7M238.1 301.5L250.4 301.5M238.1 301.5L232.3 290.7M238.1 301.5L244.7 290.7M250.4 301.5L262.6 301.5M250.4 301.5L244.7 290.7M250.4 301.5L256.8 287.2M262.6 301.5L274.9 301.5M262.6 301.5L256.8 287.2M262.6 301.5L269 290.8M274.9 301.5L287.2 301.5M274.9 301.5L269 290.8M274.9 301.5L280.7 290.8M287.2 301.5L299.5 301.5M287.2 301.5L290.8 286M287.2 301.5L280.7 290.8M287.2 301.5L299.8 291.5M299.5 301.5L311.7 301.5M299.5 301.5L299.8 291.5M311.7 301.5L324 301.5M311.7 301.5L299.8 291.5M311.7 301.5L314.1 291M324 301.5L324 289.2M324 301.5L314.1 291M17.2 240.1L29.5 240.1M17.2 240.1L17.2 252.4M17.2 240.1L24.1 246.8M29.5 240.1L41.7 240.1M29.5 240.1L24.1 246.8M29.5 240.1L30.1 252.5M29.5 240.1L39 249M41.7 240.1L54 240.1M41.7 240.1L39 249M41.7 240.1L47.9 252M54 240.1L66.3 240.1M54 240.1L47.9 252M54 240.1L60.3 254.8M66.3 240.1L78.6 240.1M66.3 240.1L60.3 254.8M66.3 240.1L72.7 251.6M78.6 240.1L90.8 240.1M78.6 240.1L72.7 251.6M78.6 240.1L85.1 251.3M90.8 240.1L103.1 240.1M90.8 240.1L85.1 251.3M90.8 240.1L97.2 254.5M103.1 240.1L115.4 240.1M103.1 240.1L97.2 254.5M103.1 240.1L109.1 251.1M115.4 240.1L127.6 240.1M115.4 240.1L109.1 251.1M115.4 240.1L118.8 249.5M127.6 240.1L139.9 240.1M127.6 240.1L118.8 249.5M127.6 240.1L127.3 255M127.6 240.1L137.2 249.8M139.9 240.1L152.2 240.1M139.9 240.1L137.2 249.8M139.9 240.1L147.5 248.9M152.2 240.1L164.5 240.1M152.2 240.1L147.5 248.9M152.2 240.1L158.5 248.9M164.5 240.1L176.7 240.1M164.5 240.1L158.5 248.9M164.5 240.1L169.9 249M176.7 240.1L189 240.1M176.7 240.1L169.9 249M176.7 240.1L180 249.8M189 240.1L201.3 240.1M189 240.1L180 249.8M189 240.1L189.9 255M189 240.1L198.5 249M201.3 240.1L213.6 240.1M201.3 240.1L198.5 249M201.3 240.1L208.8 251.1M213.6 240.1L225.8 240.1M213.6 240.1L208.8 251.1M213.6 240.1L220.1 253.8M225.8 240.1L238.1 240.1M225.8 240.1L220.1 253.8M225.8 240.1L232.8 251.3M238.1 240.1L250.4 240.1M238.1 240.1L232.8 251.3M238.1 240.1L244.5 251.3M250.4 240.1L262.6 240.1M250.4 240.1L244.5 251.3M250.4 240.1L256.8 254.8M262.6 240.1L274.9 240.1M262.6 240.1L256.8 254.8M262.6 240.1L269 251.5M274.9 240.1L287.2 240.1M274.9 240.1L269 251.5M274.9 240.1L280 251.1M287.2 240.1L299.5 240.1M287.2 240.1L280 251.1M287.2 240.1L299.6 250.1M287.2 240.1L289.8 255.5M299.5 240.1L311.7 240.1M299.5 240.1L299.6 250.1M311.7 240.1L324 240.1M311.7 240.1L299.6 250.1M311.7 240.1L314.2 250.1M324 240.1L324 252.4M324 240.1L314.2 250.1M17.2 289.2L17.2 277M17.2 289.2L27.6 280.5M17.2 289.2L28.8 290.3M17.2 277L17.2 264.7M17.2 277L29.6 270.9M17.2 277L27.6 280.5M17.2 264.7L17.2 252.4M17.2 264.7L26.8 261.7M17.2 264.7L29.6 270.9M17.2 252.4L24.1 246.8M17.2 252.4L30.1 252.5M17.2 252.4L26.8 261.7M324 289.2L324 277M324 289.2L316.5 282.5M324 289.2L314.1 291M324 277L324 264.7M324 277L311.9 270.6M324 277L316.5 282.5M324 264.7L324 252.4M324 264.7L316.9 259M324 264.7L311.9 270.6M324 252.4L314.2 250.1M324 252.4L316.9 259M24.1 246.8L30.1 252.5M30.1 252.5L39 249M30.1 252.5L26.8 261.7M30.1 252.5L39 262M39 249L47.9 252M39 249L39 262M47.9 252L60.3 254.8M47.9 252L39 262M47.9 252L51.1 262M60.3 254.8L72.7 251.6M60.3 254.8L51.1 262M60.3 254.8L69.3 260.9M60.3 254.8L60 269.4M72.7 251.6L69.3 260.9M72.7 251.6L78.7 260.9M72.7 251.6L85.1 251.3M26.8 261.7L39 262M26.8 261.7L29.6 270.9M39 262L51.1 262M39 262L29.6 270.9M39 262L37.5 274.1M39 262L47 274.1M51.1 262L47 274.1M51.1 262L60 269.4M69.3 260.9L78.7 260.9M69.3 260.9L60 269.4M69.3 260.9L72.2 270.9M78.7 260.9L72.2 270.9M78.7 260.9L85.1 251.3M78.7 260.9L88.1 261.4M78.7 260.9L84.1 270.9M29.6 270.9L37.5 274.1M29.6 270.9L27.6 280.5M37.5 274.1L47 274.1M37.5 274.1L27.6 280.5M37.5 274.1L36.6 282.8M47 274.1L60 269.4M47 274.1L36.6 282.8M47 274.1L57.3 282.3M47 274.1L46.5 290M60 269.4L72.2 270.9M60 269.4L66.8 277.8M60 269.4L57.3 282.3M72.2 270.9L66.8 277.8M72.2 270.9L77.7 281.4M72.2 270.9L84.1 270.9M27.6 280.5L36.6 282.8M27.6 280.5L28.8 290.3M66.8 277.8L57.3 282.3M66.8 277.8L77.7 281.4M66.8 277.8L66.8 287.9M36.6 282.8L28.8 290.3M36.6 282.8L46.5 290M36.6 282.8L36.7 293.3M57.3 282.3L46.5 290M57.3 282.3L58.4 292.4M57.3 282.3L66.8 287.9M77.7 281.4L66.8 287.9M77.7 281.4L75.7 291.9M77.7 281.4L84.1 270.9M77.7 281.4L88.6 280.3M77.7 281.4L85.2 290.7M28.8 290.3L36.7 293.3M46.5 290L58.4 292.4M46.5 290L36.7 293.3M58.4 292.4L66.8 287.9M66.8 287.9L75.7 291.9M75.7 291.9L85.2 290.7M85.1 251.3L97.2 254.5M85.1 251.3L88.1 261.4M97.2 254.5L109.1 251.1M97.2 254.5L88.1 261.4M97.2 254.5L105.7 260.9M97.2 254.5L97.2 270.9M109.1 251.1L118.8 249.5M109.1 251.1L105.7 260.9M109.1 251.1L115.1 260.1M118.8 249.5L127.3 255M118.8 249.5L115.1 260.1M127.3 255L137.2 249.8M127.3 255L115.1 260.1M127.3 255L135.2 262M127.3 255L123.3 268.7M137.2 249.8L135.2 262M137.2 249.8L147.5 248.9M137.2 249.8L143.5 257.5M88.1 261.4L84.1 270.9M88.1 261.4L97.2 270.9M105.7 260.9L115.1 260.1M105.7 260.9L97.2 270.9M105.7 260.9L110.1 270.4M115.1 260.1L110.1 270.4M115.1 260.1L123.3 268.7M135.2 262L123.3 268.7M135.2 262L134.2 272.4M135.2 262L143.5 257.5M135.2 262L146.1 268.9M84.1 270.9L97.2 270.9M84.1 270.9L88.6 280.3M97.2 270.9L110.1 270.4M97.2 270.9L88.6 280.3M97.2 270.9L105.9 280M97.2 270.9L97.2 287.4M110.1 270.4L123.3 268.7M110.1 270.4L105.9 280M110.1 270.4L115.4 280.5M123.3 268.7L134.2 272.4M123.3 268.7L115.4 280.5M123.3 268.7L128.3 280M134.2 272.4L128.3 280M134.2 272.4L139.2 279.5M134.2 272.4L146.1 268.9M88.6 280.3L85.2 290.7M88.6 280.3L97.2 287.4M105.9 280L115.4 280.5M105.9 280L97.2 287.4M105.9 280L109.7 290.7M115.4 280.5L128.3 280M115.4 280.5L109.7 290.7M115.4 280.5L123.3 290.9M128.3 280L139.2 279.5M128.3 280L123.3 290.9M128.3 280L133.4 286.7M139.2 279.5L133.4 286.7M139.2 279.5L146.1 268.9M139.2 279.5L148.8 281.9M139.2 279.5L142.6 291.1M85.2 290.7L97.2 287.4M97.2 287.4L109.7 290.7M109.7 290.7L123.3 290.9M123.3 290.9L134 295.3M123.3 290.9L133.4 286.7M134 295.3L133.4 286.7M134 295.3L142.6 291.1M133.4 286.7L142.6 291.1M147.5 248.9L158.5 248.9M147.5 248.9L143.5 257.5M147.5 248.9L153 257.8M158.5 248.9L169.9 249M158.5 248.9L153 257.8M158.5 248.9L163.9 257.8M169.9 249L180 249.8M169.9 249L163.9 257.8M169.9 249L173.8 257M180 249.8L189.9 255M180 249.8L173.8 257M180 249.8L181.6 261.7M189.9 255L198.5 249M189.9 255L181.6 261.7M189.9 255L194.2 268.7M189.9 255L202.5 260.1M198.5 249L208.8 251.1M198.5 249L202.5 260.1M143.5 257.5L153 257.8M143.5 257.5L146.1 268.9M153 257.8L163.9 257.8M153 257.8L146.1 268.9M153 257.8L158.5 265.9M163.9 257.8L173.8 257M163.9 257.8L158.5 265.9M163.9 257.8L170 268.7M173.8 257L181.6 261.7M173.8 257L170 268.7M181.6 261.7L170 268.7M181.6 261.7L182.7 272.4M181.6 261.7L194.2 268.7M146.1 268.9L158.5 265.9M146.1 268.9L158 276.3M146.1 268.9L148.8 281.9M158.5 265.9L170 268.7M158.5 265.9L158 276.3M170 268.7L182.7 272.4M170 268.7L158 276.3M170 268.7L166.9 281.7M170 268.7L177.3 280.8M182.7 272.4L194.2 268.7M182.7 272.4L177.3 280.8M182.7 272.4L189.2 280.5M194.2 268.7L189.2 280.5M194.2 268.7L202.5 260.1M194.2 268.7L207.2 270.9M194.2 268.7L201.5 280.3M158 276.3L148.8 281.9M158 276.3L166.9 281.7M158 276.3L158 290.1M148.8 281.9L142.6 291.1M148.8 281.9L158 290.1M166.9 281.7L177.3 280.8M166.9 281.7L158 290.1M166.9 281.7L171 291.1M177.3 280.8L189.2 280.5M177.3 280.8L171 291.1M177.3 280.8L183.2 290.9M189.2 280.5L183.2 290.9M189.2 280.5L195.1 290.9M189.2 280.5L201.5 280.3M142.6 291.1L158 290.1M158 290.1L171 291.1M171 291.1L183.2 290.9M183.2 290.9L195.1 290.9M195.1 290.9L201.5 280.3M195.1 290.9L207.5 290.7M208.8 251.1L220.1 253.8M208.8 251.1L202.5 260.1M208.8 251.1L211.8 260.9M220.1 253.8L232.8 251.3M220.1 253.8L211.8 260.9M220.1 253.8L229 261.2M220.1 253.8L220.1 271.1M232.8 251.3L244.5 251.3M232.8 251.3L229 261.2M232.8 251.3L238.3 260.9M244.5 251.3L256.8 254.8M244.5 251.3L238.3 260.9M244.5 251.3L248.2 261.4M256.8 254.8L248.2 261.4M256.8 254.8L256.8 271.4M256.8 254.8L269 251.5M256.8 254.8L265.1 261.4M202.5 260.1L211.8 260.9M202.5 260.1L207.2 270.9M211.8 260.9L207.2 270.9M211.8 260.9L220.1 271.1M229 261.2L238.3 260.9M229 261.2L220.1 271.1M229 261.2L232.8 271.4M238.3 260.9L248.2 261.4M238.3 260.9L232.8 271.4M238.3 260.9L244 271.2M248.2 261.4L244 271.2M248.2 261.4L256.8 271.4M207.2 270.9L220.1 271.1M207.2 270.9L201.5 280.3M207.2 270.9L211.5 280M220.1 271.1L232.8 271.4M220.1 271.1L211.5 280M220.1 271.1L228.6 280.3M220.1 271.1L220.1 287.4M232.8 271.4L244 271.2M232.8 271.4L228.6 280.3M232.8 271.4L238.5 280.5M244 271.2L256.8 271.4M244 271.2L238.5 280.5M244 271.2L248.2 280.3M256.8 271.4L248.2 280.3M256.8 271.4L256.8 287.2M256.8 271.4L265.1 261.4M256.8 271.4L270 271.4M256.8 271.4L265.5 280.4M201.5 280.3L211.5 280M201.5 280.3L207.5 290.7M211.5 280L207.5 290.7M211.5 280L220.1 287.4M228.6 280.3L238.5 280.5M228.6 280.3L220.1 287.4M228.6 280.3L232.3 290.7M238.5 280.5L248.2 280.3M238.5 280.5L232.3 290.7M238.5 280.5L244.7 290.7M248.2 280.3L244.7 290.7M248.2 280.3L256.8 287.2M207.5 290.7L220.1 287.4M220.1 287.4L232.3 290.7M232.3 290.7L244.7 290.7M244.7 290.7L256.8 287.2M256.8 287.2L265.5 280.4M256.8 287.2L269 290.8M269 251.5L280 251.1M269 251.5L265.1 261.4M269 251.5L274.4 261.2M280 251.1L289.8 255.5M280 251.1L274.4 261.2M280 251.1L283.8 262M299.6 250.1L314.2 250.1M299.6 250.1L289.8 255.5M299.6 250.1L297.7 262.2M299.6 250.1L308 258.5M314.2 250.1L308 258.5M314.2 250.1L316.9 259M289.8 255.5L283.8 262M289.8 255.5L297.7 262.2M265.1 261.4L274.4 261.2M265.1 261.4L270 271.4M274.4 261.2L283.8 262M274.4 261.2L270 271.4M274.4 261.2L280 271.4M283.8 262L297.7 262.2M283.8 262L280 271.4M283.8 262L290.9 272.2M297.7 262.2L308 258.5M297.7 262.2L290.9 272.2M297.7 262.2L311.9 270.6M297.7 262.2L301.1 275.2M308 258.5L316.9 259M308 258.5L311.9 270.6M316.9 259L311.9 270.6M270 271.4L280 271.4M270 271.4L265.5 280.4M270 271.4L274.9 280.6M280 271.4L290.9 272.2M280 271.4L274.9 280.6M280 271.4L283.9 280.3M290.9 272.2L301.1 275.2M290.9 272.2L283.9 280.3M290.9 272.2L290.8 286M311.9 270.6L301.1 275.2M311.9 270.6L306.7 283.5M311.9 270.6L316.5 282.5M301.1 275.2L290.8 286M301.1 275.2L306.7 283.5M265.5 280.4L274.9 280.6M265.5 280.4L269 290.8M274.9 280.6L283.9 280.3M274.9 280.6L269 290.8M274.9 280.6L280.7 290.8M283.9 280.3L290.8 286M283.9 280.3L280.7 290.8M290.8 286L306.7 283.5M290.8 286L280.7 290.8M290.8 286L299.8 291.5M306.7 283.5L316.5 282.5M306.7 283.5L299.8 291.5M306.7 283.5L314.1 291M316.5 282.5L314.1 291M269 290.8L280.7 290.8M299.8 291.5L314.1 291" fill="none" stroke="#000" stroke-width="1.0" stroke-linecap="round"/></g>
<rect x="17.2" y="240.14" width="306.8" height="61.36" fill="none" stroke="#000" stroke-width="0.5"/></g>
<g><clipPath id="c675"><rect x="373.7" y="240.14" width="306.8" height="61.36"/></clipPath><g clip-path="url(#c675)">
<rect x="373.7" y="240.1" width="306.8" height="61.4" fill="#000084"/>
<path d="M373.7 240.1L373.7 301.5L680.5 301.5L680.5 240.1Z" fill="#00008c"/>
<path d="M373.7 240.1L373.7 301.5L680.5 301.5L680.5 240.1Z" fill="#000094"/>
<path d="M373.7 240.1L373.7 301.5L680.5 301.5L680.5 240.1Z" fill="#00009c"/>
<path d="M373.7 240.1L373.7 301.5L680.5 301.5L680.5 240.1Z" fill="#0000a4"/>
<path d="M583.3 240.1L582.6 240.5L582.2 240.4L582 240.1L373.7 240.1L373.7 301.5L680.5 301.5L680.5 240.1Z" fill="#0000ac"/>
<path d="M584.7 240.1L582.9 241.1L582 240.8L581.6 240.1L373.7 240.1L373.7 301.5L680.5 301.5L680.5 240.1Z" fill="#0000b4"/>
<path d="M586.2 240.1L583.3 241.7L581.9 241.2L581.1 240.1L373.7 240.1L373.7 301.5L680.5 301.5L680.5 240.1Z" fill="#0000bc"/>
<path d="M587.7 240.1L583.6 242.2L581.7 241.6L580.7 240.1L373.7 240.1L373.7 301.5L680.5 301.5L680.5 240.1Z" fill="#0000c3"/>
<path d="M589.1 240.1L584 242.8L581.5 242L580.2 240.1L373.7 240.1L373.7 301.5L680.5 301.5L680.5 240.1Z" fill="#0000cb"/>
<path d="M590.6 240.1L584.4 243.4L581.4 242.4L579.8 240.1L373.7 240.1L373.7 301.5L680.5 301.5L680.5 240.1Z" fill="#0000d3"/>
<path d="M592 240.1L584.7 244L581.2 242.8L579.3 240.1L373.7 240.1L373.7 301.5L680.5 301.5L680.5 240.1Z" fill="#0000db"/>
<path d="M593.5 240.1L585.1 244.5L581 243.2L578.8 240.1L373.7 240.1L373.7 301.5L680.5 301.5L680.5 240.1Z" fill="#0000e3"/>
<path d="M594.7 240.1L594.7 240.2L594.5 240.4L585.4 245.1L580.9 243.6L578.4 240.1L373.7 240.1L373.7 301.5L680.5 301.5L680.5 240.1Z" fill="#0000eb"/>
<path d="M595.1 240.1L594.9 240.6L594 241.4L585.8 245.7L580.7 244L577.9 240.1L373.7 240.1L373.7 301.5L680.5 301.5L680.5 240.1Z" fill="#0000f3"/>
<path d="M595.4 240.1L595.1 241L593.5 242.4L586.1 246.2L580.5 244.4L577.5 240.1L373.7 240.1L373.7 301.5L680.5 301.5L680.5 240.1Z" fill="#0000fb"/>
<path d="M595.8 240.1L595.3 241.3L593 243.4L586.5 246.8L580.4 244.8L577 240.1L373.7 240.1L373.7 301.5L680.5 301.5L680.5 240.1Z" fill="#0004ff"/>
<path d="M596.2 240.1L595.5 241.7L592.6 244.4L586.9 247.4L580.2 245.2L576.6 240.1L373.7 240.1L373.7 301.5L680.5 301.5L680.5 240.1Z" fill="#000cff"/>
<path d="M596.5 240.1L595.7 242.1L592.1 245.4L587.2 248L580 245.6L576.1 240.1L373.7 240.1L373.7 301.5L680.5 301.5L680.5 240.1Z" fill="#0014ff"/>
<path d="M596.9 240.1L595.9 242.4L591.6 246.4L587.6 248.5L579.9 246L575.7 240.1L373.7 240.1L373.7 301.5L680.5 301.5L680.5 240.1Z" fill="#001cff"/>
<path d="M597.2 240.1L596.1 242.8L591.1 247.5L587.9 249.1L579.7 246.4L575.2 240.1L373.7 240.1L373.7 301.5L680.5 301.5L680.5 240.1Z" fill="#0024ff"/>
<path d="M597.6 240.1L596.3 243.2L590.7 248.5L588.3 249.7L579.5 246.8L574.7 240.1L373.7 240.1L373.7 301.5L680.5 301.5L680.5 240.1Z" fill="#002cff"/>
<path d="M598 240.1L596.5 243.5L590.2 249.5L588.7 250.3L579.4 247.2L574.3 240.1L373.7 240.1L373.7 301.5L680.5 301.5L680.5 240.1Z" fill="#0034ff"/>
<path d="M598.3 240.1L596.7 243.9L589.7 250.5L589 250.8L579.2 247.6L573.8 240.1L373.7 240.1L373.7 301.5L680.5 301.5L680.5 240.1Z" fill="#003cff"/>
<path d="M598.7 240.1L597 244.3L589.4 251.3L589.3 251.4L589.3 251.4L589.2 251.3L579 248L573.4 240.1L373.7 240.1L373.7 301.5L680.5 301.5L680.5 240.1Z" fill="#0044ff"/>
<path d="M599.1 240.1L597.2 244.6L590 251.3L589.5 251.6L589.2 251.7L588.3 251.5L578.8 248.4L572.9 240.1L373.7 240.1L373.7 301.5L680.5 301.5L680.5 240.1Z" fill="#004cff"/>
<path d="M599.4 240.1L597.4 245L590.6 251.3L589.6 251.9L589.1 252L587.4 251.7L578.7 248.8L572.5 240.1L373.7 240.1L373.7 301.5L680.5 301.5L680.5 240.1Z" fill="#0054ff"/>
<path d="M599.8 240.1L597.6 245.4L591.2 251.3L589.8 252.1L588.9 252.3L586.6 251.8L578.5 249.2L572 240.1L373.7 240.1L373.7 301.5L680.5 301.5L680.5 240.1Z" fill="#005cff"/>
<path d="M600.2 240.1L597.8 245.7L591.8 251.3L589.9 252.4L588.8 252.6L585.7 252L578.3 249.6L571.6 240.1L373.7 240.1L373.7 301.5L680.5 301.5L680.5 240.1Z" fill="#0064ff"/>
<path d="M600.5 240.1L598 246.1L592.4 251.3L590.1 252.7L588.7 252.9L584.9 252.2L578.2 250L571.1 240.1L373.7 240.1L373.7 301.5L680.5 301.5L680.5 240.1Z" fill="#006cff"/>
<path d="M600.9 240.1L598.2 246.5L593 251.3L590.2 252.9L588.6 253.2L584 252.4L578 250.4L570.7 240.1L373.7 240.1L373.7 301.5L680.5 301.5L680.5 240.1Z" fill="#0074ff"/>
<path d="M601.3 240.1L598.4 246.8L593.7 251.3L590.4 253.2L588.5 253.5L583.1 252.5L577.8 250.8L570.2 240.1L373.7 240.1L373.7 301.5L680.5 301.5L680.5 240.1Z" fill="#007cff"/>
<path d="M601.6 240.1L598.6 247.2L594.3 251.3L590.5 253.5L588.3 253.8L582.3 252.7L577.7 251.2L570.7 241.4L569.9 240.4L569.8 240.1L373.7 240.1L373.7 301.5L680.5 301.5L680.5 240.1Z" fill="#0083ff"/>
<path d="M602 240.1L598.8 247.6L594.9 251.3L590.7 253.7L588.2 254.2L581.4 252.9L577.5 251.6L571.6 243.3L569.7 240.9L569.4 240.1L373.7 240.1L373.7 301.5L680.5 301.5L680.5 240.1Z" fill="#008bff"/>
<path d="M602.4 240.1L599.1 247.9L595.5 251.3L590.8 254L588.1 254.5L580.5 253L577.3 252L572.4 245.2L569.5 241.3L569.1 240.1L373.7 240.1L373.7 301.5L680.5 301.5L680.5 240.1Z" fill="#0093ff"/>
<path d="M602.7 240.1L599.3 248.3L596.1 251.3L591 254.3L588 254.8L579.7 253.2L577.2 252.4L573.3 247L569.3 241.8L568.7 240.1L373.7 240.1L373.7 301.5L680.5 301.5L680.5 240.1Z" fill="#009bff"/>
<path d="M603.1 240.1L599.5 248.7L596.7 251.3L591.1 254.5L587.9 255.1L578.8 253.4L577 252.8L574.2 248.9L569.2 242.2L568.4 240.1L373.7 240.1L373.7 301.5L680.5 301.5L680.5 240.1Z" fill="#00a3ff"/>
<path d="M603.5 240.1L599.7 249.1L597.3 251.3L591.3 254.8L587.8 255.4L577.9 253.5L576.8 253.2L575.1 250.8L569 242.6L568 240.1L373.7 240.1L373.7 301.5L680.5 301.5L680.5 240.1Z" fill="#00abff"/>
<path d="M603.8 240.1L599.9 249.4L597.9 251.3L591.4 255L587.6 255.7L577.1 253.7L576.7 253.6L576 252.7L568.8 243.1L567.6 240.1L373.7 240.1L373.7 301.5L680.5 301.5L680.5 240.1Z" fill="#00b3ff"/>
<path d="M604.2 240.1L600.1 249.8L598.5 251.3L591.6 255.3L587.5 256L576.8 254L576.6 254L576.5 253.9L576.3 253.8L568.6 243.5L567.3 240.1L373.7 240.1L373.7 301.5L680.5 301.5L680.5 240.1Z" fill="#00bbff"/>
<path d="M604.6 240.1L600.3 250.2L599.1 251.3L591.7 255.6L587.4 256.3L577.3 254.4L576.6 254.3L576.2 254.1L575.7 253.6L568.4 243.9L566.9 240.1L373.7 240.1L373.7 301.5L680.5 301.5L680.5 240.1Z" fill="#00c3ff"/>
<path d="M604.9 240.1L600.5 250.5L599.7 251.3L591.9 255.8L587.3 256.6L577.8 254.8L576.6 254.7L575.9 254.3L575 253.5L568.2 244.4L566.5 240.1L373.7 240.1L373.7 301.5L680.5 301.5L680.5 240.1Z" fill="#00cbff"/>
<path d="M605.3 240.1L600.7 250.9L600.3 251.3L592 256.1L587.2 256.9L578.3 255.3L576.6 255.1L575.7 254.6L574.4 253.3L568 244.8L566.2 240.1L373.7 240.1L373.7 301.5L680.5 301.5L680.5 240.1Z" fill="#00d3ff"/>
<path d="M605.7 240.1L600.9 251.3L600.9 251.3L592.2 256.4L587 257.3L578.8 255.7L576.6 255.5L575.4 254.8L573.8 253.1L567.8 245.3L565.8 240.1L373.7 240.1L373.7 301.5L680.5 301.5L680.5 240.1Z" fill="#00dbff"/>
<path d="M606 240.1L602.6 248.3L601.2 251.4L601.1 251.5L600.7 251.8L592.3 256.6L586.9 257.6L579.4 256.1L576.6 255.8L575.2 255L573.1 253L567.6 245.7L565.5 240.1L373.7 240.1L373.7 301.5L680.5 301.5L680.5 240.1Z" fill="#00e3ff"/>
<path d="M606.4 240.1L604.4 244.8L601.5 251.5L601.2 251.8L600.3 252.3L592.5 256.9L586.8 257.9L579.9 256.6L576.6 256.2L574.9 255.2L572.5 252.8L567.4 246.1L565.1 240.1L373.7 240.1L373.7 301.5L680.5 301.5L680.5 240.1Z" fill="#00ebff"/>
<path d="M606.8 240.1L606.3 241.3L601.8 251.5L601.3 252.1L600 252.9L592.6 257.1L586.7 258.2L580.4 257L576.6 256.6L574.7 255.4L571.8 252.7L567.2 246.6L564.7 240.1L373.7 240.1L373.7 301.5L680.5 301.5L680.5 240.1Z" fill="#00f3ff"/>
<path d="M607.1 240.1L607 240.4L602.1 251.6L601.4 252.3L599.6 253.5L592.8 257.4L586.6 258.5L580.9 257.4L576.6 256.9L574.4 255.7L571.2 252.5L567 247L564.4 240.1L373.7 240.1L373.7 301.5L680.5 301.5L680.5 240.1Z" fill="#00fbff"/>
<path d="M607.4 240.1L607.1 240.8L602.4 251.7L601.5 252.6L599.2 254L592.9 257.7L586.5 258.8L581.4 257.9L576.6 257.3L574.2 255.9L570.6 252.4L566.9 247.4L564 240.1L373.7 240.1L373.7 301.5L680.5 301.5L680.5 240.1Z" fill="#04fffb"/>
<path d="M607.6 240.1L607.3 241.1L602.7 251.8L601.5 252.9L598.9 254.6L593.1 257.9L586.3 259.1L581.9 258.3L576.6 257.7L573.9 256.1L569.9 252.2L566.7 247.9L563.6 240.1L373.7 240.1L373.7 301.5L680.5 301.5L680.5 240.1Z" fill="#0cfff3"/>
<path d="M607.9 240.1L607.5 241.5L602.9 251.9L601.6 253.2L598.5 255.1L593.2 258.2L586.2 259.4L582.5 258.7L576.6 258.1L573.6 256.3L569.3 252L566.5 248.3L563.3 240.1L373.7 240.1L373.7 301.5L680.5 301.5L680.5 240.1Z" fill="#14ffeb"/>
<path d="M608.2 240.1L607.6 241.9L603.2 251.9L601.7 253.4L598.2 255.7L593.4 258.5L586.1 259.7L583 259.1L576.6 258.4L573.4 256.5L568.6 251.9L566.3 248.8L562.9 240.1L373.7 240.1L373.7 301.5L680.5 301.5L680.5 240.1Z" fill="#1cffe3"/>
<path d="M608.5 240.1L607.8 242.2L603.5 252L601.8 253.7L597.8 256.3L593.5 258.7L586 260L583.5 259.6L576.6 258.8L573.1 256.8L568 251.7L566.1 249.2L562.6 240.1L373.7 240.1L373.7 301.5L680.5 301.5L680.5 240.1Z" fill="#24ffdb"/>
<path d="M608.8 240.1L607.9 242.6L603.8 252.1L601.9 254L597.4 256.8L593.7 259L585.9 260.4L584 260L576.6 259.2L572.9 257L567.4 251.6L565.9 249.6L562.2 240.1L373.7 240.1L373.7 301.5L680.5 301.5L680.5 240.1Z" fill="#2cffd3"/>
<path d="M609.1 240.1L608.1 243L604.1 252.2L602 254.2L597.1 257.4L593.8 259.3L585.7 260.7L584.5 260.4L576.6 259.6L572.6 257.2L566.7 251.4L565.7 250.1L561.8 240.1L373.7 240.1L373.7 301.5L680.5 301.5L680.5 240.1Z" fill="#34ffcb"/>
<path d="M609.4 240.1L608.3 243.3L604.4 252.3L602.1 254.5L596.7 257.9L594 259.5L585.6 261L585.1 260.9L576.6 259.9L572.4 257.4L566.1 251.3L565.5 250.5L561.5 240.1L373.7 240.1L373.7 301.5L680.5 301.5L680.5 240.1Z" fill="#3cffc3"/>
<path d="M609.7 240.1L608.4 243.7L604.7 252.4L602.2 254.8L596.4 258.5L594.1 259.8L585.8 261.2L585.5 261.3L585.5 261.3L576.6 260.3L572.1 257.6L565.4 251.1L565.3 250.9L561.1 240.1L373.7 240.1L373.7 301.5L680.5 301.5L680.5 240.1Z" fill="#44ffbb"/>
<path d="M610 240.1L608.6 244.1L604.9 252.4L602.3 255L596 259L594.3 260L587.8 261.2L585.7 261.6L585.2 261.6L576.6 260.7L571.9 257.9L565.4 251.5L565.1 251.3L564.9 251L564.7 250.2L560.7 240.1L373.7 240.1L373.7 301.5L680.5 301.5L680.5 240.1Z" fill="#4cffb3"/>
<path d="M610.3 240.1L608.8 244.4L605.2 252.5L602.4 255.3L595.6 259.6L594.4 260.3L589.9 261.1L585.8 262L584.9 262L576.6 261L571.6 258.1L565.6 252.2L564.9 251.6L564.5 250.9L563.8 248.9L560.4 240.1L373.7 240.1L373.7 301.5L680.5 301.5L680.5 240.1Z" fill="#54ffab"/>
<path d="M610.5 240.1L608.9 244.8L605.5 252.6L602.5 255.6L595.3 260.2L594.6 260.6L591.9 261L585.9 262.3L584.6 262.3L576.6 261.4L571.4 258.3L565.8 252.9L564.7 251.9L564 250.8L563 247.7L560 240.1L373.7 240.1L373.7 301.5L680.5 301.5L680.5 240.1Z" fill="#5cffa3"/>
<path d="M610.8 240.1L609.1 245.2L605.8 252.7L602.6 255.8L594.9 260.7L594.7 260.8L594 261L586 262.6L584.2 262.6L576.6 261.8L571.1 258.5L566 253.5L564.5 252.2L563.5 250.7L562.1 246.5L559.7 240.1L373.7 240.1L373.7 301.5L680.5 301.5L680.5 240.1Z" fill="#64ff9b"/>
<path d="M611.1 240.1L609.2 245.5L606.1 252.8L602.7 256.1L595.1 261L594.9 261.1L594.7 261.2L586.2 263L583.9 263L576.6 262.2L570.8 258.7L566.2 254.2L564.3 252.5L563.1 250.6L561.3 245.3L559.3 240.1L373.7 240.1L373.7 301.5L680.5 301.5L680.5 240.1Z" fill="#6cff93"/>
<path d="M611.4 240.1L609.4 245.9L606.4 252.8L602.8 256.4L595.6 261L595.1 261.4L594.4 261.6L586.3 263.3L583.6 263.3L576.6 262.5L570.6 259L566.4 254.9L564.1 252.8L562.6 250.5L560.5 244L558.9 240.1L373.7 240.1L373.7 301.5L680.5 301.5L680.5 240.1Z" fill="#74ff8b"/>
<path d="M611.7 240.1L609.6 246.3L606.7 252.9L602.9 256.6L596 261L595.2 261.8L594.2 262L586.4 263.7L583.3 263.7L576.6 262.9L570.3 259.2L566.6 255.6L563.9 253.1L562.1 250.4L559.6 242.8L558.6 240.1L373.7 240.1L373.7 301.5L680.5 301.5L680.5 240.1Z" fill="#7cff83"/>
<path d="M612 240.1L609.7 246.6L606.9 253L603 256.9L596.5 261L595.4 262.1L594 262.4L586.5 264L583 264L576.6 263.3L570.1 259.4L566.8 256.2L563.7 253.4L561.7 250.4L558.8 241.6L558.2 240.1L373.7 240.1L373.7 301.5L680.5 301.5L680.5 240.1Z" fill="#83ff7c"/>
<path d="M612.3 240.1L609.9 247L607.2 253.1L603.1 257.2L597 261.1L595.6 262.4L593.8 262.8L586.7 264.3L582.7 264.3L576.6 263.6L569.8 259.6L567 256.9L563.5 253.7L561.2 250.3L557.9 240.4L557.8 240.1L373.7 240.1L373.7 301.5L680.5 301.5L680.5 240.1Z" fill="#8bff74"/>
<path d="M612.6 240.1L610 247.4L607.5 253.2L603.2 257.4L597.5 261.1L595.8 262.7L593.6 263.2L586.8 264.7L582.4 264.7L576.6 264L569.6 259.8L567.2 257.6L563.2 254L560.7 250.2L557.6 240.7L557.4 240.1L373.7 240.1L373.7 301.5L680.5 301.5L680.5 240.1Z" fill="#93ff6c"/>
<path d="M612.9 240.1L610.2 247.7L607.8 253.2L603.3 257.7L598 261.1L595.9 263L593.4 263.7L586.9 265L582.1 265L576.6 264.4L569.3 260.1L567.4 258.2L563 254.3L560.3 250.1L557.4 241.4L557 240.1L373.7 240.1L373.7 301.5L680.5 301.5L680.5 240.1Z" fill="#9bff64"/>
<path d="M613.2 240.1L610.4 248.1L608.1 253.3L603.4 258L598.5 261.1L596.1 263.3L593.1 264.1L587.1 265.4L581.8 265.3L576.6 264.8L569.1 260.3L567.7 258.9L562.8 254.6L559.8 250L557.2 242L556.6 240.1L373.7 240.1L373.7 301.5L680.5 301.5L680.5 240.1Z" fill="#a3ff5c"/>
<path d="M613.4 240.1L610.5 248.5L608.4 253.4L603.5 258.3L598.9 261.1L596.3 263.7L592.9 264.5L587.2 265.7L581.5 265.7L576.6 265.1L568.8 260.5L567.9 259.6L562.6 254.9L559.4 249.9L557 242.7L556.2 240.1L373.7 240.1L373.7 301.5L680.5 301.5L680.5 240.1Z" fill="#abff54"/>
<path d="M613.7 240.1L610.7 248.8L608.7 253.5L603.6 258.5L599.4 261.2L596.5 264L592.7 264.9L587.3 266L581.2 266L576.6 265.5L568.5 260.7L568.1 260.2L562.4 255.2L558.9 249.8L556.8 243.4L555.7 240.1L373.7 240.1L373.7 301.5L680.5 301.5L680.5 240.1Z" fill="#b3ff4c"/>
<path d="M614 240.1L610.9 249.2L608.9 253.6L603.7 258.8L599.9 261.2L596.6 264.3L592.5 265.3L587.4 266.4L580.9 266.4L576.6 265.9L568.3 260.9L568.3 260.9L562.2 255.5L558.4 249.7L556.5 244L555.3 240.1L373.7 240.1L373.7 301.5L680.5 301.5L680.5 240.1Z" fill="#bbff44"/>
<path d="M614.3 240.1L611 249.6L609.2 253.6L603.8 259.1L600.4 261.2L596.8 264.6L592.3 265.7L587.6 266.7L580.5 266.7L576.6 266.2L568.8 261.6L568.1 261.3L567.7 260.9L562 255.8L558 249.6L556.3 244.7L554.9 240.1L373.7 240.1L373.7 301.5L680.5 301.5L680.5 240.1Z" fill="#c3ff3c"/>
<path d="M614.6 240.1L611.2 249.9L609.5 253.7L603.9 259.3L600.9 261.2L597 264.9L592.1 266.1L587.7 267L580.2 267L576.6 266.6L569.4 262.4L567.9 261.8L567.1 260.8L561.8 256.1L557.5 249.5L556.1 245.4L554.5 240.1L373.7 240.1L373.7 301.5L680.5 301.5L680.5 240.1Z" fill="#cbff34"/>
<path d="M614.9 240.1L611.3 250.3L609.8 253.8L604 259.6L601.4 261.3L597.2 265.2L591.9 266.5L587.8 267.4L579.9 267.4L576.6 267L570 263.1L567.7 262.2L566.5 260.8L561.6 256.4L557 249.4L555.9 246.1L554 240.1L373.7 240.1L373.7 301.5L680.5 301.5L680.5 240.1Z" fill="#d3ff2c"/>
<path d="M615.2 240.1L611.5 250.7L610.1 253.9L604.1 259.9L601.8 261.3L597.3 265.6L591.6 266.9L587.9 267.7L579.6 267.7L576.6 267.4L570.6 263.8L567.5 262.6L565.9 260.7L561.4 256.7L556.6 249.4L555.7 246.7L553.6 240.1L373.7 240.1L373.7 301.5L680.5 301.5L680.5 240.1Z" fill="#dbff24"/>
<path d="M615.5 240.1L611.7 251L610.4 254L604.2 260.1L602.3 261.3L597.5 265.9L591.4 267.4L588.1 268.1L579.3 268L576.6 267.7L571.2 264.5L567.3 263L565.3 260.7L561.2 257L556.1 249.3L555.5 247.4L553.2 240.1L373.7 240.1L373.7 301.5L680.5 301.5L680.5 240.1Z" fill="#e3ff1c"/>
<path d="M615.8 240.1L611.8 251.4L610.7 254.1L604.3 260.4L602.8 261.3L597.7 266.2L591.2 267.8L588.2 268.4L579 268.4L576.6 268.1L571.8 265.3L567.1 263.5L564.7 260.6L561 257.3L555.6 249.2L555.3 248.1L552.8 240.1L373.7 240.1L373.7 301.5L680.5 301.5L680.5 240.1Z" fill="#ebff14"/>
<path d="M616.1 240.1L612 251.8L611 254.1L604.4 260.7L603.3 261.4L597.9 266.5L591 268.2L588.3 268.7L578.7 268.7L576.6 268.5L572.4 266L566.9 263.9L564.1 260.6L560.8 257.6L555.2 249.1L555.1 248.7L552.4 240.1L373.7 240.1L373.7 301.5L680.5 301.5L680.5 240.1Z" fill="#f3ff0c"/>
<path d="M616.3 240.1L612.1 252.1L611.2 254.2L604.5 260.9L603.8 261.4L598.1 266.8L590.8 268.6L588.5 269.1L578.4 269.1L576.6 268.9L573 266.7L566.7 264.3L563.5 260.5L560.6 257.9L555.2 249.8L554.7 249.2L554.6 248.7L551.9 240.1L373.7 240.1L373.7 301.5L680.5 301.5L680.5 240.1Z" fill="#fbff04"/>
<path d="M616.6 240.1L612.3 252.5L611.5 254.3L604.6 261.2L604.3 261.4L598.2 267.1L590.6 269L588.6 269.4L578.1 269.4L576.6 269.2L573.6 267.5L566.5 264.7L562.9 260.5L560.3 258.2L555.7 251.2L554.3 249.5L554 248.2L551.5 240.1L373.7 240.1L373.7 301.5L680.5 301.5L680.5 240.1Z" fill="#fffb00"/>
<path d="M616.9 240.1L612.5 252.9L611.8 254.4L604.9 261.2L604.7 261.5L604.6 261.6L598.4 267.4L590.3 269.4L588.7 269.8L577.8 269.7L576.6 269.6L574.2 268.2L566.3 265.2L562.3 260.4L560.1 258.5L556.2 252.6L553.9 249.7L553.4 247.6L551.1 240.1L373.7 240.1L373.7 301.5L680.5 301.5L680.5 240.1Z" fill="#fff300"/>
<path d="M617.2 240.1L612.6 253.2L612.1 254.5L606.5 260L605 261.8L604.3 262.4L598.6 267.8L590.1 269.8L588.8 270.1L577.5 270.1L576.6 270L574.8 268.9L566.1 265.6L561.7 260.4L559.9 258.8L556.8 254L553.5 250L552.8 247L550.7 240.1L373.7 240.1L373.7 301.5L680.5 301.5L680.5 240.1Z" fill="#ffeb00"/>
<path d="M617.5 240.1L612.8 253.6L612.4 254.5L608.1 258.8L605.3 262.2L603.9 263.2L598.8 268.1L589.9 270.2L589 270.4L577.2 270.4L576.6 270.3L575.4 269.6L565.9 266L561.1 260.3L559.7 259.1L557.3 255.3L553.1 250.3L552.2 246.5L550.2 240.1L373.7 240.1L373.7 301.5L680.5 301.5L680.5 240.1Z" fill="#ffe300"/>
<path d="M617.8 240.1L612.9 254L612.7 254.6L609.7 257.6L605.6 262.5L603.6 264L598.9 268.4L589.7 270.6L589.1 270.8L576.8 270.7L576.6 270.7L576 270.4L565.7 266.4L560.5 260.3L559.5 259.4L557.8 256.7L552.7 250.6L551.6 245.9L549.8 240.1L373.7 240.1L373.7 301.5L680.5 301.5L680.5 240.1Z" fill="#ffdb00"/>
<path d="M618.1 240.1L613.1 254.3L613 254.7L611.3 256.3L605.9 262.8L603.2 264.8L599.1 268.7L589.5 271.1L589.2 271.1L577.4 271.1L576.6 271.1L576.5 271.1L565.5 266.9L559.9 260.2L559.3 259.7L558.3 258.1L552.3 250.9L551 245.3L549.4 240.1L373.7 240.1L373.7 301.5L680.5 301.5L680.5 240.1Z" fill="#ffd300"/>
<path d="M679.3 301.5L679.3 300.2L679.3 289.4L679.3 288.1L679.3 277.9L679.2 276.3L679.2 265.3L679.2 263.7L679.2 253.6L679.2 252.1L679.2 241.5L679.2 240.1L618.4 240.1L613.3 254.7L613.2 254.8L612.9 255.1L606.2 263.2L602.9 265.6L599.3 269L589.7 271.4L589.4 271.5L589.3 271.5L576.9 271.5L576.6 271.6L576.2 271.4L575.1 271L565.3 267.3L559.3 260.2L559.1 260L558.8 259.5L551.9 251.1L550.4 244.8L549 240.1L373.7 240.1L373.7 301.5Z" fill="#ffcb00"/>
<path d="M677.9 301.5L677.9 298.7L677.9 289.7L677.8 286.9L677.8 278.9L677.8 275.6L677.8 266L677.7 262.5L677.7 255L677.7 251.8L677.7 243L677.7 240.1L618.7 240.1L615.1 250.2L613.7 254.7L613.6 255L613.3 255.3L606.5 263.5L602.5 266.4L599.5 269.3L591.3 271.3L589.6 271.8L589.1 271.8L577.3 271.9L576.6 272.1L575.8 271.8L573.8 271L565.1 267.7L559.3 260.9L558.8 260.4L558.5 259.9L551.5 251.4L549.8 244.2L548.5 240.1L373.7 240.1L373.7 301.5Z" fill="#ffc300"/>
<path d="M676.6 301.5L676.5 297.2L676.5 290L676.4 285.6L676.4 280L676.4 274.8L676.4 266.7L676.3 261.3L676.3 256.3L676.3 251.4L676.3 244.4L676.3 240.1L619 240.1L617.6 244.1L614.2 254.6L613.9 255.3L613.3 256L606.7 263.8L602.2 267.3L599.6 269.7L592.8 271.3L589.8 272.2L588.9 272.2L577.7 272.3L576.6 272.6L575.5 272.2L572.4 271L564.9 268.1L559.9 262.2L558.4 260.8L557.6 259.5L551.1 251.7L549.2 243.6L548.1 240.1L373.7 240.1L373.7 301.5Z" fill="#ffbb00"/>
<path d="M675.2 301.5L675.1 295.7L675.1 290.2L675 284.3L675 281L675 274.1L675 267.4L674.8 260.2L674.8 257.7L674.8 251.1L674.8 245.9L674.8 240.1L619.3 240.1L619.2 240.3L614.8 254.4L614.2 255.5L613.3 256.7L607 264.2L601.8 268.1L599.8 270L594.4 271.3L590 272.5L588.7 272.6L578 272.6L576.6 273L575.1 272.5L571.1 271L564.8 268.5L560.5 263.5L558 261.2L556.6 259.2L550.7 252L548.6 243.1L547.7 240.1L373.7 240.1L373.7 301.5Z" fill="#ffb300"/>
<path d="M673.8 301.5L673.7 294.3L673.7 290.5L673.6 283.1L673.6 282.1L673.6 273.3L673.6 268.1L673.4 259.1L673.4 259L673.3 250.7L673.3 247.4L673.3 240.1L619.8 240.1L619.6 240.9L615.3 254.3L614.5 255.8L613.3 257.4L607.3 264.5L601.5 268.9L600 270.3L596 271.3L590.3 272.9L588.5 273L578.4 273L576.6 273.5L574.8 272.9L569.7 271L564.6 269L561.1 264.9L557.6 261.6L555.7 258.8L550.3 252.3L548 242.5L547.3 240.1L373.7 240.1L373.7 301.5Z" fill="#ffab00"/>
<path d="M672.4 301.5L672.3 292.8L672.3 290.7L672.2 285.3L672.2 282.6L672.1 280.4L672.1 272.6L672.1 268.8L672 262.3L672 259L671.9 253.9L671.9 250.3L671.9 248.9L671.8 240.1L620.3 240.1L619.9 241.4L615.8 254.1L614.8 256L613.3 258L607.6 264.8L601.1 269.7L600.2 270.6L597.6 271.2L590.5 273.2L588.4 273.4L578.7 273.4L576.6 274L574.4 273.3L568.4 270.9L564.4 269.4L561.6 266.2L557.2 262L554.7 258.4L549.9 252.5L547.4 241.9L546.9 240.1L373.7 240.1L373.7 301.5Z" fill="#ffa300"/>
<path d="M671.1 301.5L670.9 291.3L670.9 291L670.9 290.1L670.9 282.8L670.7 276.7L670.7 271.8L670.7 269.5L670.6 265.5L670.6 258.9L670.4 250.5L670.4 250.1L670.4 248.7L670.4 240.1L620.8 240.1L620.2 242L616.3 254L615.2 256.3L613.3 258.7L607.9 265.2L600.8 270.5L600.3 270.9L599.1 271.2L590.7 273.6L588.2 273.8L579.1 273.8L576.6 274.5L574.1 273.6L567 270.9L564.2 269.8L562.2 267.5L556.8 262.4L553.8 258L549.5 252.8L546.8 241.4L546.4 240.1L373.7 240.1L373.7 301.5Z" fill="#ff9b00"/>
<path d="M669.7 301.5L669.6 295.5L669.6 291L669.5 289.9L669.5 282.9L669.3 273L669.3 271.1L669.3 270.2L669.3 268.6L669.2 258.8L669.1 252.4L669.1 250.1L668.9 242.8L668.9 240.1L621.3 240.1L620.5 242.5L616.8 253.8L615.5 256.6L613.3 259.4L608.2 265.5L600.6 271.2L600.5 271.2L600.4 271.3L590.9 273.9L588 274.2L579.5 274.2L576.6 275L573.7 274L565.7 270.9L564 270.2L562.8 268.9L556.4 262.8L552.8 257.6L549.1 253.1L546.2 240.8L546 240.1L373.7 240.1L373.7 301.5Z" fill="#ff9300"/>
<path d="M668.3 301.5L668.3 301.1L668.3 291.1L668.2 288.6L668.2 283L667.9 271.8L667.9 270.3L667.9 269L667.8 258.7L667.7 254.2L667.7 250.1L667.5 240.8L667.5 240.1L621.8 240.1L620.8 243.1L617.4 253.7L615.8 256.8L613.3 260.1L608.5 265.8L601.3 271.2L600.7 271.7L600.2 271.8L591.1 274.3L587.8 274.6L579.8 274.6L576.6 275.5L573.4 274.3L564.3 270.9L563.8 270.7L563.4 270.2L556 263.2L551.9 257.2L548.7 253.4L545.6 240.2L545.6 240.1L373.7 240.1L373.7 301.5Z" fill="#ff8b00"/>
<path d="M667.1 301.5L667 300.5L667 291.1L666.8 287.2L666.8 283.2L666.7 275L666.6 271.4L666.6 269.5L666.4 264.5L666.4 258.7L666.3 256.1L666.3 250.1L666.1 241.9L666.1 240.1L622.3 240.1L621.1 243.6L617.9 253.6L616.1 257.1L613.3 260.8L608.8 266.2L602 271.2L600.9 272.1L599.9 272.3L591.4 274.6L587.6 275L580.2 275L576.6 276L573 274.7L563.8 271.2L563.5 271.1L563.2 270.8L555.6 263.6L550.9 256.9L548.3 253.6L545.6 242.3L545.1 240.6L545 240.1L373.7 240.1L373.7 301.5Z" fill="#ff8300"/>
<path d="M665.8 301.5L665.7 299.4L665.7 291.2L665.5 285.8L665.5 283.3L665.4 278.1L665.3 271.9L665.2 268.7L665 260.1L665 258.6L665 257.9L665 250.1L664.8 243L664.7 240.1L622.9 240.1L621.4 244.1L618.4 253.4L616.5 257.3L613.3 261.4L609.1 266.5L602.8 271.2L601.1 272.5L599.6 272.8L591.6 275L587.5 275.3L580.6 275.4L576.6 276.5L572.7 275.1L564.1 271.8L563.3 271.5L562.2 270.6L555.2 264L550 256.5L547.9 253.9L545.8 244.9L544.7 241.1L544.5 240.1L373.7 240.1L373.7 301.5Z" fill="#ff7c00"/>
<path d="M664.5 301.5L664.4 298.3L664.4 291.2L664.1 284.5L664.1 283.4L664.1 281.3L664 272.5L663.9 268L663.6 258.8L663.6 257.6L663.6 250.1L663.5 244.1L663.4 240.1L623.4 240.1L621.7 244.7L618.9 253.3L616.8 257.6L613.3 262.1L609.4 266.8L603.5 271.2L601.3 272.9L599.3 273.2L591.8 275.3L587.3 275.7L580.9 275.7L576.6 277L572.3 275.4L564.4 272.4L563 272L561.2 270.5L554.8 264.4L549 256.1L547.5 254.2L545.9 247.5L544.2 241.6L543.9 240.1L373.7 240.1L373.7 301.5Z" fill="#ff7400"/>
<path d="M663.2 301.5L663.1 297.2L663.1 291.3L662.8 284L662.8 283.6L662.8 282.9L662.7 273L662.6 267.2L662.3 259.3L662.2 256.3L662.2 250.1L662.1 245.2L662 240.1L623.9 240.1L622 245.2L619.5 253.1L617.1 257.8L613.3 262.8L609.6 267.2L604.2 271.2L601.5 273.3L599 273.7L592 275.7L587.1 276.1L581.3 276.1L576.6 277.5L572 275.8L564.7 273L562.8 272.4L560.2 270.3L554.4 264.8L548.1 255.7L547.1 254.5L546.1 250.2L543.7 242.1L543.3 240.1L373.7 240.1L373.7 301.5Z" fill="#ff6c00"/>
<path d="M661.9 301.5L661.8 296.1L661.8 291.3L661.6 285.4L661.6 283.8L661.4 280.9L661.4 273.6L661.3 266.4L661.1 259.8L660.9 254.9L660.9 250.1L660.8 246.3L660.6 240.1L624.4 240.1L622.3 245.8L620 253L617.4 258.1L613.3 263.5L609.9 267.5L604.9 271.3L601.6 273.7L598.7 274.2L592.2 276L586.9 276.5L581.6 276.5L576.6 277.9L571.7 276.1L565 273.6L562.5 272.8L559.2 270.1L554 265.3L547.2 255.3L546.7 254.8L546.2 252.8L543.3 242.6L542.7 240.1L373.7 240.1L373.7 301.5Z" fill="#ff6400"/>
<path d="M660.7 301.5L660.5 295L660.5 291.4L660.3 286.8L660.3 284L660.1 278.9L660 274.1L659.9 265.6L659.8 260.2L659.5 253.5L659.5 250.1L659.4 247.4L659.2 240.1L624.9 240.1L622.6 246.3L620.5 252.8L617.8 258.4L613.3 264.2L610.2 267.8L605.6 271.3L601.8 274.1L598.4 274.7L592.5 276.4L586.7 276.9L582 276.9L576.6 278.4L571.3 276.5L565.2 274.2L562.2 273.3L558.2 270L553.6 265.7L546.5 255.3L546.3 255.1L546.2 254.9L542.8 243.1L542.2 240.1L373.7 240.1L373.7 301.5Z" fill="#ff5c00"/>
<path d="M659.4 301.5L659.2 293.9L659.2 291.4L659.1 288.3L659 284.2L658.8 277L658.7 274.7L658.6 264.8L658.5 260.7L658.1 252.1L658.1 250.1L658.1 248.5L657.9 240.1L625.4 240.1L622.9 246.9L621 252.7L618.1 258.6L613.3 264.8L610.5 268.2L606.4 271.3L602 274.5L598.1 275.2L592.7 276.7L586.5 277.3L582.4 277.3L576.6 278.9L571 276.9L565.5 274.8L562 273.7L557.2 269.8L553.3 266.1L547 257.1L545.8 255.4L545.5 254.5L542.3 243.6L541.6 240.1L373.7 240.1L373.7 301.5Z" fill="#ff5400"/>
<path d="M658.1 301.5L657.9 292.8L657.9 291.4L657.8 289.7L657.8 284.4L657.4 275.3L657.4 275.1L657.4 274.6L657.3 264L657.2 261.1L656.8 250.7L656.8 250.1L656.8 249.6L656.5 240.1L625.9 240.1L623.2 247.4L621.5 252.6L618.4 258.9L613.3 265.5L610.8 268.5L607.1 271.3L602.2 274.9L597.8 275.7L592.9 277.1L586.4 277.7L582.7 277.7L576.6 279.4L570.6 277.2L565.8 275.4L561.7 274.1L556.2 269.6L552.9 266.5L547.6 258.9L545.4 255.8L544.8 254.2L541.8 244.1L541 240.1L373.7 240.1L373.7 301.5Z" fill="#ff4c00"/>
<path d="M656.8 301.5L656.6 291.8L656.6 291.5L656.6 291.2L656.5 284.6L656.2 276.6L656.2 274.8L656 269.1L655.9 263.2L655.9 261.6L655.6 253.7L655.5 250.4L655.5 249.6L655.2 240.1L626.4 240.1L623.5 248L622.1 252.4L618.7 259.1L613.3 266.2L611.1 268.8L607.8 271.3L602.4 275.3L597.5 276.2L593.1 277.4L586.2 278.1L583.1 278.1L576.6 279.9L570.3 277.6L566.1 276L561.5 274.5L555.2 269.5L552.5 266.9L548.1 260.6L544.9 256.2L544.1 253.8L541.4 244.6L540.4 240.1L373.7 240.1L373.7 301.5Z" fill="#ff4400"/>
<path d="M655.5 301.5L655.2 292.3L655.3 290.9L655.3 284.8L655 277.9L655 274.4L654.6 263.7L654.6 262.4L654.6 262L654.5 260.3L654.4 251L654.3 248.6L654.1 240.1L626.9 240.1L623.8 248.5L622.6 252.3L619.1 259.4L613.3 266.9L611.4 269.2L608.5 271.3L602.6 275.7L597.2 276.7L593.4 277.8L586 278.5L583.5 278.5L576.6 280.4L569.9 278L566.4 276.6L561.2 275L554.2 269.3L552.1 267.3L548.7 262.4L544.4 256.6L543.3 253.4L540.9 245.1L539.9 240.1L373.7 240.1L373.7 301.5Z" fill="#ff3c00"/>
<path d="M654.1 301.5L653.9 293.4L654 290.1L654 285L653.8 279.2L653.8 274.1L653.4 263.4L653.3 262.2L653.4 261.5L653.3 251.7L653.1 247.6L652.9 240.1L627.4 240.1L624.1 249L623.1 252.1L619.4 259.7L613.3 267.6L611.7 269.5L609.3 271.3L602.8 276.2L596.9 277.2L593.6 278.2L585.8 278.8L583.8 278.8L576.6 280.9L569.6 278.3L566.7 277.2L560.9 275.4L553.2 269.2L551.7 267.7L549.2 264.2L544 257L542.6 253L540.4 245.6L539.3 240.1L373.7 240.1L373.7 301.5Z" fill="#ff3400"/>
<path d="M652.8 301.5L652.6 294.4L652.8 289.4L652.7 285.2L652.5 280.5L652.6 273.7L652.3 265L652 262.1L652.3 260.5L652.2 252.3L651.9 246.7L651.7 240.1L627.9 240.1L624.4 249.6L623.6 252L619.7 259.9L613.3 268.2L612 269.8L610 271.3L603 276.6L596.6 277.7L593.8 278.5L585.6 279.2L584.2 279.2L576.6 281.4L569.2 278.7L566.9 277.8L560.7 275.8L552.2 269L551.3 268.1L549.8 266L543.5 257.3L541.9 252.7L540 246.1L538.7 240.1L373.7 240.1L373.7 301.5Z" fill="#ff2c00"/>
<path d="M651.4 301.5L651.2 295.5L651.5 288.6L651.5 285.4L651.3 281.8L651.4 273.4L651.1 266.7L650.7 262.1L651.1 259.6L651.1 252.9L650.7 245.7L650.5 240.1L628.4 240.1L624.7 250.1L624.2 251.8L620 260.2L613.3 268.9L612.3 270.2L610.7 271.3L603.1 277L596.4 278.2L594 278.9L585.5 279.6L584.5 279.6L576.6 281.9L568.9 279L567.2 278.4L560.4 276.3L551.2 268.8L550.9 268.5L550.4 267.8L543 257.7L541.2 252.3L539.5 246.6L538.1 240.1L373.7 240.1L373.7 301.5Z" fill="#ff2400"/>
<path d="M650 301.5L649.9 296.6L650.2 287.8L650.2 285.6L650.1 283.1L650.2 273L650 268.3L649.4 262.1L650 258.6L649.9 253.5L649.5 244.8L649.3 240.1L628.9 240.1L625 250.7L624.7 251.7L620.4 260.4L613.3 269.6L612.6 270.5L611.4 271.3L603.3 277.4L596.1 278.7L594.2 279.2L585.3 280L584.9 280L576.6 282.3L568.5 279.4L567.5 279L560.2 276.7L551 269.3L550.5 269.1L550.3 268.9L550.1 268.4L542.6 258.1L540.4 251.9L539 247.1L537.6 240.1L373.7 240.1L373.7 301.5Z" fill="#ff1c00"/>
<path d="M648.7 301.5L648.6 297.6L649 287L648.9 285.8L648.9 284.4L649 272.6L648.9 270L648.1 262.1L648.9 257.7L648.8 254.1L648.3 243.8L648.2 240.1L629.4 240.1L625.3 251.2L625.2 251.6L620.7 260.7L613.3 270.3L612.8 270.8L612.1 271.4L603.5 277.8L595.8 279.2L594.5 279.6L586.3 280.3L585.2 280.6L584.9 280.5L576.6 282.8L568.2 279.8L567.8 279.6L559.9 277.1L551.9 270.7L550.1 270L549.4 269.1L548.8 267.7L542.1 258.5L539.7 251.5L538.6 247.6L537 240.1L373.7 240.1L373.7 301.5Z" fill="#ff1400"/>
<path d="M647.3 301.5L647.2 298.7L647.7 286.3L647.7 286L647.7 285.6L647.7 272.3L647.7 271.7L646.8 262.1L647.7 256.8L647.7 254.7L647.1 242.8L647 240.1L629.9 240.1L626.3 249.8L626.5 251.5L625.9 252.2L624.6 253.7L621 261L613.3 271L613.1 271.2L612.9 271.4L603.7 278.2L595.5 279.7L594.7 279.9L589.7 280.4L585.5 281.4L584 281.2L576.6 283.3L568.4 280.3L567.8 280.4L567.3 280L559.6 277.6L552.7 272L549.8 270.8L548.5 269.4L547.6 267L541.6 258.8L539 251.1L538.1 248.1L536.4 240.1L373.7 240.1L373.7 301.5Z" fill="#ff0c00"/>
<path d="M645.9 301.5L645.9 299.8L646.2 290.7L646.2 286.6L646.2 285.2L646.3 273.4L646.2 272.1L646.3 270.7L645.5 262.1L646.6 255.8L646.6 255.4L645.8 241.9L645.8 240.1L630.4 240.1L628.1 246.5L628.6 251.4L626.7 253.7L623 257.9L621.3 261.2L615.9 268.2L614.1 271.4L613.7 271.8L613.3 272L612.6 272.2L603.9 278.6L595.2 280.2L594.9 280.3L593.2 280.4L585.9 282.3L583.1 282L576.6 283.8L569.4 281.2L567.5 281.2L565.8 280L559.4 278L553.6 273.3L549.4 271.7L547.6 269.7L546.3 266.3L541.2 259.2L538.3 250.8L537.6 248.6L535.8 240.1L373.7 240.1L373.7 301.5Z" fill="#ff0400"/>
<path d="M644.6 301.5L644.5 300.8L644.7 297.3L644.6 287.3L644.7 283.9L644.8 275.2L644.6 272L644.8 268.5L644.2 262L645.1 256.8L644.3 254.7L645 248.3L644.6 240.9L644.6 240.1L630.9 240.1L629.8 243.3L630.6 251.3L627.5 255.2L622 261.4L621.7 261.7L616.1 271.4L614.7 272.8L613.3 273.6L610.6 274.1L604.1 279L596.3 280.4L595.3 281L594.7 281L586.2 283.2L582.2 282.7L576.6 284.3L570.4 282L567.2 282.1L564.4 280.1L559.1 278.4L554.4 274.6L549 272.5L546.7 270L545.1 265.6L540.7 259.6L537.5 250.4L537.2 249.1L535.3 240.1L373.7 240.1L373.7 301.5Z" fill="#fb0000"/>
<path d="M643 301.5L643.1 300.5L643 288.1L643.2 282.6L643.2 276.9L643 271.9L643.3 266.3L642.9 262L643.5 258.6L641.6 253.4L643 241.2L631.5 240.4L632.6 251.2L628.3 256.6L624.1 261.4L622.7 263.6L618.1 271.4L615.8 273.9L613.3 275.3L608.7 276.1L604.3 279.4L599 280.4L596 282.1L594 282.1L586.5 284.1L581.3 283.5L576.6 284.8L571.3 282.9L566.8 283L562.9 280.1L558.9 278.9L555.3 276L548.7 273.4L545.8 270.3L543.8 264.9L540.2 260L536.8 250L536.7 249.6L534.7 240.1L373.7 240.1L373.7 301.5Z" fill="#f30000"/>
<path d="M641.1 301.5L641.5 297.8L641.4 288.8L641.7 281.4L641.7 278.7L641.3 271.8L641.8 264.1L641.5 262L641.9 260.3L638.9 252.2L639.6 246.4L634.1 246L634.7 251.1L629.1 258.1L626.2 261.3L623.6 265.4L620.1 271.4L616.8 275L613.3 276.9L606.7 278.1L604.5 279.8L601.8 280.3L596.7 283.2L593.3 283.2L586.8 284.9L580.4 284.2L576.6 285.3L572.3 283.7L566.5 283.9L561.4 280.2L558.6 279.3L556.1 277.3L548.3 274.3L545 270.5L542.6 264.3L539.8 260.4L536.7 251.4L536 250.4L535.7 249.8L535.6 247.2L534.1 240.1L373.7 240.1L373.7 301.5Z" fill="#eb0000"/>
<path d="M639.2 301.5L639.8 295.1L639.8 289.6L640.2 281L640.1 280.3L640.1 279.8L639.7 271.7L640.2 262.2L639.9 262L636 251.9L630 259.5L628.4 261.3L624.5 267.3L622 271.4L617.8 276L613.3 278.5L604.8 280.1L604.6 280.2L604.5 280.3L597.4 284.3L592.6 284.4L587.1 285.8L579.5 284.9L576.6 285.8L573.3 284.6L566.2 284.8L559.9 280.2L558.4 279.7L557 278.6L548 275.1L544.1 270.8L541.4 263.6L539.3 260.7L537.1 254.3L535.1 251.4L534.4 249.7L534 242.5L533.5 240.1L373.7 240.1L373.7 301.5Z" fill="#e30000"/>
<path d="M637.2 301.5L638.2 292.4L638.2 290.3L638.3 287.1L638 280.4L638.3 275.5L638.1 271.5L638.3 266.9L632.3 261.4L631.7 259.8L630.8 261L630.5 261.3L625.4 269.1L624 271.4L618.8 277.1L613.3 280.2L606.2 281.5L604.1 282L598.1 285.5L591.9 285.5L587.4 286.7L578.6 285.7L576.6 286.3L574.3 285.4L565.8 285.7L558.4 280.3L558.1 280.2L557.8 279.9L547.6 276L543.2 271.1L540.1 262.9L538.8 261.1L537.5 257.1L534.3 252.4L533 249.6L532.6 240.9L532.3 240.1L373.7 240.1L373.7 301.5Z" fill="#db0000"/>
<path d="M635.3 301.5L636.2 292.5L636 290.8L636.2 289.1L635.8 280.4L636.4 271.6L635 271.4L627.5 269.1L626.3 271L626 271.4L619.9 278.2L613.3 281.8L607.9 282.8L603.5 283.9L598.7 286.6L591.2 286.6L587.7 287.6L577.7 286.4L576.6 286.7L575.3 286.3L565.5 286.6L558.8 281.7L557.4 281.3L556.2 280.3L547.2 276.8L542.3 271.4L538.9 262.2L538.4 261.5L537.8 260L533.4 253.4L531.7 249.5L531.4 242.6L530.5 240.1L373.7 240.1L373.7 301.5Z" fill="#d30000"/>
<path d="M410.4 240.1L410.4 240.4L409.4 253.2L410 260.1L410 264L409.3 272L409.7 279.1L409.7 285.3L409.5 291.3L410.4 301.3L410.4 301.5L633.4 301.5L633.9 296.9L632.9 290.8L633.9 284.9L633.6 280.5L633.9 276L628.6 275.3L624.7 275.1L620.9 279.2L613.3 283.4L609.5 284.2L602.9 285.7L599.4 287.7L590.6 287.8L588 288.4L576.8 287.1L576.6 287.2L576.2 287.1L565.2 287.5L560 283.7L556.5 282.8L553.7 280.3L546.9 277.7L541.4 271.7L538.2 263.2L537.4 262.2L537.1 261.1L532.6 254.4L530.3 249.4L530.1 244.2L528.7 240.1Z" fill="#cb0000"/>
<path d="M631.5 301.5L631.5 301.3L629.8 290.8L631.5 280.7L631.5 280.6L631.5 280.5L631.3 280.4L622.3 279.9L621.9 280.3L613.3 285.1L611.2 285.5L602.3 287.6L600.1 288.8L589.9 288.9L588.3 289.3L580.2 288.4L577.2 288.9L575.9 288.8L574 288.1L564.8 288.4L561.1 285.6L555.7 284.2L551.2 280.4L546.5 278.5L540.5 271.9L538.6 266.9L535.6 263.2L534.5 259.6L531.7 255.4L529 249.2L528.8 245.8L526.9 240.1L426.1 240.1L426.2 246.1L426 252.4L426.2 259.8L426.2 260.9L426.2 262.4L426 270.6L426.2 274.1L426.1 278.8L426.1 286.2L426.1 289.1L426.1 298.1L426.1 301.5Z" fill="#c30000"/>
<path d="M626.8 301.5L627.3 294L626.7 290.8L627.2 287.7L624.4 287.5L615.5 285.5L613.3 286.7L612.8 286.8L601.6 289.4L600.8 289.9L589.2 290L588.6 290.2L585.6 289.8L578.1 291.2L574.9 290.9L570.1 289.1L564.5 289.3L562.2 287.6L554.8 285.6L548.8 280.4L546.1 279.4L539.7 272.2L539.1 270.6L533.8 264.3L531.9 258L530.8 256.4L527.6 249.1L527.6 247.5L525.1 240.1L438.3 240.1L438.6 246.3L438.4 251.4L438.6 255.7L438.5 261.1L438.7 267.4L438.6 270.9L438.7 274L438.4 281L438.6 286.9L438.6 291.1L438.7 295.7L438.4 301.5Z" fill="#bc0000"/>
<path d="M622 301.5L622.3 296L616.4 294.9L611.5 291.1L602 292.3L600.5 291.8L589.5 292.1L588.1 291.8L579 293.5L574 293L566.3 290.1L564.2 290.2L563.3 289.5L553.9 287.1L546.3 280.4L545.8 280.2L543.7 277.9L538.6 273.4L537.4 271.8L532 265.4L529.9 258.3L529.2 257.1L526.3 249.2L526.2 249L526.2 248.7L523.2 240.1L448.4 240.1L448.4 242.6L448.3 253.1L448.4 258.5L448.5 265.5L448.4 270.9L448.5 276.5L448.6 283.2L448.5 288.8L448.7 298.4L448.7 301.5Z" fill="#b40000"/>
<path d="M615.2 301.5L609 296.7L604.6 297.3L598.4 295.3L591.4 295.5L586.5 294.6L580 295.7L573 295.1L564.7 291.9L563.4 291.7L561.6 290.7L553.1 288.5L547.6 283.7L544.7 282.1L543.1 280.5L537.3 275.4L533.8 270.8L530.2 266.5L528.8 261.8L526.3 257.3L524.4 252L522.9 249L522 241.8L521.4 240.1L457.3 240.1L457.3 245.7L457.5 253.4L457.4 257.3L457.5 266.5L457.6 270.7L457.6 274.9L457.6 284.1L457.7 288.5L457.7 296.9L457.7 301.5Z" fill="#ac0000"/>
<path d="M604.8 301.5L596.2 298.9L593.2 299L584.8 297.3L580.9 298L572.1 297.2L566.4 295L562 294.2L555.6 290.8L552.2 290L550 288.1L543.5 284.3L539.6 280.6L536 277.4L530.3 269.8L528.4 267.6L527.7 265.2L523.5 257.6L522.5 254.8L519.6 248.9L518.8 243.2L517.8 240.1L466.9 240.1L466.9 248.8L466.9 250.9L466.9 253L466.8 260.5L466.9 269.7L466.9 270.3L466.9 271L466.8 280.2L466.9 289.4L466.9 290.7L466.9 292L466.9 301.5Z" fill="#a40000"/>
<path d="M590.6 301.5L583.2 300L581.8 300.3L571.1 299.2L568.2 298.1L560.6 296.7L552.6 292.5L551 292.1L549.8 290.9L542.2 286.5L536.2 280.7L534.7 279.4L526.7 268.8L526.6 268.7L526.6 268.6L520.6 257.8L520.6 257.6L516.3 248.9L516 247.3L513.5 240.1L476.5 240.1L476.3 248.5L476.3 250.2L476.4 258.1L476.2 265L476.1 269.1L476.2 274.1L476.2 280.3L476.1 286.1L476.1 290.8L476.1 295.9L476.1 301.5Z" fill="#9c0000"/>
<path d="M571.9 301.5L570.1 301.3L569.9 301.2L559.1 299.2L555.3 297.1L549 295.4L544.7 290.9L541 288.7L535.2 283.1L533.1 281.9L532.4 280.9L525.5 273.1L522.3 271.4L521.1 267.4L517.9 261.6L515 257.8L512.8 252.4L509.6 248.9L509.9 241.8L509.3 240.1L487.8 240.1L486.9 242.9L486.8 253.4L486.3 257.2L486.6 264.8L486.2 270.8L485.7 278.8L485.7 279.9L485.6 281L485.7 288.4L485.6 293.3L485.3 300.3L485.3 301.5Z" fill="#940000"/>
<path d="M557 301.5L547.1 298.7L540 291.3L539.6 291.1L539.5 290.9L530.7 285.8L527.7 281.3L524.4 277.6L517.8 274.2L515.4 266L515.2 265.6L512.1 261.7L503.4 267.6L502.5 268.5L502.4 268.8L502.4 269L502.2 269.4L498.6 280.2L497.5 285.6L497 290.1L496.9 292.1L495.6 300.6L495.6 301.5Z" fill="#8c0000"/>
<path d="M542.8 301.5L535.5 297.8L530.7 291L528.4 289.7L524.2 283.6L521 283.9L514.5 283.1L511.6 287.5L510.9 290.3L506.6 299.2L506.2 301.5Z" fill="#840000"/>
<path d="M373.7 301.5L386 301.5M373.7 301.5L373.7 289.2M373.7 301.5L385.3 290.3M386 301.5L398.2 301.5M386 301.5L385.3 290.3M386 301.5L393.2 293.3M398.2 301.5L410.5 301.5M398.2 301.5L403 290M398.2 301.5L393.2 293.3M410.5 301.5L422.8 301.5M410.5 301.5L403 290M410.5 301.5L414.9 292.4M422.8 301.5L435.1 301.5M422.8 301.5L414.9 292.4M422.8 301.5L423.3 287.9M422.8 301.5L432.2 291.9M435.1 301.5L447.3 301.5M435.1 301.5L432.2 291.9M435.1 301.5L441.7 290.7M447.3 301.5L459.6 301.5M447.3 301.5L441.7 290.7M447.3 301.5L453.7 287.4M459.6 301.5L471.9 301.5M459.6 301.5L453.7 287.4M459.6 301.5L466.2 290.7M471.9 301.5L484.1 301.5M471.9 301.5L466.2 290.7M471.9 301.5L479.8 290.9M484.1 301.5L496.4 301.5M484.1 301.5L479.8 290.9M484.1 301.5L490.5 295.3M496.4 301.5L508.7 301.5M496.4 301.5L490.5 295.3M496.4 301.5L499.1 291.1M508.7 301.5L521 301.5M508.7 301.5L499.1 291.1M508.7 301.5L514.5 290.1M521 301.5L533.2 301.5M521 301.5L514.5 290.1M521 301.5L527.5 291.1M533.2 301.5L545.5 301.5M533.2 301.5L527.5 291.1M533.2 301.5L539.7 290.9M545.5 301.5L557.8 301.5M545.5 301.5L539.7 290.9M545.5 301.5L551.6 290.9M557.8 301.5L570.1 301.5M557.8 301.5L551.6 290.9M557.8 301.5L564 290.7M570.1 301.5L582.3 301.5M570.1 301.5L564 290.7M570.1 301.5L576.6 287.4M582.3 301.5L594.6 301.5M582.3 301.5L576.6 287.4M582.3 301.5L588.8 290.7M594.6 301.5L606.9 301.5M594.6 301.5L588.8 290.7M594.6 301.5L601.2 290.7M606.9 301.5L619.1 301.5M606.9 301.5L601.2 290.7M606.9 301.5L613.3 287.2M619.1 301.5L631.4 301.5M619.1 301.5L613.3 287.2M619.1 301.5L625.5 290.8M631.4 301.5L643.7 301.5M631.4 301.5L625.5 290.8M631.4 301.5L637.2 290.8M643.7 301.5L656 301.5M643.7 301.5L647.3 286M643.7 301.5L637.2 290.8M643.7 301.5L656.3 291.5M656 301.5L668.2 301.5M656 301.5L656.3 291.5M668.2 301.5L680.5 301.5M668.2 301.5L656.3 291.5M668.2 301.5L670.6 291M680.5 301.5L680.5 289.2M680.5 301.5L670.6 291M373.7 240.1L386 240.1M373.7 240.1L373.7 252.4M373.7 240.1L380.6 246.8M386 240.1L398.2 240.1M386 240.1L380.6 246.8M386 240.1L386.6 252.5M386 240.1L395.5 249M398.2 240.1L410.5 240.1M398.2 240.1L395.5 249M398.2 240.1L404.4 252M410.5 240.1L422.8 240.1M410.5 240.1L404.4 252M410.5 240.1L416.8 254.8M422.8 240.1L435.1 240.1M422.8 240.1L416.8 254.8M422.8 240.1L429.2 251.6M435.1 240.1L447.3 240.1M435.1 240.1L429.2 251.6M435.1 240.1L441.6 251.3M447.3 240.1L459.6 240.1M447.3 240.1L441.6 251.3M447.3 240.1L453.7 254.5M459.6 240.1L471.9 240.1M459.6 240.1L453.7 254.5M459.6 240.1L465.6 251.1M471.9 240.1L484.1 240.1M471.9 240.1L465.6 251.1M471.9 240.1L475.3 249.5M484.1 240.1L496.4 240.1M484.1 240.1L475.3 249.5M484.1 240.1L483.8 255M484.1 240.1L493.7 249.8M496.4 240.1L508.7 240.1M496.4 240.1L493.7 249.8M496.4 240.1L504 248.9M508.7 240.1L521 240.1M508.7 240.1L504 248.9M508.7 240.1L515 248.9M521 240.1L533.2 240.1M521 240.1L515 248.9M521 240.1L526.4 249M533.2 240.1L545.5 240.1M533.2 240.1L526.4 249M533.2 240.1L536.5 249.8M545.5 240.1L557.8 240.1M545.5 240.1L536.5 249.8M545.5 240.1L546.4 255M545.5 240.1L555 249M557.8 240.1L570.1 240.1M557.8 240.1L555 249M557.8 240.1L565.3 251.1M570.1 240.1L582.3 240.1M570.1 240.1L565.3 251.1M570.1 240.1L576.6 253.8M582.3 240.1L594.6 240.1M582.3 240.1L576.6 253.8M582.3 240.1L589.3 251.3M594.6 240.1L606.9 240.1M594.6 240.1L589.3 251.3M594.6 240.1L601 251.3M606.9 240.1L619.1 240.1M606.9 240.1L601 251.3M606.9 240.1L613.3 254.8M619.1 240.1L631.4 240.1M619.1 240.1L613.3 254.8M619.1 240.1L625.5 251.5M631.4 240.1L643.7 240.1M631.4 240.1L625.5 251.5M631.4 240.1L636.5 251.1M643.7 240.1L656 240.1M643.7 240.1L636.5 251.1M643.7 240.1L656.1 250.1M643.7 240.1L646.3 255.5M656 240.1L668.2 240.1M656 240.1L656.1 250.1M668.2 240.1L680.5 240.1M668.2 240.1L656.1 250.1M668.2 240.1L670.7 250.1M680.5 240.1L680.5 252.4M680.5 240.1L670.7 250.1M373.7 289.2L373.7 277M373.7 289.2L384.1 280.5M373.7 289.2L385.3 290.3M373.7 277L373.7 264.7M373.7 277L386.1 270.9M373.7 277L384.1 280.5M373.7 264.7L373.7 252.4M373.7 264.7L383.3 261.7M373.7 264.7L386.1 270.9M373.7 252.4L380.6 246.8M373.7 252.4L386.6 252.5M373.7 252.4L383.3 261.7M680.5 289.2L680.5 277M680.5 289.2L673 282.5M680.5 289.2L670.6 291M680.5 277L680.5 264.7M680.5 277L668.4 270.6M680.5 277L673 282.5M680.5 264.7L680.5 252.4M680.5 264.7L673.4 259M680.5 264.7L668.4 270.6M680.5 252.4L670.7 250.1M680.5 252.4L673.4 259M380.6 246.8L386.6 252.5M386.6 252.5L395.5 249M386.6 252.5L383.3 261.7M386.6 252.5L395.5 262M395.5 249L404.4 252M395.5 249L395.5 262M404.4 252L416.8 254.8M404.4 252L395.5 262M404.4 252L407.6 262M416.8 254.8L429.2 251.6M416.8 254.8L407.6 262M416.8 254.8L425.8 260.9M416.8 254.8L416.5 269.4M429.2 251.6L425.8 260.9M429.2 251.6L435.2 260.9M429.2 251.6L441.6 251.3M383.3 261.7L395.5 262M383.3 261.7L386.1 270.9M395.5 262L407.6 262M395.5 262L386.1 270.9M395.5 262L394 274.1M395.5 262L403.5 274.1M407.6 262L403.5 274.1M407.6 262L416.5 269.4M425.8 260.9L435.2 260.9M425.8 260.9L416.5 269.4M425.8 260.9L428.7 270.9M435.2 260.9L428.7 270.9M435.2 260.9L441.6 251.3M435.2 260.9L444.6 261.4M435.2 260.9L440.6 270.9M386.1 270.9L394 274.1M386.1 270.9L384.1 280.5M394 274.1L403.5 274.1M394 274.1L384.1 280.5M394 274.1L393.1 282.8M403.5 274.1L416.5 269.4M403.5 274.1L393.1 282.8M403.5 274.1L413.8 282.3M403.5 274.1L403 290M416.5 269.4L428.7 270.9M416.5 269.4L423.3 277.8M416.5 269.4L413.8 282.3M428.7 270.9L423.3 277.8M428.7 270.9L434.2 281.4M428.7 270.9L440.6 270.9M384.1 280.5L393.1 282.8M384.1 280.5L385.3 290.3M423.3 277.8L413.8 282.3M423.3 277.8L434.2 281.4M423.3 277.8L423.3 287.9M393.1 282.8L385.3 290.3M393.1 282.8L403 290M393.1 282.8L393.2 293.3M413.8 282.3L403 290M413.8 282.3L414.9 292.4M413.8 282.3L423.3 287.9M434.2 281.4L423.3 287.9M434.2 281.4L432.2 291.9M434.2 281.4L440.6 270.9M434.2 281.4L445.1 280.3M434.2 281.4L441.7 290.7M385.3 290.3L393.2 293.3M403 290L414.9 292.4M403 290L393.2 293.3M414.9 292.4L423.3 287.9M423.3 287.9L432.2 291.9M432.2 291.9L441.7 290.7M441.6 251.3L453.7 254.5M441.6 251.3L444.6 261.4M453.7 254.5L465.6 251.1M453.7 254.5L444.6 261.4M453.7 254.5L462.2 260.9M453.7 254.5L453.7 270.9M465.6 251.1L475.3 249.5M465.6 251.1L462.2 260.9M465.6 251.1L471.6 260.1M475.3 249.5L483.8 255M475.3 249.5L471.6 260.1M483.8 255L493.7 249.8M483.8 255L471.6 260.1M483.8 255L491.7 262M483.8 255L479.8 268.7M493.7 249.8L491.7 262M493.7 249.8L504 248.9M493.7 249.8L500 257.5M444.6 261.4L440.6 270.9M444.6 261.4L453.7 270.9M462.2 260.9L471.6 260.1M462.2 260.9L453.7 270.9M462.2 260.9L466.6 270.4M471.6 260.1L466.6 270.4M471.6 260.1L479.8 268.7M491.7 262L479.8 268.7M491.7 262L490.7 272.4M491.7 262L500 257.5M491.7 262L502.6 268.9M440.6 270.9L453.7 270.9M440.6 270.9L445.1 280.3M453.7 270.9L466.6 270.4M453.7 270.9L445.1 280.3M453.7 270.9L462.4 280M453.7 270.9L453.7 287.4M466.6 270.4L479.8 268.7M466.6 270.4L462.4 280M466.6 270.4L471.9 280.5M479.8 268.7L490.7 272.4M479.8 268.7L471.9 280.5M479.8 268.7L484.8 280M490.7 272.4L484.8 280M490.7 272.4L495.7 279.5M490.7 272.4L502.6 268.9M445.1 280.3L441.7 290.7M445.1 280.3L453.7 287.4M462.4 280L471.9 280.5M462.4 280L453.7 287.4M462.4 280L466.2 290.7M471.9 280.5L484.8 280M471.9 280.5L466.2 290.7M471.9 280.5L479.8 290.9M484.8 280L495.7 279.5M484.8 280L479.8 290.9M484.8 280L489.9 286.7M495.7 279.5L489.9 286.7M495.7 279.5L502.6 268.9M495.7 279.5L505.3 281.9M495.7 279.5L499.1 291.1M441.7 290.7L453.7 287.4M453.7 287.4L466.2 290.7M466.2 290.7L479.8 290.9M479.8 290.9L490.5 295.3M479.8 290.9L489.9 286.7M490.5 295.3L489.9 286.7M490.5 295.3L499.1 291.1M489.9 286.7L499.1 291.1M504 248.9L515 248.9M504 248.9L500 257.5M504 248.9L509.5 257.8M515 248.9L526.4 249M515 248.9L509.5 257.8M515 248.9L520.4 257.8M526.4 249L536.5 249.8M526.4 249L520.4 257.8M526.4 249L530.3 257M536.5 249.8L546.4 255M536.5 249.8L530.3 257M536.5 249.8L538.1 261.7M546.4 255L555 249M546.4 255L538.1 261.7M546.4 255L550.7 268.7M546.4 255L559 260.1M555 249L565.3 251.1M555 249L559 260.1M500 257.5L509.5 257.8M500 257.5L502.6 268.9M509.5 257.8L520.4 257.8M509.5 257.8L502.6 268.9M509.5 257.8L515 265.9M520.4 257.8L530.3 257M520.4 257.8L515 265.9M520.4 257.8L526.5 268.7M530.3 257L538.1 261.7M530.3 257L526.5 268.7M538.1 261.7L526.5 268.7M538.1 261.7L539.2 272.4M538.1 261.7L550.7 268.7M502.6 268.9L515 265.9M502.6 268.9L514.5 276.3M502.6 268.9L505.3 281.9M515 265.9L526.5 268.7M515 265.9L514.5 276.3M526.5 268.7L539.2 272.4M526.5 268.7L514.5 276.3M526.5 268.7L523.4 281.7M526.5 268.7L533.8 280.8M539.2 272.4L550.7 268.7M539.2 272.4L533.8 280.8M539.2 272.4L545.7 280.5M550.7 268.7L545.7 280.5M550.7 268.7L559 260.1M550.7 268.7L563.7 270.9M550.7 268.7L558 280.3M514.5 276.3L505.3 281.9M514.5 276.3L523.4 281.7M514.5 276.3L514.5 290.1M505.3 281.9L499.1 291.1M505.3 281.9L514.5 290.1M523.4 281.7L533.8 280.8M523.4 281.7L514.5 290.1M523.4 281.7L527.5 291.1M533.8 280.8L545.7 280.5M533.8 280.8L527.5 291.1M533.8 280.8L539.7 290.9M545.7 280.5L539.7 290.9M545.7 280.5L551.6 290.9M545.7 280.5L558 280.3M499.1 291.1L514.5 290.1M514.5 290.1L527.5 291.1M527.5 291.1L539.7 290.9M539.7 290.9L551.6 290.9M551.6 290.9L558 280.3M551.6 290.9L564 290.7M565.3 251.1L576.6 253.8M565.3 251.1L559 260.1M565.3 251.1L568.3 260.9M576.6 253.8L589.3 251.3M576.6 253.8L568.3 260.9M576.6 253.8L585.5 261.2M576.6 253.8L576.6 271.1M589.3 251.3L601 251.3M589.3 251.3L585.5 261.2M589.3 251.3L594.8 260.9M601 251.3L613.3 254.8M601 251.3L594.8 260.9M601 251.3L604.7 261.4M613.3 254.8L604.7 261.4M613.3 254.8L613.3 271.4M613.3 254.8L625.5 251.5M613.3 254.8L621.6 261.4M559 260.1L568.3 260.9M559 260.1L563.7 270.9M568.3 260.9L563.7 270.9M568.3 260.9L576.6 271.1M585.5 261.2L594.8 260.9M585.5 261.2L576.6 271.1M585.5 261.2L589.3 271.4M594.8 260.9L604.7 261.4M594.8 260.9L589.3 271.4M594.8 260.9L600.5 271.2M604.7 261.4L600.5 271.2M604.7 261.4L613.3 271.4M563.7 270.9L576.6 271.1M563.7 270.9L558 280.3M563.7 270.9L568 280M576.6 271.1L589.3 271.4M576.6 271.1L568 280M576.6 271.1L585.1 280.3M576.6 271.1L576.6 287.4M589.3 271.4L600.5 271.2M589.3 271.4L585.1 280.3M589.3 271.4L595 280.5M600.5 271.2L613.3 271.4M600.5 271.2L595 280.5M600.5 271.2L604.7 280.3M613.3 271.4L604.7 280.3M613.3 271.4L613.3 287.2M613.3 271.4L621.6 261.4M613.3 271.4L626.5 271.4M613.3 271.4L622 280.4M558 280.3L568 280M558 280.3L564 290.7M568 280L564 290.7M568 280L576.6 287.4M585.1 280.3L595 280.5M585.1 280.3L576.6 287.4M585.1 280.3L588.8 290.7M595 280.5L604.7 280.3M595 280.5L588.8 290.7M595 280.5L601.2 290.7M604.7 280.3L601.2 290.7M604.7 280.3L613.3 287.2M564 290.7L576.6 287.4M576.6 287.4L588.8 290.7M588.8 290.7L601.2 290.7M601.2 290.7L613.3 287.2M613.3 287.2L622 280.4M613.3 287.2L625.5 290.8M625.5 251.5L636.5 251.1M625.5 251.5L621.6 261.4M625.5 251.5L630.9 261.2M636.5 251.1L646.3 255.5M636.5 251.1L630.9 261.2M636.5 251.1L640.3 262M656.1 250.1L670.7 250.1M656.1 250.1L646.3 255.5M656.1 250.1L654.2 262.2M656.1 250.1L664.5 258.5M670.7 250.1L664.5 258.5M670.7 250.1L673.4 259M646.3 255.5L640.3 262M646.3 255.5L654.2 262.2M621.6 261.4L630.9 261.2M621.6 261.4L626.5 271.4M630.9 261.2L640.3 262M630.9 261.2L626.5 271.4M630.9 261.2L636.5 271.4M640.3 262L654.2 262.2M640.3 262L636.5 271.4M640.3 262L647.4 272.2M654.2 262.2L664.5 258.5M654.2 262.2L647.4 272.2M654.2 262.2L668.4 270.6M654.2 262.2L657.6 275.2M664.5 258.5L673.4 259M664.5 258.5L668.4 270.6M673.4 259L668.4 270.6M626.5 271.4L636.5 271.4M626.5 271.4L622 280.4M626.5 271.4L631.4 280.6M636.5 271.4L647.4 272.2M636.5 271.4L631.4 280.6M636.5 271.4L640.4 280.3M647.4 272.2L657.6 275.2M647.4 272.2L640.4 280.3M647.4 272.2L647.3 286M668.4 270.6L657.6 275.2M668.4 270.6L663.2 283.5M668.4 270.6L673 282.5M657.6 275.2L647.3 286M657.6 275.2L663.2 283.5M622 280.4L631.4 280.6M622 280.4L625.5 290.8M631.4 280.6L640.4 280.3M631.4 280.6L625.5 290.8M631.4 280.6L637.2 290.8M640.4 280.3L647.3 286M640.4 280.3L637.2 290.8M647.3 286L663.2 283.5M647.3 286L637.2 290.8M647.3 286L656.3 291.5M663.2 283.5L673 282.5M663.2 283.5L656.3 291.5M663.2 283.5L670.6 291M673 282.5L670.6 291M625.5 290.8L637.2 290.8M656.3 291.5L670.6 291" fill="none" stroke="#000" stroke-width="1.0" stroke-linecap="round"/></g>
<rect x="373.7" y="240.14" width="306.8" height="61.36" fill="none" stroke="#000" stroke-width="0.5"/></g>
<text x="17.2" y="94.5" text-anchor="middle" font-size="20.0">0</text>
<text x="78.6" y="94.5" text-anchor="middle" font-size="20.0">1</text>
<text x="139.9" y="94.5" text-anchor="middle" font-size="20.0">2</text>
<text x="201.3" y="94.5" text-anchor="middle" font-size="20.0">3</text>
<text x="262.6" y="94.5" text-anchor="middle" font-size="20.0">4</text>
<text x="324" y="94.5" text-anchor="middle" font-size="20.0">5</text>
<text x="10.2" y="80.6" text-anchor="end" font-size="20.0">0</text>
<text x="9.9" y="19.2" text-anchor="end" font-size="20.0">1</text>
<text x="373.7" y="90.8" text-anchor="middle" font-size="20.0">0</text>
<text x="435.1" y="90.8" text-anchor="middle" font-size="20.0">1</text>
<text x="496.4" y="90.8" text-anchor="middle" font-size="20.0">2</text>
<text x="557.8" y="90.8" text-anchor="middle" font-size="20.0">3</text>
<text x="619.1" y="90.8" text-anchor="middle" font-size="20.0">4</text>
<text x="680.5" y="90.8" text-anchor="middle" font-size="20.0">5</text>
<text x="366.7" y="76.9" text-anchor="end" font-size="20.0">0</text>
<text x="366.4" y="15.5" text-anchor="end" font-size="20.0">1</text>
<text x="17.2" y="321.5" text-anchor="middle" font-size="20.0">0</text>
<text x="78.6" y="321.5" text-anchor="middle" font-size="20.0">1</text>
<text x="139.9" y="321.5" text-anchor="middle" font-size="20.0">2</text>
<text x="201.3" y="321.5" text-anchor="middle" font-size="20.0">3</text>
<text x="262.6" y="321.5" text-anchor="middle" font-size="20.0">4</text>
<text x="324" y="321.5" text-anchor="middle" font-size="20.0">5</text>
<text x="10.2" y="307.6" text-anchor="end" font-size="20.0">0</text>
<text x="9.9" y="246.2" text-anchor="end" font-size="20.0">1</text>
<text x="373.7" y="321.5" text-anchor="middle" font-size="20.0">0</text>
<text x="435.1" y="321.5" text-anchor="middle" font-size="20.0">1</text>
<text x="496.4" y="321.5" text-anchor="middle" font-size="20.0">2</text>
<text x="557.8" y="321.5" text-anchor="middle" font-size="20.0">3</text>
<text x="619.1" y="321.5" text-anchor="middle" font-size="20.0">4</text>
<text x="680.5" y="321.5" text-anchor="middle" font-size="20.0">5</text>
<text x="366.7" y="307.6" text-anchor="end" font-size="20.0">0</text>
<text x="366.4" y="246.2" text-anchor="end" font-size="20.0">1</text>
<rect x="17.2" y="116" width="306.8" height="25.8" fill="url(#jet)"/>
<text x="17.2" y="162" text-anchor="middle" font-size="20.0">0</text>
<text x="61.3" y="162" text-anchor="middle" font-size="20.0">0.2</text>
<text x="105.4" y="162" text-anchor="middle" font-size="20.0">0.4</text>
<text x="149.4" y="162" text-anchor="middle" font-size="20.0">0.6</text>
<text x="193.5" y="162" text-anchor="middle" font-size="20.0">0.8</text>
<text x="237.6" y="162" text-anchor="middle" font-size="20.0">1</text>
<text x="281.7" y="162" text-anchor="middle" font-size="20.0">1.2</text>
<path d="M17.2 116v7.8M17.2 141.8v-7.8M61.3 116v7.8M61.3 141.8v-7.8M105.4 116v7.8M105.4 141.8v-7.8M149.4 116v7.8M149.4 141.8v-7.8M193.5 116v7.8M193.5 141.8v-7.8M237.6 116v7.8M237.6 141.8v-7.8M281.7 116v7.8M281.7 141.8v-7.8" stroke="#b4b4b4" stroke-opacity="0.75" stroke-width="0.7" fill="none"/>
<rect x="17.2" y="116" width="306.8" height="25.8" fill="none" stroke="#000" stroke-width="0.6"/>
<rect x="373.7" y="112" width="306.8" height="25.8" fill="url(#jet)"/>
<text x="373.7" y="158" text-anchor="middle" font-size="20.0">0</text>
<text x="457.1" y="162.2" text-anchor="middle" font-size="20.0" word-spacing="-1">5 · 10<tspan dx="1.3" dy="-7.8" font-size="15.5" letter-spacing="0.7">−2</tspan></text>
<text x="541.4" y="158" text-anchor="middle" font-size="20.0">0.1</text>
<text x="625.2" y="158" text-anchor="middle" font-size="20.0">0.15</text>
<path d="M373.7 112v7.8M373.7 137.8v-7.8M457.5 112v7.8M457.5 137.8v-7.8M541.4 112v7.8M541.4 137.8v-7.8M625.2 112v7.8M625.2 137.8v-7.8" stroke="#b4b4b4" stroke-opacity="0.75" stroke-width="0.7" fill="none"/>
<rect x="373.7" y="112" width="306.8" height="25.8" fill="none" stroke="#000" stroke-width="0.6"/>
<rect x="17.2" y="342.7" width="306.8" height="25.8" fill="url(#jet)"/>
<text transform="translate(51.5 388.7) scale(1.28 1)" font-size="20.0">−</text>
<text x="70.7" y="388.7" text-anchor="middle" font-size="20.0">2</text>
<text x="110.4" y="388.7" text-anchor="middle" font-size="20.0">0</text>
<text x="156.9" y="388.7" text-anchor="middle" font-size="20.0">2</text>
<text x="203.4" y="388.7" text-anchor="middle" font-size="20.0">4</text>
<text x="249.9" y="388.7" text-anchor="middle" font-size="20.0">6</text>
<text x="296.3" y="388.7" text-anchor="middle" font-size="20.0">8</text>
<path d="M63.9 342.7v7.8M63.9 368.5v-7.8M110.4 342.7v7.8M110.4 368.5v-7.8M156.9 342.7v7.8M156.9 368.5v-7.8M203.4 342.7v7.8M203.4 368.5v-7.8M249.9 342.7v7.8M249.9 368.5v-7.8M296.3 342.7v7.8M296.3 368.5v-7.8" stroke="#b4b4b4" stroke-opacity="0.75" stroke-width="0.7" fill="none"/>
<rect x="17.2" y="342.7" width="306.8" height="25.8" fill="none" stroke="#000" stroke-width="0.6"/>
<text x="323.4" y="415.8" text-anchor="end" font-size="20.0">·10<tspan dx="1.3" dy="-7.3" font-size="15.5" letter-spacing="0.7">−2</tspan></text>
<rect x="373.7" y="342.7" width="306.8" height="25.8" fill="url(#jet)"/>
<text transform="translate(378.3 388.7) scale(1.28 1)" font-size="20.0">−</text>
<text x="397.5" y="388.7" text-anchor="middle" font-size="20.0">4</text>
<text transform="translate(470 388.7) scale(1.28 1)" font-size="20.0">−</text>
<text x="489.2" y="388.7" text-anchor="middle" font-size="20.0">2</text>
<text x="574.1" y="388.7" text-anchor="middle" font-size="20.0">0</text>
<text x="665.8" y="388.7" text-anchor="middle" font-size="20.0">2</text>
<path d="M390.7 342.7v7.8M390.7 368.5v-7.8M482.4 342.7v7.8M482.4 368.5v-7.8M574.1 342.7v7.8M574.1 368.5v-7.8M665.8 342.7v7.8M665.8 368.5v-7.8" stroke="#b4b4b4" stroke-opacity="0.75" stroke-width="0.7" fill="none"/>
<rect x="373.7" y="342.7" width="306.8" height="25.8" fill="none" stroke="#000" stroke-width="0.6"/>
<text x="679.9" y="415.8" text-anchor="end" font-size="20.0">·10<tspan dx="1.3" dy="-7.3" font-size="15.5" letter-spacing="0.7">−2</tspan></text>
<text x="161.8" y="199" text-anchor="middle" font-size="18" letter-spacing="0.9" word-spacing="1.2">(a) Spatial mode 1</text>
<text x="518.5" y="199" text-anchor="middle" font-size="18" letter-spacing="0.9" word-spacing="1.2">(b) Spatial mode 2</text>
<text x="162.3" y="447" text-anchor="middle" font-size="18" letter-spacing="0.9" word-spacing="1.2">(c) Spatial mode 3</text>
<text x="518.8" y="447" text-anchor="middle" font-size="18" letter-spacing="0.9" word-spacing="1.2">(d) Spatial mode 4</text>
</svg>
</body></html>
